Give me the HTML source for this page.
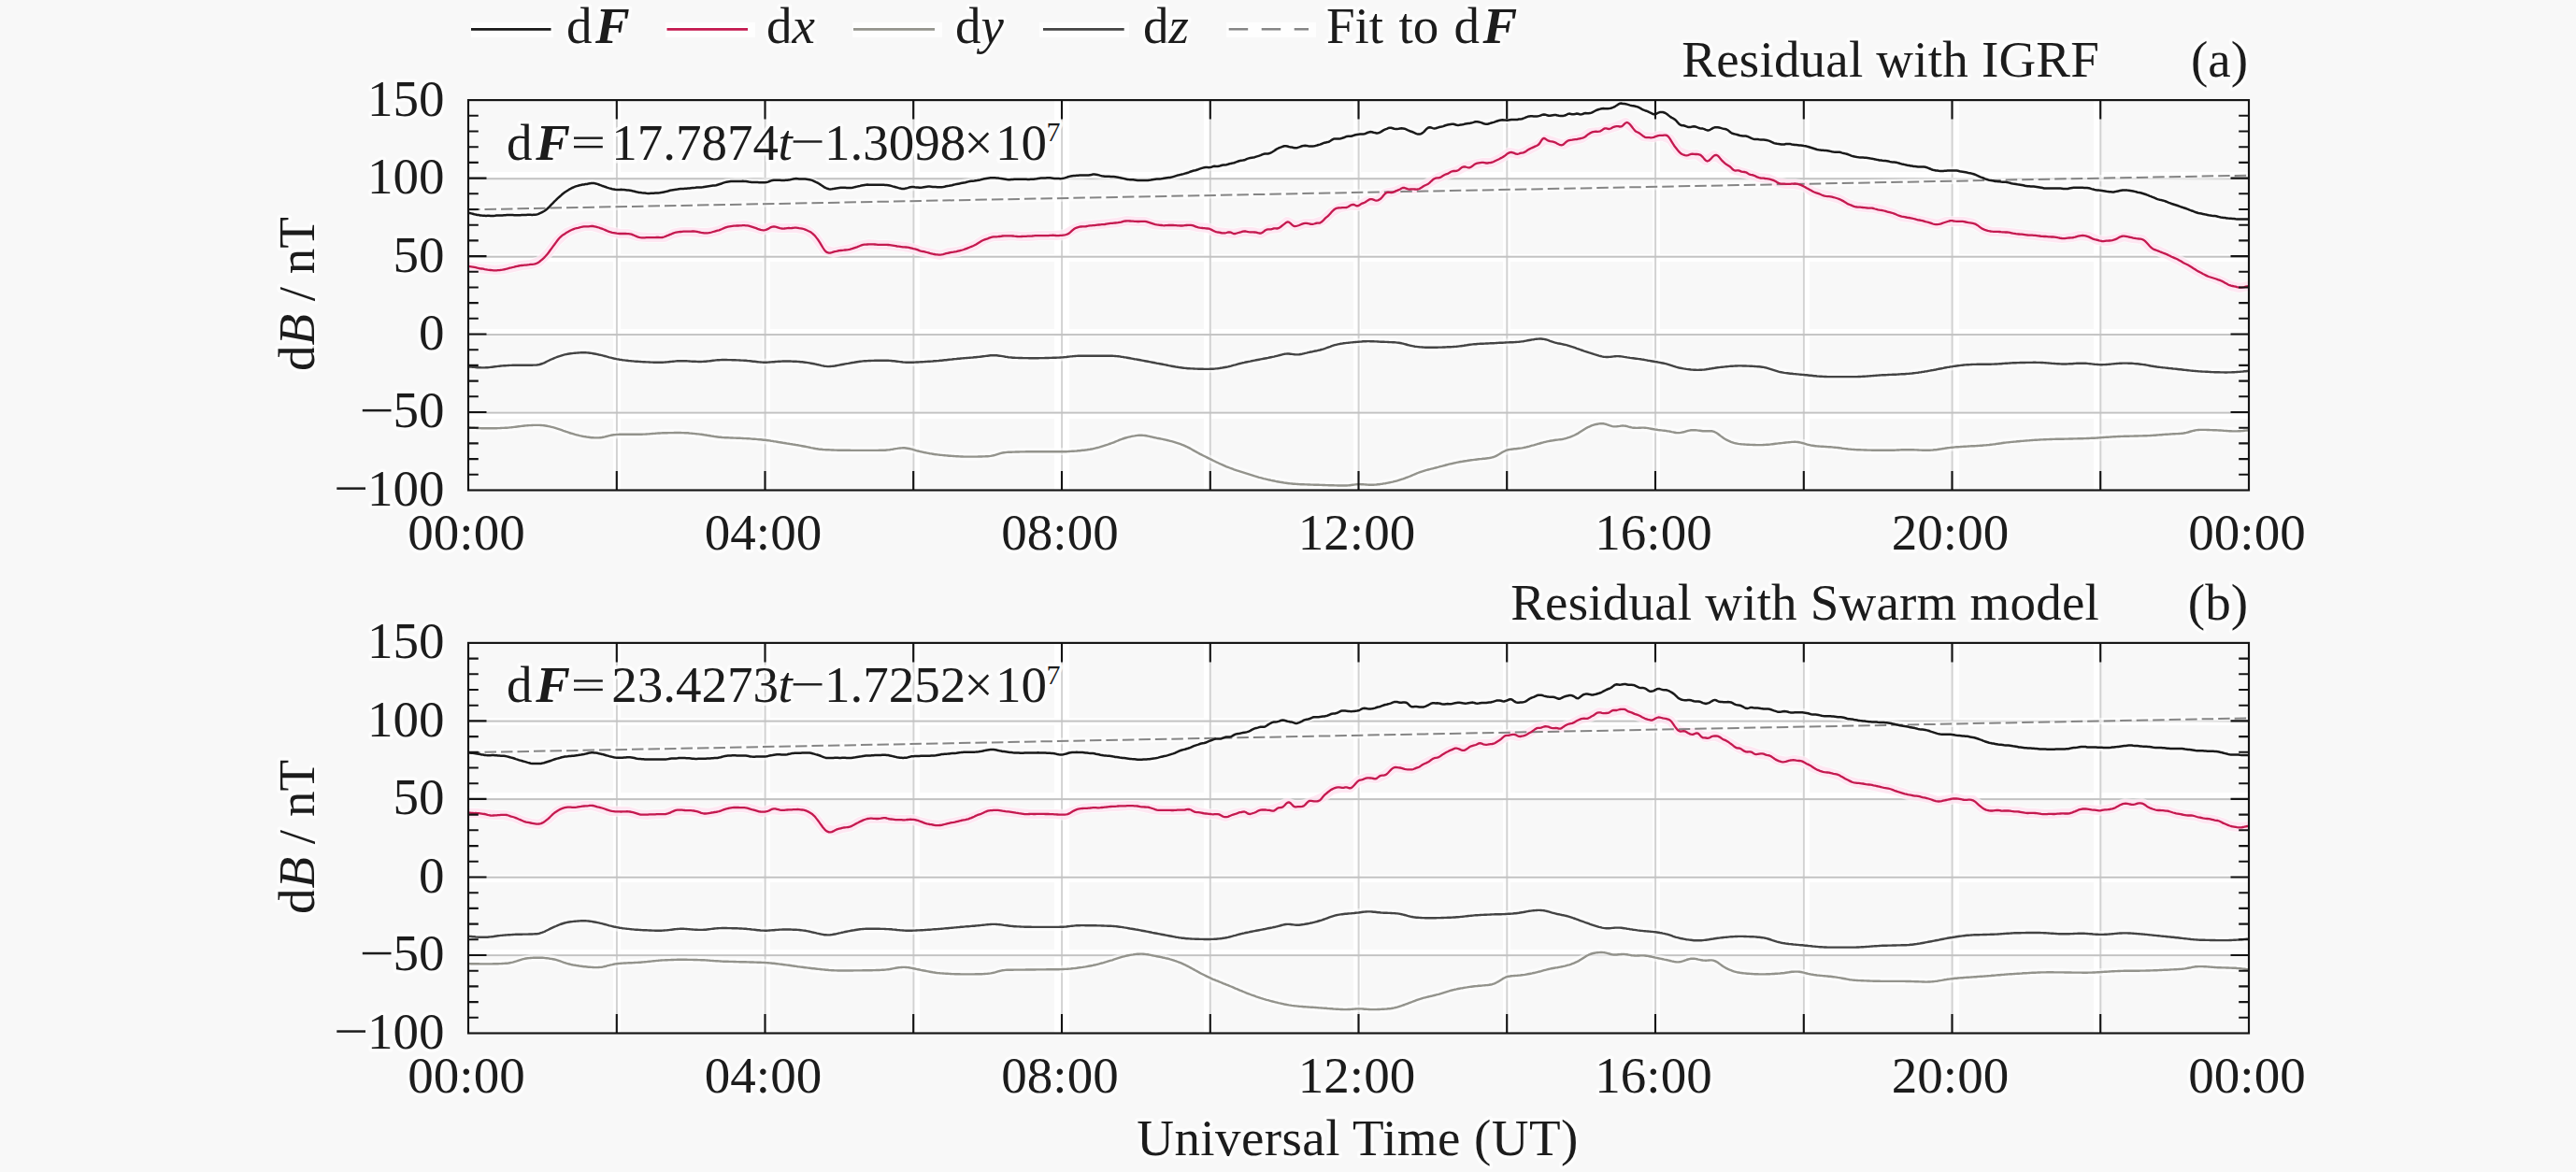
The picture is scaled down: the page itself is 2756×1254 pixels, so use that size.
<!DOCTYPE html>
<html><head><meta charset="utf-8"><title>chart</title>
<style>
html,body{margin:0;padding:0;background:#f8f8f8;}
body{width:2756px;height:1254px;overflow:hidden;}
svg{display:block;}
text{font-family:"Liberation Serif",serif;font-size:55px;fill:#1c1c1c;stroke:#ffffff;stroke-opacity:0.75;stroke-width:7px;stroke-linejoin:round;paint-order:stroke;}
.i{font-style:italic;}
.bi{font-style:italic;font-weight:bold;}
</style></head><body>
<svg width="2756" height="1254" viewBox="0 0 2756 1254">
<rect x="0" y="0" width="2756" height="1254" fill="#f8f8f8"/>
<defs><clipPath id="clipa"><rect x="501.0" y="107.1" width="1905.0" height="417.4"/></clipPath></defs>
<g><g fill="#ffffff"><rect x="656.0" y="107.1" width="8.0" height="417.4"/><rect x="816.0" y="107.1" width="8.0" height="417.4"/><rect x="976.0" y="107.1" width="8.0" height="417.4"/><rect x="1128.0" y="107.1" width="16.0" height="417.4"/><rect x="1288.0" y="107.1" width="8.0" height="417.4"/><rect x="1448.0" y="107.1" width="8.0" height="417.4"/><rect x="1608.0" y="107.1" width="8.0" height="417.4"/><rect x="1768.0" y="107.1" width="8.0" height="417.4"/><rect x="1928.0" y="107.1" width="8.0" height="417.4"/><rect x="2088.0" y="107.1" width="8.0" height="417.4"/><rect x="2240.0" y="107.1" width="8.0" height="417.4"/><rect x="501.0" y="184.0" width="1905.0" height="8.0"/><rect x="501.0" y="272.0" width="1905.0" height="8.0"/><rect x="501.0" y="352.0" width="1905.0" height="8.0"/><rect x="501.0" y="440.0" width="1905.0" height="8.0"/></g><g fill="#d2d2d2"><rect x="658.9" y="107.1" width="2" height="417.4"/><rect x="817.6" y="107.1" width="2" height="417.4"/><rect x="976.4" y="107.1" width="2" height="417.4"/><rect x="1135.1" y="107.1" width="2" height="417.4"/><rect x="1293.8" y="107.1" width="2" height="417.4"/><rect x="1452.6" y="107.1" width="2" height="417.4"/><rect x="1611.3" y="107.1" width="2" height="417.4"/><rect x="1770.1" y="107.1" width="2" height="417.4"/><rect x="1928.8" y="107.1" width="2" height="417.4"/><rect x="2087.6" y="107.1" width="2" height="417.4"/><rect x="2246.3" y="107.1" width="2" height="417.4"/></g><g fill="#c2c2c2"><rect x="501.0" y="190.2" width="1905.0" height="2"/><rect x="501.0" y="273.7" width="1905.0" height="2"/><rect x="501.0" y="357.1" width="1905.0" height="2"/><rect x="501.0" y="440.6" width="1905.0" height="2"/></g></g>
<g clip-path="url(#clipa)"><line x1="501.0" y1="224.3" x2="2406.0" y2="187.6" stroke="#ffffff" stroke-opacity="0.55" stroke-width="7"/>
<polyline points="501,457 511,458 520,458 530,458 539,458 549,457 558,456 568,455 577,455 587,456 596,459 606,462 615,465 625,467 634,468 644,468 653,466 663,465 672,465 682,465 692,464 701,464 711,463 720,463 730,463 739,464 749,465 758,466 768,468 777,468 787,469 796,469 806,470 815,471 825,472 834,473 844,475 853,476 863,478 872,480 882,481 892,482 901,482 911,482 920,482 930,482 939,482 949,482 958,480 968,479 977,481 987,484 996,485 1006,487 1015,488 1025,488 1034,489 1044,489 1053,488 1063,487 1072,485 1082,484 1092,483 1101,483 1111,483 1120,483 1130,483 1139,483 1149,483 1158,482 1168,481 1177,478 1187,475 1196,471 1206,468 1215,466 1225,466 1234,468 1244,470 1253,472 1263,475 1273,479 1282,485 1292,490 1301,494 1311,499 1320,502 1330,505 1339,508 1349,511 1358,514 1368,515 1377,517 1387,518 1396,518 1406,519 1415,519 1425,519 1434,520 1444,519 1454,518 1463,519 1473,519 1482,517 1492,515 1501,512 1511,509 1520,505 1530,502 1539,500 1549,497 1558,495 1568,493 1577,492 1587,491 1596,489 1606,485 1615,481 1625,480 1634,478 1644,475 1654,473 1663,471 1673,470 1682,467 1692,462 1701,456 1711,453 1720,455 1730,456 1739,456 1749,458 1758,458 1768,459 1777,460 1787,462 1796,463 1806,461 1815,460 1825,461 1834,462 1844,469 1854,473 1863,475 1873,476 1882,476 1892,476 1901,475 1911,474 1920,473 1930,474 1939,477 1949,478 1958,478 1968,479 1977,480 1987,481 1996,482 2006,482 2015,482 2025,482 2035,481 2044,481 2054,482 2063,482 2073,481 2082,480 2092,478 2101,478 2111,477 2120,477 2130,476 2139,474 2149,473 2158,472 2168,472 2177,471 2187,470 2196,470 2206,470 2216,469 2225,469 2235,469 2244,468 2254,468 2263,467 2273,467 2282,467 2292,466 2301,466 2311,465 2320,465 2330,464 2339,463 2349,460 2358,460 2368,460 2377,461 2387,461 2396,461 2406,460" fill="none" stroke="#ffffff" stroke-opacity="0.55" stroke-width="8" stroke-linejoin="round"/>
<polyline points="501,392 511,393 520,393 530,392 539,391 549,391 558,391 568,391 577,390 587,386 596,382 606,379 615,378 625,377 634,378 644,380 653,383 663,385 672,386 682,387 692,387 701,388 711,388 720,387 730,386 739,387 749,387 758,386 768,385 777,385 787,385 796,386 806,387 815,388 825,387 834,387 844,387 853,387 863,388 872,390 882,392 892,392 901,390 911,388 920,387 930,386 939,386 949,386 958,387 968,388 977,388 987,387 996,387 1006,386 1015,385 1025,384 1034,383 1044,382 1053,381 1063,380 1072,381 1082,383 1092,383 1101,383 1111,383 1120,383 1130,383 1139,382 1149,381 1158,381 1168,381 1177,381 1187,381 1196,381 1206,383 1215,384 1225,386 1234,388 1244,390 1253,392 1263,393 1273,394 1282,395 1292,395 1301,394 1311,393 1320,391 1330,388 1339,386 1349,384 1358,383 1368,380 1377,378 1387,379 1396,378 1406,376 1415,374 1425,370 1434,368 1444,367 1454,366 1463,365 1473,365 1482,366 1492,366 1501,368 1511,370 1520,371 1530,372 1539,372 1549,371 1558,371 1568,370 1577,368 1587,368 1596,367 1606,367 1615,366 1625,366 1634,364 1644,363 1654,363 1663,366 1673,368 1682,371 1692,374 1701,378 1711,381 1720,382 1730,381 1739,382 1749,383 1758,385 1768,387 1777,388 1787,391 1796,393 1806,395 1815,396 1825,395 1834,394 1844,393 1854,392 1863,391 1873,392 1882,392 1892,394 1901,397 1911,399 1920,400 1930,401 1939,402 1949,403 1958,403 1968,403 1977,403 1987,403 1996,403 2006,402 2015,401 2025,401 2035,400 2044,400 2054,398 2063,397 2073,395 2082,393 2092,392 2101,391 2111,390 2120,390 2130,390 2139,389 2149,389 2158,388 2168,388 2177,388 2187,388 2196,389 2206,389 2216,389 2225,389 2235,389 2244,390 2254,390 2263,389 2273,389 2282,389 2292,390 2301,391 2311,393 2320,394 2330,395 2339,396 2349,397 2358,398 2368,398 2377,398 2387,398 2396,398 2406,397" fill="none" stroke="#ffffff" stroke-opacity="0.55" stroke-width="8" stroke-linejoin="round"/>
<polyline points="501,285 511,287 520,288 530,289 539,288 549,286 558,284 568,283 577,280 587,270 596,258 606,249 615,245 625,242 634,242 644,245 653,248 663,250 672,250 682,253 692,254 701,254 711,254 720,250 730,248 739,248 749,249 758,249 768,247 777,243 787,242 796,241 806,243 815,246 825,243 834,244 844,244 853,244 863,246 872,253 882,267 892,270 901,268 911,266 920,263 930,261 939,262 949,262 958,263 968,264 977,266 987,269 996,271 1006,273 1015,270 1025,269 1034,266 1044,262 1053,256 1063,253 1072,253 1082,252 1092,253 1101,253 1111,252 1120,252 1130,252 1139,251 1149,245 1158,242 1168,241 1177,240 1187,239 1196,238 1206,236 1215,237 1225,237 1234,240 1244,241 1253,241 1263,241 1273,241 1282,243 1292,244 1301,248 1311,249 1320,250 1330,248 1339,248 1349,250 1358,245 1368,244 1377,237 1387,242 1396,239 1406,239 1415,236 1425,227 1434,222 1444,220 1454,220 1463,215 1473,215 1482,207 1492,205 1501,201 1511,202 1520,201 1530,195 1539,190 1549,186 1558,183 1568,178 1577,176 1587,174 1596,174 1606,169 1615,163 1625,165 1634,161 1644,156 1654,149 1663,152 1673,155 1682,150 1692,148 1701,142 1711,141 1720,138 1730,135 1739,131 1749,139 1758,146 1768,147 1777,145 1787,149 1796,162 1806,166 1815,165 1825,172 1834,166 1844,173 1854,181 1863,184 1873,187 1882,190 1892,191 1901,195 1911,197 1920,197 1930,199 1939,205 1949,208 1958,210 1968,213 1977,218 1987,221 1996,222 2006,223 2015,225 2025,228 2035,232 2044,233 2054,236 2063,238 2073,240 2082,237 2092,237 2101,237 2111,239 2120,244 2130,248 2139,248 2149,249 2158,250 2168,251 2177,252 2187,253 2196,254 2206,255 2216,254 2225,252 2235,253 2244,257 2254,258 2263,256 2273,253 2282,255 2292,256 2301,265 2311,269 2320,273 2330,278 2339,283 2349,289 2358,294 2368,297 2377,301 2387,306 2396,308 2406,306" fill="none" stroke="#ffffff" stroke-opacity="0.55" stroke-width="12" stroke-linejoin="round"/>
<polyline points="501,228 511,230 520,231 530,231 539,230 549,230 558,230 568,230 577,228 587,222 596,213 606,205 615,200 625,197 634,196 644,199 653,202 663,203 672,204 682,206 692,207 701,207 711,205 720,203 730,202 739,201 749,201 758,199 768,198 777,195 787,194 796,194 806,195 815,195 825,193 834,193 844,193 853,191 863,192 872,195 882,200 892,202 901,201 911,201 920,199 930,198 939,198 949,198 958,200 968,202 977,200 987,201 996,200 1006,200 1015,199 1025,197 1034,195 1044,193 1053,191 1063,190 1072,191 1082,192 1092,192 1101,192 1111,191 1120,190 1130,191 1139,190 1149,188 1158,188 1168,187 1177,188 1187,189 1196,190 1206,192 1215,193 1225,193 1234,192 1244,191 1253,190 1263,187 1273,184 1282,181 1292,179 1301,178 1311,176 1320,174 1330,172 1339,169 1349,166 1358,164 1368,158 1377,157 1387,158 1396,156 1406,156 1415,153 1425,150 1434,148 1444,146 1454,144 1463,142 1473,142 1482,138 1492,138 1501,137 1511,141 1520,143 1530,136 1539,136 1549,134 1558,134 1568,133 1577,131 1587,132 1596,131 1606,128 1615,128 1625,128 1634,125 1644,124 1654,123 1663,123 1673,124 1682,122 1692,122 1701,121 1711,117 1720,116 1730,113 1739,111 1749,114 1758,118 1768,122 1777,120 1787,125 1796,133 1806,136 1815,136 1825,139 1834,136 1844,138 1854,143 1863,145 1873,147 1882,149 1892,150 1901,154 1911,154 1920,155 1930,156 1939,159 1949,161 1958,162 1968,163 1977,165 1987,168 1996,169 2006,170 2015,172 2025,173 2035,175 2044,177 2054,178 2063,180 2073,183 2082,183 2092,182 2101,184 2111,186 2120,190 2130,193 2139,194 2149,195 2158,197 2168,199 2177,200 2187,201 2196,201 2206,202 2216,201 2225,201 2235,201 2244,203 2254,205 2263,205 2273,203 2282,205 2292,207 2301,210 2311,214 2320,217 2330,220 2339,223 2349,227 2358,229 2368,231 2377,233 2387,234 2396,235 2406,234" fill="none" stroke="#ffffff" stroke-opacity="0.55" stroke-width="8" stroke-linejoin="round"/>
<polyline points="501,285 511,287 520,288 530,289 539,288 549,286 558,284 568,283 577,280 587,270 596,258 606,249 615,245 625,242 634,242 644,245 653,248 663,250 672,250 682,253 692,254 701,254 711,254 720,250 730,248 739,248 749,249 758,249 768,247 777,243 787,242 796,241 806,243 815,246 825,243 834,244 844,244 853,244 863,246 872,253 882,267 892,270 901,268 911,266 920,263 930,261 939,262 949,262 958,263 968,264 977,266 987,269 996,271 1006,273 1015,270 1025,269 1034,266 1044,262 1053,256 1063,253 1072,253 1082,252 1092,253 1101,253 1111,252 1120,252 1130,252 1139,251 1149,245 1158,242 1168,241 1177,240 1187,239 1196,238 1206,236 1215,237 1225,237 1234,240 1244,241 1253,241 1263,241 1273,241 1282,243 1292,244 1301,248 1311,249 1320,250 1330,248 1339,248 1349,250 1358,245 1368,244 1377,237 1387,242 1396,239 1406,239 1415,236 1425,227 1434,222 1444,220 1454,220 1463,215 1473,215 1482,207 1492,205 1501,201 1511,202 1520,201 1530,195 1539,190 1549,186 1558,183 1568,178 1577,176 1587,174 1596,174 1606,169 1615,163 1625,165 1634,161 1644,156 1654,149 1663,152 1673,155 1682,150 1692,148 1701,142 1711,141 1720,138 1730,135 1739,131 1749,139 1758,146 1768,147 1777,145 1787,149 1796,162 1806,166 1815,165 1825,172 1834,166 1844,173 1854,181 1863,184 1873,187 1882,190 1892,191 1901,195 1911,197 1920,197 1930,199 1939,205 1949,208 1958,210 1968,213 1977,218 1987,221 1996,222 2006,223 2015,225 2025,228 2035,232 2044,233 2054,236 2063,238 2073,240 2082,237 2092,237 2101,237 2111,239 2120,244 2130,248 2139,248 2149,249 2158,250 2168,251 2177,252 2187,253 2196,254 2206,255 2216,254 2225,252 2235,253 2244,257 2254,258 2263,256 2273,253 2282,255 2292,256 2301,265 2311,269 2320,273 2330,278 2339,283 2349,289 2358,294 2368,297 2377,301 2387,306 2396,308 2406,306" fill="none" stroke="#ffdcec" stroke-opacity="0.65" stroke-width="10" stroke-linejoin="round"/>
<line x1="501.0" y1="224.3" x2="2406.0" y2="187.6" stroke="#858585" stroke-width="2.0" stroke-dasharray="12.5 5"/>
<polyline points="501.0,457.4 502.6,457.5 504.2,457.6 505.8,457.7 507.4,457.8 508.9,457.9 510.5,458.0 512.1,458.0 513.7,458.1 515.3,458.2 516.9,458.2 518.5,458.3 520.0,458.3 521.6,458.3 523.2,458.3 524.8,458.3 526.4,458.3 528.0,458.3 529.6,458.2 531.2,458.2 532.8,458.1 534.3,458.1 535.9,458.0 537.5,457.9 539.1,457.9 540.7,457.8 542.3,457.7 543.9,457.6 545.5,457.4 547.0,457.3 548.6,457.1 550.2,456.9 551.8,456.7 553.4,456.5 555.0,456.3 556.6,456.1 558.1,455.9 559.7,455.7 561.3,455.5 562.9,455.4 564.5,455.2 566.1,455.1 567.7,455.1 569.3,455.0 570.9,454.9 572.4,454.9 574.0,454.9 575.6,454.9 577.2,454.9 578.8,455.0 580.4,455.1 582.0,455.3 583.5,455.5 585.1,455.8 586.7,456.1 588.3,456.4 589.9,456.8 591.5,457.2 593.1,457.6 594.7,458.1 596.2,458.6 597.8,459.1 599.4,459.6 601.0,460.2 602.6,460.8 604.2,461.3 605.8,461.9 607.4,462.4 609.0,463.0 610.5,463.5 612.1,463.9 613.7,464.4 615.3,464.9 616.9,465.3 618.5,465.7 620.1,466.1 621.6,466.4 623.2,466.8 624.8,467.1 626.4,467.3 628.0,467.6 629.6,467.8 631.2,468.0 632.8,468.2 634.4,468.3 635.9,468.4 637.5,468.4 639.1,468.4 640.7,468.4 642.3,468.2 643.9,468.0 645.5,467.7 647.0,467.4 648.6,467.0 650.2,466.6 651.8,466.2 653.4,465.8 655.0,465.5 656.6,465.3 658.2,465.1 659.8,464.9 661.3,464.9 662.9,464.8 664.5,464.8 666.1,464.8 667.7,464.8 669.3,464.8 670.9,464.8 672.5,464.8 674.0,464.8 675.6,464.8 677.2,464.8 678.8,464.8 680.4,464.8 682.0,464.8 683.6,464.7 685.1,464.7 686.7,464.7 688.3,464.6 689.9,464.6 691.5,464.5 693.1,464.4 694.7,464.3 696.3,464.1 697.9,464.0 699.4,463.9 701.0,463.8 702.6,463.6 704.2,463.5 705.8,463.5 707.4,463.4 709.0,463.3 710.5,463.3 712.1,463.2 713.7,463.2 715.3,463.1 716.9,463.1 718.5,463.1 720.1,463.1 721.7,463.0 723.2,463.0 724.8,463.0 726.4,463.0 728.0,463.0 729.6,463.1 731.2,463.1 732.8,463.2 734.4,463.2 736.0,463.3 737.5,463.5 739.1,463.6 740.7,463.8 742.3,463.9 743.9,464.1 745.5,464.3 747.1,464.4 748.6,464.6 750.2,464.8 751.8,465.0 753.4,465.3 755.0,465.5 756.6,465.8 758.2,466.0 759.8,466.3 761.4,466.6 762.9,466.8 764.5,467.1 766.1,467.3 767.7,467.5 769.3,467.7 770.9,467.8 772.5,468.0 774.0,468.1 775.6,468.2 777.2,468.3 778.8,468.3 780.4,468.4 782.0,468.5 783.6,468.5 785.2,468.6 786.8,468.6 788.3,468.7 789.9,468.8 791.5,468.8 793.1,468.9 794.7,469.0 796.3,469.1 797.9,469.1 799.5,469.2 801.0,469.3 802.6,469.4 804.2,469.6 805.8,469.7 807.4,469.8 809.0,469.9 810.6,470.1 812.1,470.2 813.7,470.3 815.3,470.5 816.9,470.7 818.5,470.8 820.1,471.0 821.7,471.2 823.3,471.4 824.9,471.7 826.4,471.9 828.0,472.2 829.6,472.4 831.2,472.7 832.8,473.0 834.4,473.2 836.0,473.5 837.5,473.8 839.1,474.0 840.7,474.3 842.3,474.6 843.9,474.8 845.5,475.1 847.1,475.3 848.7,475.6 850.2,475.8 851.8,476.1 853.4,476.3 855.0,476.6 856.6,476.9 858.2,477.2 859.8,477.5 861.4,477.8 863.0,478.1 864.5,478.4 866.1,478.7 867.7,479.1 869.3,479.4 870.9,479.7 872.5,480.0 874.1,480.2 875.7,480.5 877.2,480.7 878.8,480.8 880.4,481.0 882.0,481.1 883.6,481.2 885.2,481.3 886.8,481.3 888.3,481.4 889.9,481.5 891.5,481.5 893.1,481.6 894.7,481.6 896.3,481.7 897.9,481.7 899.5,481.7 901.0,481.8 902.6,481.8 904.2,481.8 905.8,481.8 907.4,481.8 909.0,481.8 910.6,481.9 912.2,481.9 913.8,481.9 915.3,481.9 916.9,481.9 918.5,481.9 920.1,481.9 921.7,481.9 923.3,481.9 924.9,481.9 926.5,481.9 928.0,481.9 929.6,481.9 931.2,481.9 932.8,481.9 934.4,481.9 936.0,481.9 937.6,481.9 939.2,481.9 940.7,481.8 942.3,481.8 943.9,481.8 945.5,481.7 947.1,481.7 948.7,481.5 950.3,481.4 951.8,481.2 953.4,480.9 955.0,480.7 956.6,480.4 958.2,480.1 959.8,479.9 961.4,479.6 963.0,479.5 964.5,479.4 966.1,479.3 967.7,479.3 969.3,479.5 970.9,479.7 972.5,480.0 974.1,480.3 975.7,480.7 977.2,481.2 978.8,481.6 980.4,482.1 982.0,482.5 983.6,482.9 985.2,483.3 986.8,483.6 988.4,484.0 990.0,484.3 991.5,484.6 993.1,484.9 994.7,485.2 996.3,485.4 997.9,485.7 999.5,486.0 1001.1,486.2 1002.7,486.4 1004.2,486.6 1005.8,486.8 1007.4,486.9 1009.0,487.1 1010.6,487.2 1012.2,487.4 1013.8,487.5 1015.4,487.7 1016.9,487.8 1018.5,487.9 1020.1,488.0 1021.7,488.1 1023.3,488.2 1024.9,488.3 1026.5,488.4 1028.1,488.5 1029.6,488.5 1031.2,488.6 1032.8,488.6 1034.4,488.6 1036.0,488.6 1037.6,488.6 1039.2,488.6 1040.8,488.6 1042.3,488.6 1043.9,488.6 1045.5,488.6 1047.1,488.5 1048.7,488.5 1050.3,488.5 1051.9,488.4 1053.4,488.4 1055.0,488.3 1056.6,488.3 1058.2,488.1 1059.8,487.9 1061.4,487.6 1063.0,487.3 1064.6,486.8 1066.2,486.3 1067.7,485.8 1069.3,485.3 1070.9,484.9 1072.5,484.5 1074.1,484.3 1075.7,484.1 1077.3,483.9 1078.8,483.8 1080.4,483.7 1082.0,483.7 1083.6,483.6 1085.2,483.6 1086.8,483.5 1088.4,483.5 1090.0,483.5 1091.6,483.4 1093.1,483.4 1094.7,483.4 1096.3,483.4 1097.9,483.3 1099.5,483.3 1101.1,483.3 1102.7,483.3 1104.2,483.3 1105.8,483.3 1107.4,483.3 1109.0,483.3 1110.6,483.3 1112.2,483.3 1113.8,483.3 1115.4,483.3 1116.9,483.3 1118.5,483.3 1120.1,483.3 1121.7,483.3 1123.3,483.3 1124.9,483.3 1126.5,483.3 1128.1,483.3 1129.7,483.3 1131.2,483.3 1132.8,483.3 1134.4,483.3 1136.0,483.3 1137.6,483.2 1139.2,483.2 1140.8,483.2 1142.3,483.1 1143.9,483.0 1145.5,482.9 1147.1,482.8 1148.7,482.7 1150.3,482.6 1151.9,482.5 1153.5,482.3 1155.1,482.2 1156.6,482.0 1158.2,481.8 1159.8,481.7 1161.4,481.5 1163.0,481.3 1164.6,481.0 1166.2,480.8 1167.8,480.5 1169.3,480.2 1170.9,479.8 1172.5,479.4 1174.1,479.0 1175.7,478.6 1177.3,478.1 1178.9,477.6 1180.5,477.1 1182.0,476.6 1183.6,476.1 1185.2,475.6 1186.8,475.0 1188.4,474.5 1190.0,473.9 1191.6,473.3 1193.2,472.6 1194.7,472.0 1196.3,471.4 1197.9,470.7 1199.5,470.1 1201.1,469.5 1202.7,469.0 1204.3,468.5 1205.8,468.1 1207.4,467.7 1209.0,467.3 1210.6,466.9 1212.2,466.6 1213.8,466.4 1215.4,466.1 1217.0,465.9 1218.6,465.8 1220.1,465.8 1221.7,465.8 1223.3,465.9 1224.9,466.0 1226.5,466.3 1228.1,466.6 1229.7,466.9 1231.2,467.3 1232.8,467.6 1234.4,468.0 1236.0,468.3 1237.6,468.7 1239.2,469.0 1240.8,469.3 1242.4,469.6 1243.9,469.9 1245.5,470.3 1247.1,470.6 1248.7,471.0 1250.3,471.4 1251.9,471.8 1253.5,472.2 1255.1,472.6 1256.7,473.1 1258.2,473.6 1259.8,474.1 1261.4,474.6 1263.0,475.2 1264.6,475.8 1266.2,476.4 1267.8,477.1 1269.3,477.8 1270.9,478.6 1272.5,479.4 1274.1,480.3 1275.7,481.2 1277.3,482.1 1278.9,483.0 1280.5,483.9 1282.1,484.7 1283.6,485.6 1285.2,486.4 1286.8,487.2 1288.4,488.0 1290.0,488.8 1291.6,489.6 1293.2,490.4 1294.8,491.2 1296.3,491.9 1297.9,492.7 1299.5,493.5 1301.1,494.3 1302.7,495.0 1304.3,495.8 1305.9,496.5 1307.4,497.2 1309.0,497.9 1310.6,498.6 1312.2,499.3 1313.8,499.9 1315.4,500.5 1317.0,501.1 1318.6,501.7 1320.2,502.3 1321.7,502.8 1323.3,503.4 1324.9,503.9 1326.5,504.4 1328.1,504.9 1329.7,505.4 1331.3,505.9 1332.8,506.4 1334.4,506.9 1336.0,507.4 1337.6,507.9 1339.2,508.4 1340.8,508.9 1342.4,509.4 1344.0,509.8 1345.6,510.3 1347.1,510.8 1348.7,511.2 1350.3,511.6 1351.9,512.1 1353.5,512.4 1355.1,512.8 1356.7,513.2 1358.2,513.5 1359.8,513.9 1361.4,514.2 1363.0,514.5 1364.6,514.9 1366.2,515.2 1367.8,515.5 1369.4,515.8 1371.0,516.0 1372.5,516.3 1374.1,516.6 1375.7,516.8 1377.3,517.0 1378.9,517.2 1380.5,517.4 1382.1,517.5 1383.7,517.7 1385.2,517.8 1386.8,517.9 1388.4,518.0 1390.0,518.1 1391.6,518.2 1393.2,518.2 1394.8,518.3 1396.3,518.4 1397.9,518.4 1399.5,518.5 1401.1,518.5 1402.7,518.6 1404.3,518.6 1405.9,518.7 1407.5,518.7 1409.1,518.8 1410.6,518.8 1412.2,518.9 1413.8,518.9 1415.4,519.0 1417.0,519.0 1418.6,519.1 1420.2,519.1 1421.8,519.2 1423.3,519.2 1424.9,519.3 1426.5,519.3 1428.1,519.4 1429.7,519.4 1431.3,519.5 1432.9,519.5 1434.4,519.5 1436.0,519.5 1437.6,519.5 1439.2,519.5 1440.8,519.5 1442.4,519.4 1444.0,519.2 1445.6,519.0 1447.2,518.8 1448.7,518.6 1450.3,518.4 1451.9,518.2 1453.5,518.1 1455.1,518.1 1456.7,518.2 1458.3,518.2 1459.8,518.4 1461.4,518.5 1463.0,518.6 1464.6,518.7 1466.2,518.7 1467.8,518.7 1469.4,518.7 1471.0,518.6 1472.6,518.5 1474.1,518.3 1475.7,518.2 1477.3,517.9 1478.9,517.7 1480.5,517.4 1482.1,517.2 1483.7,516.9 1485.2,516.6 1486.8,516.3 1488.4,515.9 1490.0,515.6 1491.6,515.2 1493.2,514.8 1494.8,514.4 1496.4,513.9 1497.9,513.4 1499.5,512.9 1501.1,512.4 1502.7,511.8 1504.3,511.2 1505.9,510.6 1507.5,510.0 1509.1,509.4 1510.7,508.7 1512.2,508.0 1513.8,507.3 1515.4,506.7 1517.0,506.0 1518.6,505.4 1520.2,504.8 1521.8,504.3 1523.3,503.8 1524.9,503.3 1526.5,502.9 1528.1,502.5 1529.7,502.1 1531.3,501.7 1532.9,501.3 1534.5,500.9 1536.0,500.5 1537.6,500.1 1539.2,499.7 1540.8,499.2 1542.4,498.8 1544.0,498.4 1545.6,498.0 1547.2,497.5 1548.8,497.1 1550.3,496.7 1551.9,496.3 1553.5,496.0 1555.1,495.6 1556.7,495.3 1558.3,494.9 1559.9,494.6 1561.5,494.3 1563.0,494.0 1564.6,493.8 1566.2,493.5 1567.8,493.2 1569.4,493.0 1571.0,492.7 1572.6,492.5 1574.1,492.3 1575.7,492.1 1577.3,491.9 1578.9,491.7 1580.5,491.5 1582.1,491.3 1583.7,491.1 1585.3,491.0 1586.8,490.8 1588.4,490.7 1590.0,490.5 1591.6,490.3 1593.2,490.1 1594.8,489.8 1596.4,489.4 1598.0,489.0 1599.5,488.4 1601.1,487.6 1602.7,486.7 1604.3,485.8 1605.9,484.8 1607.5,483.8 1609.1,483.0 1610.7,482.2 1612.2,481.7 1613.8,481.2 1615.4,480.9 1617.0,480.7 1618.6,480.5 1620.2,480.3 1621.8,480.2 1623.4,480.0 1625.0,479.8 1626.5,479.6 1628.1,479.4 1629.7,479.1 1631.3,478.7 1632.9,478.4 1634.5,478.0 1636.1,477.6 1637.7,477.1 1639.2,476.7 1640.8,476.3 1642.4,475.8 1644.0,475.4 1645.6,474.9 1647.2,474.5 1648.8,474.0 1650.4,473.6 1651.9,473.2 1653.5,472.8 1655.1,472.4 1656.7,472.1 1658.3,471.8 1659.9,471.5 1661.5,471.3 1663.0,471.0 1664.6,470.8 1666.2,470.6 1667.8,470.4 1669.4,470.2 1671.0,470.0 1672.6,469.7 1674.2,469.3 1675.8,468.9 1677.3,468.4 1678.9,467.9 1680.5,467.3 1682.1,466.7 1683.7,466.0 1685.3,465.2 1686.9,464.4 1688.5,463.6 1690.0,462.6 1691.6,461.6 1693.2,460.6 1694.8,459.6 1696.4,458.6 1698.0,457.6 1699.6,456.8 1701.2,456.1 1702.7,455.4 1704.3,454.9 1705.9,454.4 1707.5,454.0 1709.1,453.7 1710.7,453.4 1712.3,453.2 1713.9,453.2 1715.4,453.3 1717.0,453.6 1718.6,454.0 1720.2,454.6 1721.8,455.2 1723.4,455.7 1725.0,456.1 1726.5,456.4 1728.1,456.4 1729.7,456.3 1731.3,456.1 1732.9,455.9 1734.5,455.6 1736.1,455.5 1737.7,455.6 1739.2,455.8 1740.8,456.1 1742.4,456.6 1744.0,457.0 1745.6,457.4 1747.2,457.7 1748.8,457.8 1750.4,457.9 1752.0,457.9 1753.5,457.8 1755.1,457.7 1756.7,457.6 1758.3,457.6 1759.9,457.7 1761.5,457.9 1763.1,458.1 1764.6,458.4 1766.2,458.7 1767.8,459.0 1769.4,459.3 1771.0,459.6 1772.6,459.8 1774.2,460.1 1775.8,460.2 1777.4,460.4 1778.9,460.6 1780.5,460.7 1782.1,460.9 1783.7,461.2 1785.3,461.4 1786.9,461.7 1788.5,462.1 1790.1,462.4 1791.6,462.7 1793.2,463.0 1794.8,463.1 1796.4,463.1 1798.0,462.9 1799.6,462.6 1801.2,462.3 1802.7,461.8 1804.3,461.3 1805.9,460.9 1807.5,460.6 1809.1,460.3 1810.7,460.2 1812.3,460.2 1813.9,460.3 1815.5,460.4 1817.0,460.6 1818.6,460.8 1820.2,461.0 1821.8,461.2 1823.4,461.2 1825.0,461.2 1826.6,461.2 1828.1,461.2 1829.7,461.2 1831.3,461.3 1832.9,461.6 1834.5,462.2 1836.1,463.0 1837.7,464.0 1839.3,465.2 1840.8,466.4 1842.4,467.6 1844.0,468.7 1845.6,469.7 1847.2,470.6 1848.8,471.4 1850.4,472.1 1852.0,472.8 1853.5,473.3 1855.1,473.9 1856.7,474.3 1858.3,474.6 1859.9,474.9 1861.5,475.1 1863.1,475.3 1864.7,475.4 1866.2,475.5 1867.8,475.6 1869.4,475.7 1871.0,475.8 1872.6,475.9 1874.2,475.9 1875.8,476.0 1877.4,476.0 1878.9,476.1 1880.5,476.1 1882.1,476.1 1883.7,476.1 1885.3,476.1 1886.9,476.0 1888.5,475.9 1890.1,475.8 1891.6,475.7 1893.2,475.6 1894.8,475.4 1896.4,475.2 1898.0,475.0 1899.6,474.8 1901.2,474.6 1902.8,474.4 1904.4,474.2 1905.9,474.1 1907.5,473.9 1909.1,473.7 1910.7,473.5 1912.3,473.4 1913.9,473.2 1915.5,473.1 1917.0,472.9 1918.6,472.9 1920.2,472.8 1921.8,472.9 1923.4,473.0 1925.0,473.3 1926.6,473.6 1928.2,474.0 1929.8,474.4 1931.3,474.9 1932.9,475.4 1934.5,475.8 1936.1,476.2 1937.7,476.6 1939.3,476.8 1940.9,477.0 1942.5,477.2 1944.0,477.4 1945.6,477.5 1947.2,477.6 1948.8,477.7 1950.4,477.8 1952.0,477.9 1953.6,478.0 1955.1,478.1 1956.7,478.2 1958.3,478.3 1959.9,478.4 1961.5,478.6 1963.1,478.7 1964.7,478.9 1966.3,479.0 1967.9,479.2 1969.4,479.4 1971.0,479.7 1972.6,479.9 1974.2,480.1 1975.8,480.3 1977.4,480.5 1979.0,480.6 1980.6,480.8 1982.1,480.9 1983.7,481.0 1985.3,481.1 1986.9,481.2 1988.5,481.3 1990.1,481.3 1991.7,481.4 1993.2,481.4 1994.8,481.5 1996.4,481.5 1998.0,481.6 1999.6,481.6 2001.2,481.6 2002.8,481.7 2004.4,481.7 2006.0,481.7 2007.5,481.8 2009.1,481.8 2010.7,481.8 2012.3,481.8 2013.9,481.8 2015.5,481.8 2017.1,481.8 2018.6,481.8 2020.2,481.8 2021.8,481.8 2023.4,481.8 2025.0,481.7 2026.6,481.7 2028.2,481.6 2029.8,481.5 2031.4,481.5 2032.9,481.4 2034.5,481.3 2036.1,481.3 2037.7,481.3 2039.3,481.2 2040.9,481.2 2042.5,481.2 2044.1,481.2 2045.6,481.3 2047.2,481.3 2048.8,481.4 2050.4,481.4 2052.0,481.5 2053.6,481.6 2055.2,481.6 2056.8,481.7 2058.3,481.7 2059.9,481.8 2061.5,481.8 2063.1,481.7 2064.7,481.7 2066.3,481.6 2067.9,481.5 2069.4,481.3 2071.0,481.2 2072.6,481.0 2074.2,480.7 2075.8,480.5 2077.4,480.3 2079.0,480.0 2080.6,479.8 2082.2,479.5 2083.7,479.3 2085.3,479.1 2086.9,478.9 2088.5,478.7 2090.1,478.6 2091.7,478.4 2093.3,478.3 2094.9,478.2 2096.4,478.1 2098.0,478.0 2099.6,477.9 2101.2,477.8 2102.8,477.7 2104.4,477.6 2106.0,477.5 2107.6,477.4 2109.1,477.3 2110.7,477.3 2112.3,477.2 2113.9,477.1 2115.5,477.0 2117.1,476.9 2118.7,476.8 2120.2,476.7 2121.8,476.5 2123.4,476.4 2125.0,476.3 2126.6,476.1 2128.2,476.0 2129.8,475.8 2131.4,475.6 2132.9,475.4 2134.5,475.2 2136.1,474.9 2137.7,474.7 2139.3,474.5 2140.9,474.3 2142.5,474.0 2144.1,473.8 2145.6,473.6 2147.2,473.4 2148.8,473.3 2150.4,473.1 2152.0,472.9 2153.6,472.8 2155.2,472.6 2156.8,472.5 2158.4,472.3 2159.9,472.2 2161.5,472.0 2163.1,471.9 2164.7,471.8 2166.3,471.6 2167.9,471.5 2169.5,471.4 2171.1,471.3 2172.6,471.1 2174.2,471.0 2175.8,470.9 2177.4,470.8 2179.0,470.7 2180.6,470.6 2182.2,470.5 2183.8,470.4 2185.3,470.4 2186.9,470.3 2188.5,470.2 2190.1,470.1 2191.7,470.1 2193.3,470.0 2194.9,470.0 2196.4,469.9 2198.0,469.9 2199.6,469.8 2201.2,469.8 2202.8,469.8 2204.4,469.7 2206.0,469.7 2207.6,469.7 2209.1,469.6 2210.7,469.6 2212.3,469.6 2213.9,469.5 2215.5,469.5 2217.1,469.5 2218.7,469.4 2220.3,469.4 2221.9,469.4 2223.4,469.3 2225.0,469.3 2226.6,469.2 2228.2,469.2 2229.8,469.1 2231.4,469.1 2233.0,469.0 2234.6,469.0 2236.1,468.9 2237.7,468.8 2239.3,468.7 2240.9,468.7 2242.5,468.6 2244.1,468.5 2245.7,468.4 2247.2,468.2 2248.8,468.1 2250.4,468.0 2252.0,467.9 2253.6,467.8 2255.2,467.7 2256.8,467.6 2258.4,467.5 2259.9,467.4 2261.5,467.3 2263.1,467.2 2264.7,467.1 2266.3,467.0 2267.9,467.0 2269.5,466.9 2271.1,466.9 2272.6,466.8 2274.2,466.8 2275.8,466.7 2277.4,466.7 2279.0,466.6 2280.6,466.6 2282.2,466.6 2283.8,466.5 2285.4,466.5 2286.9,466.5 2288.5,466.4 2290.1,466.4 2291.7,466.4 2293.3,466.3 2294.9,466.3 2296.5,466.2 2298.1,466.1 2299.6,466.1 2301.2,466.0 2302.8,465.9 2304.4,465.8 2306.0,465.7 2307.6,465.5 2309.2,465.4 2310.8,465.3 2312.3,465.2 2313.9,465.0 2315.5,464.9 2317.1,464.8 2318.7,464.7 2320.3,464.6 2321.9,464.5 2323.4,464.4 2325.0,464.3 2326.6,464.2 2328.2,464.1 2329.8,464.1 2331.4,464.0 2333.0,463.9 2334.6,463.7 2336.1,463.5 2337.7,463.2 2339.3,462.9 2340.9,462.5 2342.5,462.0 2344.1,461.5 2345.7,461.1 2347.3,460.7 2348.9,460.4 2350.4,460.1 2352.0,460.0 2353.6,459.9 2355.2,459.9 2356.8,459.9 2358.4,459.9 2360.0,459.9 2361.6,460.0 2363.1,460.0 2364.7,460.1 2366.3,460.1 2367.9,460.2 2369.5,460.2 2371.1,460.3 2372.7,460.4 2374.2,460.5 2375.8,460.5 2377.4,460.6 2379.0,460.8 2380.6,460.9 2382.2,461.0 2383.8,461.1 2385.4,461.3 2386.9,461.3 2388.5,461.4 2390.1,461.4 2391.7,461.4 2393.3,461.4 2394.9,461.3 2396.5,461.2 2398.1,461.1 2399.7,461.0 2401.2,460.8 2402.8,460.6 2404.4,460.5 2406.0,460.4" fill="none" stroke="#93938c" stroke-width="2.4" stroke-linejoin="round" stroke-linecap="butt"/>
<polyline points="501.0,392.3 502.6,392.5 504.2,392.6 505.8,392.8 507.4,392.9 508.9,393.1 510.5,393.2 512.1,393.3 513.7,393.3 515.3,393.4 516.9,393.4 518.5,393.4 520.0,393.3 521.6,393.2 523.2,393.1 524.8,392.9 526.4,392.7 528.0,392.5 529.6,392.3 531.2,392.1 532.8,391.9 534.3,391.7 535.9,391.5 537.5,391.4 539.1,391.3 540.7,391.2 542.3,391.1 543.9,391.0 545.5,390.9 547.0,390.9 548.6,390.8 550.2,390.8 551.8,390.7 553.4,390.7 555.0,390.7 556.6,390.7 558.1,390.7 559.7,390.7 561.3,390.7 562.9,390.7 564.5,390.7 566.1,390.7 567.7,390.7 569.3,390.7 570.9,390.6 572.4,390.6 574.0,390.5 575.6,390.3 577.2,390.0 578.8,389.5 580.4,389.0 582.0,388.3 583.5,387.6 585.1,386.8 586.7,386.0 588.3,385.2 589.9,384.5 591.5,383.8 593.1,383.1 594.7,382.5 596.2,381.9 597.8,381.3 599.4,380.8 601.0,380.3 602.6,379.8 604.2,379.4 605.8,379.1 607.4,378.8 609.0,378.5 610.5,378.3 612.1,378.1 613.7,377.9 615.3,377.7 616.9,377.6 618.5,377.5 620.1,377.4 621.6,377.3 623.2,377.3 624.8,377.3 626.4,377.3 628.0,377.4 629.6,377.5 631.2,377.7 632.8,377.9 634.4,378.2 635.9,378.5 637.5,378.8 639.1,379.1 640.7,379.5 642.3,379.8 643.9,380.2 645.5,380.6 647.0,381.0 648.6,381.4 650.2,381.8 651.8,382.3 653.4,382.7 655.0,383.1 656.6,383.5 658.2,383.8 659.8,384.2 661.3,384.4 662.9,384.7 664.5,384.9 666.1,385.2 667.7,385.4 669.3,385.6 670.9,385.8 672.5,386.0 674.0,386.1 675.6,386.3 677.2,386.4 678.8,386.6 680.4,386.7 682.0,386.8 683.6,386.9 685.1,387.0 686.7,387.1 688.3,387.2 689.9,387.3 691.5,387.4 693.1,387.4 694.7,387.5 696.3,387.6 697.9,387.6 699.4,387.7 701.0,387.7 702.6,387.7 704.2,387.8 705.8,387.8 707.4,387.7 709.0,387.7 710.5,387.6 712.1,387.5 713.7,387.4 715.3,387.2 716.9,387.0 718.5,386.9 720.1,386.7 721.7,386.6 723.2,386.4 724.8,386.3 726.4,386.2 728.0,386.2 729.6,386.2 731.2,386.2 732.8,386.2 734.4,386.3 736.0,386.4 737.5,386.5 739.1,386.6 740.7,386.7 742.3,386.8 743.9,386.8 745.5,386.9 747.1,387.0 748.6,387.0 750.2,387.0 751.8,386.9 753.4,386.8 755.0,386.7 756.6,386.5 758.2,386.4 759.8,386.2 761.4,386.0 762.9,385.8 764.5,385.6 766.1,385.4 767.7,385.3 769.3,385.2 770.9,385.1 772.5,385.0 774.0,385.0 775.6,385.0 777.2,385.0 778.8,385.1 780.4,385.1 782.0,385.1 783.6,385.2 785.2,385.2 786.8,385.3 788.3,385.4 789.9,385.4 791.5,385.5 793.1,385.6 794.7,385.6 796.3,385.7 797.9,385.8 799.5,386.0 801.0,386.1 802.6,386.3 804.2,386.5 805.8,386.7 807.4,386.8 809.0,387.0 810.6,387.2 812.1,387.4 813.7,387.5 815.3,387.6 816.9,387.7 818.5,387.7 820.1,387.7 821.7,387.6 823.3,387.5 824.9,387.4 826.4,387.3 828.0,387.2 829.6,387.0 831.2,386.9 832.8,386.8 834.4,386.7 836.0,386.6 837.5,386.5 839.1,386.5 840.7,386.5 842.3,386.5 843.9,386.5 845.5,386.5 847.1,386.6 848.7,386.7 850.2,386.7 851.8,386.8 853.4,386.9 855.0,387.0 856.6,387.2 858.2,387.3 859.8,387.5 861.4,387.7 863.0,387.9 864.5,388.1 866.1,388.4 867.7,388.7 869.3,389.0 870.9,389.3 872.5,389.6 874.1,390.0 875.7,390.3 877.2,390.7 878.8,391.1 880.4,391.4 882.0,391.7 883.6,391.9 885.2,392.1 886.8,392.1 888.3,392.0 889.9,391.9 891.5,391.7 893.1,391.5 894.7,391.2 896.3,390.9 897.9,390.6 899.5,390.3 901.0,390.0 902.6,389.7 904.2,389.4 905.8,389.1 907.4,388.9 909.0,388.6 910.6,388.3 912.2,388.0 913.8,387.8 915.3,387.5 916.9,387.2 918.5,387.0 920.1,386.8 921.7,386.6 923.3,386.4 924.9,386.3 926.5,386.2 928.0,386.1 929.6,386.0 931.2,386.0 932.8,385.9 934.4,385.9 936.0,385.8 937.6,385.8 939.2,385.8 940.7,385.8 942.3,385.7 943.9,385.7 945.5,385.7 947.1,385.7 948.7,385.8 950.3,385.8 951.8,385.9 953.4,386.0 955.0,386.2 956.6,386.3 958.2,386.5 959.8,386.7 961.4,386.9 963.0,387.1 964.5,387.3 966.1,387.5 967.7,387.6 969.3,387.7 970.9,387.7 972.5,387.7 974.1,387.7 975.7,387.7 977.2,387.7 978.8,387.6 980.4,387.5 982.0,387.5 983.6,387.4 985.2,387.3 986.8,387.2 988.4,387.1 990.0,387.0 991.5,386.9 993.1,386.8 994.7,386.7 996.3,386.6 997.9,386.5 999.5,386.3 1001.1,386.2 1002.7,386.1 1004.2,386.0 1005.8,385.8 1007.4,385.7 1009.0,385.5 1010.6,385.3 1012.2,385.2 1013.8,385.0 1015.4,384.8 1016.9,384.6 1018.5,384.5 1020.1,384.3 1021.7,384.1 1023.3,384.0 1024.9,383.8 1026.5,383.7 1028.1,383.5 1029.6,383.4 1031.2,383.2 1032.8,383.1 1034.4,383.0 1036.0,382.9 1037.6,382.7 1039.2,382.6 1040.8,382.5 1042.3,382.3 1043.9,382.2 1045.5,382.0 1047.1,381.9 1048.7,381.7 1050.3,381.5 1051.9,381.3 1053.4,381.1 1055.0,380.9 1056.6,380.7 1058.2,380.5 1059.8,380.3 1061.4,380.2 1063.0,380.2 1064.6,380.2 1066.2,380.3 1067.7,380.5 1069.3,380.7 1070.9,380.9 1072.5,381.1 1074.1,381.4 1075.7,381.7 1077.3,381.9 1078.8,382.2 1080.4,382.4 1082.0,382.5 1083.6,382.7 1085.2,382.8 1086.8,382.9 1088.4,382.9 1090.0,383.0 1091.6,383.0 1093.1,383.0 1094.7,383.1 1096.3,383.1 1097.9,383.1 1099.5,383.1 1101.1,383.2 1102.7,383.2 1104.2,383.2 1105.8,383.2 1107.4,383.2 1109.0,383.2 1110.6,383.2 1112.2,383.1 1113.8,383.1 1115.4,383.1 1116.9,383.1 1118.5,383.0 1120.1,383.0 1121.7,383.0 1123.3,382.9 1124.9,382.9 1126.5,382.8 1128.1,382.8 1129.7,382.7 1131.2,382.6 1132.8,382.6 1134.4,382.5 1136.0,382.4 1137.6,382.3 1139.2,382.1 1140.8,382.0 1142.3,381.8 1143.9,381.6 1145.5,381.4 1147.1,381.3 1148.7,381.1 1150.3,381.0 1151.9,380.9 1153.5,380.8 1155.1,380.7 1156.6,380.7 1158.2,380.7 1159.8,380.7 1161.4,380.7 1163.0,380.7 1164.6,380.7 1166.2,380.7 1167.8,380.7 1169.3,380.7 1170.9,380.7 1172.5,380.7 1174.1,380.7 1175.7,380.7 1177.3,380.7 1178.9,380.7 1180.5,380.7 1182.0,380.7 1183.6,380.7 1185.2,380.7 1186.8,380.7 1188.4,380.7 1190.0,380.8 1191.6,380.9 1193.2,381.0 1194.7,381.1 1196.3,381.2 1197.9,381.4 1199.5,381.7 1201.1,381.9 1202.7,382.2 1204.3,382.4 1205.8,382.7 1207.4,383.0 1209.0,383.3 1210.6,383.6 1212.2,383.9 1213.8,384.2 1215.4,384.4 1217.0,384.7 1218.6,385.0 1220.1,385.3 1221.7,385.6 1223.3,385.9 1224.9,386.2 1226.5,386.5 1228.1,386.8 1229.7,387.1 1231.2,387.4 1232.8,387.7 1234.4,388.0 1236.0,388.3 1237.6,388.7 1239.2,388.9 1240.8,389.2 1242.4,389.5 1243.9,389.8 1245.5,390.1 1247.1,390.4 1248.7,390.7 1250.3,391.1 1251.9,391.4 1253.5,391.7 1255.1,392.0 1256.7,392.3 1258.2,392.6 1259.8,392.8 1261.4,393.1 1263.0,393.3 1264.6,393.5 1266.2,393.7 1267.8,393.9 1269.3,394.0 1270.9,394.2 1272.5,394.3 1274.1,394.4 1275.7,394.4 1277.3,394.5 1278.9,394.6 1280.5,394.6 1282.1,394.7 1283.6,394.7 1285.2,394.8 1286.8,394.8 1288.4,394.9 1290.0,394.9 1291.6,394.9 1293.2,394.9 1294.8,394.8 1296.3,394.8 1297.9,394.7 1299.5,394.6 1301.1,394.4 1302.7,394.3 1304.3,394.1 1305.9,393.8 1307.4,393.6 1309.0,393.3 1310.6,393.0 1312.2,392.7 1313.8,392.4 1315.4,392.0 1317.0,391.6 1318.6,391.1 1320.2,390.7 1321.7,390.3 1323.3,389.8 1324.9,389.4 1326.5,389.0 1328.1,388.6 1329.7,388.2 1331.3,387.9 1332.8,387.5 1334.4,387.2 1336.0,386.9 1337.6,386.6 1339.2,386.2 1340.8,385.9 1342.4,385.6 1344.0,385.3 1345.6,385.0 1347.1,384.7 1348.7,384.4 1350.3,384.1 1351.9,383.8 1353.5,383.5 1355.1,383.2 1356.7,382.9 1358.2,382.5 1359.8,382.2 1361.4,381.9 1363.0,381.6 1364.6,381.2 1366.2,380.8 1367.8,380.4 1369.4,380.0 1371.0,379.6 1372.5,379.2 1374.1,378.8 1375.7,378.6 1377.3,378.5 1378.9,378.5 1380.5,378.7 1382.1,378.9 1383.7,379.1 1385.2,379.3 1386.8,379.4 1388.4,379.4 1390.0,379.3 1391.6,379.0 1393.2,378.7 1394.8,378.3 1396.3,377.9 1397.9,377.6 1399.5,377.2 1401.1,376.8 1402.7,376.5 1404.3,376.2 1405.9,375.8 1407.5,375.5 1409.1,375.2 1410.6,374.8 1412.2,374.5 1413.8,374.0 1415.4,373.6 1417.0,373.1 1418.6,372.5 1420.2,371.9 1421.8,371.3 1423.3,370.8 1424.9,370.2 1426.5,369.7 1428.1,369.2 1429.7,368.8 1431.3,368.4 1432.9,368.1 1434.4,367.8 1436.0,367.6 1437.6,367.3 1439.2,367.1 1440.8,366.9 1442.4,366.8 1444.0,366.6 1445.6,366.4 1447.2,366.3 1448.7,366.1 1450.3,366.0 1451.9,365.9 1453.5,365.7 1455.1,365.6 1456.7,365.5 1458.3,365.3 1459.8,365.2 1461.4,365.2 1463.0,365.1 1464.6,365.1 1466.2,365.2 1467.8,365.2 1469.4,365.3 1471.0,365.4 1472.6,365.4 1474.1,365.5 1475.7,365.6 1477.3,365.7 1478.9,365.8 1480.5,365.8 1482.1,365.9 1483.7,365.9 1485.2,366.0 1486.8,366.1 1488.4,366.1 1490.0,366.2 1491.6,366.3 1493.2,366.4 1494.8,366.6 1496.4,366.8 1497.9,367.0 1499.5,367.3 1501.1,367.7 1502.7,368.1 1504.3,368.5 1505.9,369.0 1507.5,369.4 1509.1,369.8 1510.7,370.1 1512.2,370.4 1513.8,370.7 1515.4,370.9 1517.0,371.1 1518.6,371.3 1520.2,371.4 1521.8,371.5 1523.3,371.6 1524.9,371.7 1526.5,371.7 1528.1,371.7 1529.7,371.8 1531.3,371.7 1532.9,371.7 1534.5,371.7 1536.0,371.7 1537.6,371.7 1539.2,371.6 1540.8,371.6 1542.4,371.6 1544.0,371.5 1545.6,371.5 1547.2,371.4 1548.8,371.3 1550.3,371.3 1551.9,371.2 1553.5,371.1 1555.1,371.0 1556.7,370.9 1558.3,370.8 1559.9,370.6 1561.5,370.4 1563.0,370.2 1564.6,370.0 1566.2,369.8 1567.8,369.5 1569.4,369.3 1571.0,369.0 1572.6,368.8 1574.1,368.6 1575.7,368.4 1577.3,368.3 1578.9,368.2 1580.5,368.0 1582.1,367.9 1583.7,367.8 1585.3,367.8 1586.8,367.7 1588.4,367.6 1590.0,367.5 1591.6,367.5 1593.2,367.4 1594.8,367.3 1596.4,367.3 1598.0,367.2 1599.5,367.1 1601.1,367.0 1602.7,366.9 1604.3,366.8 1605.9,366.8 1607.5,366.7 1609.1,366.6 1610.7,366.5 1612.2,366.4 1613.8,366.4 1615.4,366.3 1617.0,366.2 1618.6,366.2 1620.2,366.1 1621.8,366.0 1623.4,365.9 1625.0,365.8 1626.5,365.6 1628.1,365.4 1629.7,365.2 1631.3,364.9 1632.9,364.6 1634.5,364.3 1636.1,364.0 1637.7,363.7 1639.2,363.4 1640.8,363.2 1642.4,362.9 1644.0,362.7 1645.6,362.6 1647.2,362.5 1648.8,362.5 1650.4,362.7 1651.9,362.9 1653.5,363.2 1655.1,363.7 1656.7,364.2 1658.3,364.8 1659.9,365.3 1661.5,365.9 1663.0,366.4 1664.6,366.8 1666.2,367.2 1667.8,367.5 1669.4,367.8 1671.0,368.1 1672.6,368.5 1674.2,368.8 1675.8,369.2 1677.3,369.6 1678.9,370.1 1680.5,370.6 1682.1,371.1 1683.7,371.6 1685.3,372.2 1686.9,372.8 1688.5,373.3 1690.0,373.9 1691.6,374.5 1693.2,375.0 1694.8,375.6 1696.4,376.1 1698.0,376.6 1699.6,377.2 1701.2,377.7 1702.7,378.2 1704.3,378.7 1705.9,379.2 1707.5,379.6 1709.1,380.1 1710.7,380.6 1712.3,381.0 1713.9,381.4 1715.4,381.7 1717.0,381.9 1718.6,382.0 1720.2,382.0 1721.8,381.9 1723.4,381.8 1725.0,381.6 1726.5,381.4 1728.1,381.2 1729.7,381.1 1731.3,381.1 1732.9,381.2 1734.5,381.4 1736.1,381.6 1737.7,381.9 1739.2,382.1 1740.8,382.4 1742.4,382.6 1744.0,382.9 1745.6,383.1 1747.2,383.3 1748.8,383.5 1750.4,383.7 1752.0,383.9 1753.5,384.1 1755.1,384.3 1756.7,384.6 1758.3,384.8 1759.9,385.1 1761.5,385.4 1763.1,385.7 1764.6,385.9 1766.2,386.2 1767.8,386.5 1769.4,386.8 1771.0,387.1 1772.6,387.3 1774.2,387.6 1775.8,387.9 1777.4,388.2 1778.9,388.5 1780.5,388.8 1782.1,389.2 1783.7,389.6 1785.3,390.1 1786.9,390.6 1788.5,391.1 1790.1,391.7 1791.6,392.2 1793.2,392.7 1794.8,393.1 1796.4,393.5 1798.0,393.8 1799.6,394.1 1801.2,394.4 1802.7,394.6 1804.3,394.9 1805.9,395.1 1807.5,395.3 1809.1,395.5 1810.7,395.6 1812.3,395.7 1813.9,395.8 1815.5,395.9 1817.0,395.9 1818.6,395.8 1820.2,395.7 1821.8,395.6 1823.4,395.5 1825.0,395.3 1826.6,395.0 1828.1,394.8 1829.7,394.5 1831.3,394.3 1832.9,394.0 1834.5,393.8 1836.1,393.5 1837.7,393.3 1839.3,393.1 1840.8,392.9 1842.4,392.7 1844.0,392.6 1845.6,392.4 1847.2,392.2 1848.8,392.1 1850.4,391.9 1852.0,391.8 1853.5,391.7 1855.1,391.6 1856.7,391.5 1858.3,391.5 1859.9,391.4 1861.5,391.4 1863.1,391.4 1864.7,391.5 1866.2,391.5 1867.8,391.5 1869.4,391.6 1871.0,391.6 1872.6,391.7 1874.2,391.8 1875.8,391.9 1877.4,392.0 1878.9,392.1 1880.5,392.2 1882.1,392.3 1883.7,392.5 1885.3,392.7 1886.9,392.9 1888.5,393.3 1890.1,393.6 1891.6,394.1 1893.2,394.6 1894.8,395.1 1896.4,395.6 1898.0,396.1 1899.6,396.6 1901.2,397.1 1902.8,397.6 1904.4,398.0 1905.9,398.3 1907.5,398.6 1909.1,398.9 1910.7,399.1 1912.3,399.3 1913.9,399.5 1915.5,399.7 1917.0,399.8 1918.6,400.0 1920.2,400.1 1921.8,400.3 1923.4,400.4 1925.0,400.6 1926.6,400.7 1928.2,400.9 1929.8,401.0 1931.3,401.2 1932.9,401.3 1934.5,401.5 1936.1,401.7 1937.7,401.8 1939.3,402.0 1940.9,402.2 1942.5,402.3 1944.0,402.5 1945.6,402.6 1947.2,402.7 1948.8,402.8 1950.4,402.9 1952.0,403.0 1953.6,403.0 1955.1,403.1 1956.7,403.1 1958.3,403.1 1959.9,403.1 1961.5,403.1 1963.1,403.1 1964.7,403.1 1966.3,403.1 1967.9,403.1 1969.4,403.1 1971.0,403.1 1972.6,403.1 1974.2,403.1 1975.8,403.1 1977.4,403.1 1979.0,403.1 1980.6,403.1 1982.1,403.1 1983.7,403.1 1985.3,403.1 1986.9,403.1 1988.5,403.0 1990.1,403.0 1991.7,402.9 1993.2,402.8 1994.8,402.7 1996.4,402.6 1998.0,402.5 1999.6,402.4 2001.2,402.2 2002.8,402.1 2004.4,402.0 2006.0,401.9 2007.5,401.7 2009.1,401.6 2010.7,401.5 2012.3,401.4 2013.9,401.3 2015.5,401.2 2017.1,401.2 2018.6,401.1 2020.2,401.0 2021.8,400.9 2023.4,400.9 2025.0,400.8 2026.6,400.7 2028.2,400.7 2029.8,400.6 2031.4,400.5 2032.9,400.4 2034.5,400.3 2036.1,400.3 2037.7,400.2 2039.3,400.0 2040.9,399.9 2042.5,399.8 2044.1,399.6 2045.6,399.5 2047.2,399.3 2048.8,399.1 2050.4,398.9 2052.0,398.7 2053.6,398.4 2055.2,398.2 2056.8,397.9 2058.3,397.7 2059.9,397.4 2061.5,397.2 2063.1,396.9 2064.7,396.6 2066.3,396.3 2067.9,396.1 2069.4,395.8 2071.0,395.5 2072.6,395.1 2074.2,394.8 2075.8,394.5 2077.4,394.2 2079.0,393.9 2080.6,393.5 2082.2,393.2 2083.7,392.9 2085.3,392.7 2086.9,392.4 2088.5,392.2 2090.1,391.9 2091.7,391.7 2093.3,391.5 2094.9,391.3 2096.4,391.1 2098.0,390.9 2099.6,390.7 2101.2,390.5 2102.8,390.4 2104.4,390.3 2106.0,390.2 2107.6,390.1 2109.1,390.0 2110.7,389.9 2112.3,389.9 2113.9,389.9 2115.5,389.8 2117.1,389.8 2118.7,389.8 2120.2,389.8 2121.8,389.8 2123.4,389.8 2125.0,389.7 2126.6,389.7 2128.2,389.7 2129.8,389.7 2131.4,389.6 2132.9,389.6 2134.5,389.5 2136.1,389.5 2137.7,389.4 2139.3,389.3 2140.9,389.2 2142.5,389.0 2144.1,388.9 2145.6,388.8 2147.2,388.7 2148.8,388.6 2150.4,388.5 2152.0,388.4 2153.6,388.3 2155.2,388.2 2156.8,388.2 2158.4,388.1 2159.9,388.1 2161.5,388.0 2163.1,388.0 2164.7,388.0 2166.3,388.0 2167.9,387.9 2169.5,387.9 2171.1,387.9 2172.6,387.9 2174.2,387.9 2175.8,387.8 2177.4,387.8 2179.0,387.9 2180.6,387.9 2182.2,387.9 2183.8,388.0 2185.3,388.0 2186.9,388.1 2188.5,388.2 2190.1,388.4 2191.7,388.5 2193.3,388.6 2194.9,388.8 2196.4,388.9 2198.0,389.0 2199.6,389.1 2201.2,389.3 2202.8,389.3 2204.4,389.4 2206.0,389.5 2207.6,389.5 2209.1,389.5 2210.7,389.5 2212.3,389.4 2213.9,389.3 2215.5,389.3 2217.1,389.2 2218.7,389.0 2220.3,388.9 2221.9,388.8 2223.4,388.8 2225.0,388.7 2226.6,388.7 2228.2,388.7 2229.8,388.7 2231.4,388.8 2233.0,388.9 2234.6,389.1 2236.1,389.2 2237.7,389.4 2239.3,389.6 2240.9,389.8 2242.5,389.9 2244.1,390.0 2245.7,390.1 2247.2,390.2 2248.8,390.2 2250.4,390.1 2252.0,390.1 2253.6,390.0 2255.2,389.9 2256.8,389.7 2258.4,389.6 2259.9,389.4 2261.5,389.3 2263.1,389.1 2264.7,389.0 2266.3,388.9 2267.9,388.8 2269.5,388.7 2271.1,388.6 2272.6,388.6 2274.2,388.6 2275.8,388.6 2277.4,388.7 2279.0,388.8 2280.6,388.8 2282.2,388.9 2283.8,389.1 2285.4,389.2 2286.9,389.3 2288.5,389.5 2290.1,389.7 2291.7,389.9 2293.3,390.1 2294.9,390.3 2296.5,390.6 2298.1,390.9 2299.6,391.2 2301.2,391.5 2302.8,391.7 2304.4,392.0 2306.0,392.2 2307.6,392.5 2309.2,392.7 2310.8,392.9 2312.3,393.1 2313.9,393.3 2315.5,393.4 2317.1,393.6 2318.7,393.8 2320.3,394.0 2321.9,394.1 2323.4,394.3 2325.0,394.5 2326.6,394.6 2328.2,394.8 2329.8,395.0 2331.4,395.2 2333.0,395.3 2334.6,395.5 2336.1,395.7 2337.7,395.9 2339.3,396.0 2340.9,396.2 2342.5,396.4 2344.1,396.6 2345.7,396.7 2347.3,396.9 2348.9,397.0 2350.4,397.1 2352.0,397.3 2353.6,397.4 2355.2,397.5 2356.8,397.6 2358.4,397.6 2360.0,397.7 2361.6,397.8 2363.1,397.9 2364.7,398.0 2366.3,398.1 2367.9,398.1 2369.5,398.2 2371.1,398.2 2372.7,398.3 2374.2,398.3 2375.8,398.4 2377.4,398.4 2379.0,398.4 2380.6,398.5 2382.2,398.5 2383.8,398.4 2385.4,398.4 2386.9,398.4 2388.5,398.3 2390.1,398.2 2391.7,398.1 2393.3,398.0 2394.9,397.9 2396.5,397.8 2398.1,397.6 2399.7,397.5 2401.2,397.3 2402.8,397.2 2404.4,397.0 2406.0,396.9" fill="none" stroke="#444444" stroke-width="2.4" stroke-linejoin="round" stroke-linecap="butt"/>
<polyline points="501.0,285.0 502.6,285.2 504.2,285.4 505.8,285.6 507.4,285.9 508.9,286.2 510.5,286.6 512.1,287.0 513.7,287.3 515.3,287.5 516.9,287.7 518.5,288.1 520.0,288.4 521.6,288.7 523.2,288.9 524.8,289.0 526.4,289.1 528.0,289.3 529.6,289.3 531.2,289.4 532.8,289.2 534.3,289.1 535.9,288.8 537.5,288.6 539.1,288.3 540.7,288.0 542.3,287.6 543.9,287.2 545.5,286.7 547.0,286.4 548.6,286.0 550.2,285.6 551.8,285.1 553.4,284.8 555.0,284.5 556.6,284.2 558.1,284.0 559.7,283.8 561.3,283.7 562.9,283.6 564.5,283.4 566.1,283.2 567.7,282.9 569.3,282.8 570.9,282.6 572.4,282.3 574.0,281.8 575.6,281.1 577.2,280.0 578.8,278.7 580.4,277.3 582.0,275.9 583.5,274.3 585.1,272.5 586.7,270.5 588.3,268.3 589.9,266.1 591.5,263.9 593.1,261.8 594.7,259.6 596.2,257.5 597.8,255.5 599.4,253.8 601.0,252.4 602.6,251.2 604.2,250.2 605.8,249.1 607.4,248.2 609.0,247.3 610.5,246.5 612.1,245.8 613.7,245.1 615.3,244.5 616.9,244.1 618.5,243.8 620.1,243.4 621.6,243.0 623.2,242.6 624.8,242.4 626.4,242.4 628.0,242.4 629.6,242.3 631.2,242.1 632.8,242.0 634.4,242.0 635.9,242.3 637.5,242.7 639.1,243.1 640.7,243.5 642.3,244.1 643.9,244.6 645.5,245.3 647.0,245.9 648.6,246.6 650.2,247.3 651.8,247.9 653.4,248.4 655.0,248.8 656.6,249.1 658.2,249.4 659.8,249.7 661.3,249.9 662.9,250.0 664.5,250.0 666.1,250.0 667.7,250.0 669.3,250.0 670.9,250.1 672.5,250.2 674.0,250.4 675.6,250.7 677.2,251.3 678.8,252.0 680.4,252.7 682.0,253.3 683.6,253.8 685.1,254.1 686.7,254.3 688.3,254.4 689.9,254.3 691.5,254.2 693.1,254.2 694.7,254.2 696.3,254.2 697.9,254.2 699.4,254.1 701.0,254.1 702.6,254.0 704.2,254.0 705.8,254.1 707.4,254.1 709.0,254.0 710.5,253.5 712.1,252.9 713.7,252.2 715.3,251.6 716.9,250.9 718.5,250.3 720.1,249.6 721.7,249.0 723.2,248.6 724.8,248.4 726.4,248.2 728.0,248.0 729.6,247.8 731.2,247.7 732.8,247.6 734.4,247.6 736.0,247.7 737.5,247.7 739.1,247.6 740.7,247.5 742.3,247.5 743.9,247.6 745.5,247.8 747.1,248.2 748.6,248.5 750.2,248.9 751.8,249.1 753.4,249.3 755.0,249.4 756.6,249.4 758.2,249.2 759.8,248.9 761.4,248.5 762.9,248.0 764.5,247.6 766.1,247.1 767.7,246.7 769.3,246.3 770.9,245.7 772.5,245.0 774.0,244.3 775.6,243.7 777.2,243.1 778.8,242.7 780.4,242.4 782.0,242.1 783.6,241.9 785.2,241.7 786.8,241.6 788.3,241.5 789.9,241.5 791.5,241.4 793.1,241.3 794.7,241.2 796.3,241.2 797.9,241.3 799.5,241.4 801.0,241.7 802.6,242.1 804.2,242.6 805.8,243.1 807.4,243.7 809.0,244.2 810.6,244.8 812.1,245.3 813.7,245.8 815.3,246.2 816.9,246.3 818.5,246.1 820.1,245.6 821.7,244.9 823.3,244.0 824.9,243.1 826.4,242.6 828.0,242.5 829.6,242.7 831.2,243.1 832.8,243.6 834.4,244.1 836.0,244.5 837.5,244.6 839.1,244.5 840.7,244.3 842.3,244.1 843.9,244.0 845.5,244.1 847.1,244.0 848.7,243.8 850.2,243.7 851.8,243.7 853.4,243.8 855.0,244.1 856.6,244.3 858.2,244.6 859.8,245.0 861.4,245.6 863.0,246.3 864.5,247.0 866.1,247.7 867.7,248.6 869.3,249.8 870.9,251.3 872.5,253.1 874.1,255.1 875.7,257.3 877.2,259.6 878.8,262.3 880.4,265.0 882.0,267.5 883.6,269.2 885.2,270.2 886.8,270.6 888.3,270.6 889.9,270.2 891.5,269.7 893.1,269.2 894.7,268.9 896.3,268.5 897.9,268.2 899.5,268.0 901.0,267.8 902.6,267.7 904.2,267.5 905.8,267.3 907.4,267.1 909.0,266.8 910.6,266.4 912.2,265.9 913.8,265.3 915.3,264.8 916.9,264.3 918.5,263.7 920.1,263.0 921.7,262.4 923.3,261.9 924.9,261.7 926.5,261.6 928.0,261.5 929.6,261.4 931.2,261.4 932.8,261.4 934.4,261.4 936.0,261.5 937.6,261.6 939.2,261.8 940.7,261.9 942.3,261.9 943.9,261.9 945.5,261.9 947.1,261.9 948.7,261.9 950.3,262.0 951.8,262.2 953.4,262.4 955.0,262.6 956.6,262.9 958.2,263.2 959.8,263.5 961.4,263.7 963.0,263.9 964.5,264.1 966.1,264.3 967.7,264.4 969.3,264.5 970.9,264.6 972.5,264.9 974.1,265.3 975.7,265.7 977.2,266.1 978.8,266.4 980.4,266.8 982.0,267.4 983.6,268.1 985.2,268.6 986.8,269.0 988.4,269.2 990.0,269.6 991.5,270.0 993.1,270.4 994.7,270.9 996.3,271.3 997.9,271.7 999.5,272.0 1001.1,272.3 1002.7,272.4 1004.2,272.6 1005.8,272.6 1007.4,272.4 1009.0,272.1 1010.6,271.7 1012.2,271.2 1013.8,270.8 1015.4,270.5 1016.9,270.2 1018.5,269.9 1020.1,269.7 1021.7,269.4 1023.3,269.1 1024.9,268.7 1026.5,268.3 1028.1,267.9 1029.6,267.5 1031.2,267.0 1032.8,266.4 1034.4,265.8 1036.0,265.2 1037.6,264.5 1039.2,263.9 1040.8,263.2 1042.3,262.5 1043.9,261.7 1045.5,260.7 1047.1,259.7 1048.7,258.7 1050.3,257.8 1051.9,257.0 1053.4,256.4 1055.0,255.8 1056.6,255.3 1058.2,254.7 1059.8,254.1 1061.4,253.7 1063.0,253.4 1064.6,253.3 1066.2,253.3 1067.7,253.2 1069.3,253.0 1070.9,252.8 1072.5,252.5 1074.1,252.3 1075.7,252.3 1077.3,252.3 1078.8,252.3 1080.4,252.3 1082.0,252.4 1083.6,252.5 1085.2,252.7 1086.8,252.8 1088.4,253.0 1090.0,253.1 1091.6,253.1 1093.1,253.0 1094.7,252.9 1096.3,252.8 1097.9,252.8 1099.5,252.7 1101.1,252.7 1102.7,252.6 1104.2,252.5 1105.8,252.3 1107.4,252.2 1109.0,252.1 1110.6,252.1 1112.2,252.1 1113.8,252.1 1115.4,252.1 1116.9,252.2 1118.5,252.2 1120.1,252.2 1121.7,252.1 1123.3,251.9 1124.9,251.8 1126.5,251.7 1128.1,251.8 1129.7,252.0 1131.2,252.1 1132.8,252.1 1134.4,251.9 1136.0,251.8 1137.6,251.6 1139.2,251.4 1140.8,251.0 1142.3,250.4 1143.9,249.5 1145.5,248.2 1147.1,246.7 1148.7,245.3 1150.3,244.3 1151.9,243.6 1153.5,243.1 1155.1,242.7 1156.6,242.5 1158.2,242.4 1159.8,242.4 1161.4,242.3 1163.0,242.0 1164.6,241.6 1166.2,241.4 1167.8,241.3 1169.3,241.2 1170.9,241.1 1172.5,240.9 1174.1,240.7 1175.7,240.5 1177.3,240.3 1178.9,240.2 1180.5,240.1 1182.0,240.0 1183.6,239.7 1185.2,239.4 1186.8,239.1 1188.4,238.9 1190.0,238.8 1191.6,238.6 1193.2,238.5 1194.7,238.4 1196.3,238.2 1197.9,237.9 1199.5,237.6 1201.1,237.1 1202.7,236.7 1204.3,236.5 1205.8,236.4 1207.4,236.4 1209.0,236.5 1210.6,236.6 1212.2,236.7 1213.8,236.8 1215.4,236.9 1217.0,237.0 1218.6,237.0 1220.1,236.9 1221.7,236.8 1223.3,236.8 1224.9,236.9 1226.5,237.2 1228.1,237.7 1229.7,238.2 1231.2,238.7 1232.8,239.2 1234.4,239.7 1236.0,240.1 1237.6,240.4 1239.2,240.6 1240.8,240.8 1242.4,241.0 1243.9,241.2 1245.5,241.3 1247.1,241.2 1248.7,241.1 1250.3,241.0 1251.9,241.0 1253.5,241.0 1255.1,241.0 1256.7,241.1 1258.2,241.2 1259.8,241.3 1261.4,241.4 1263.0,241.5 1264.6,241.5 1266.2,241.3 1267.8,241.1 1269.3,241.0 1270.9,240.9 1272.5,240.8 1274.1,240.8 1275.7,241.1 1277.3,241.7 1278.9,242.3 1280.5,242.9 1282.1,243.3 1283.6,243.6 1285.2,243.8 1286.8,244.0 1288.4,244.1 1290.0,244.3 1291.6,244.5 1293.2,244.7 1294.8,245.2 1296.3,245.9 1297.9,246.7 1299.5,247.5 1301.1,248.1 1302.7,248.5 1304.3,248.7 1305.9,249.0 1307.4,249.3 1309.0,249.4 1310.6,249.4 1312.2,249.0 1313.8,248.5 1315.4,248.3 1317.0,248.7 1318.6,249.5 1320.2,250.1 1321.7,250.0 1323.3,249.5 1324.9,249.0 1326.5,248.6 1328.1,248.2 1329.7,247.7 1331.3,247.4 1332.8,247.5 1334.4,247.9 1336.0,248.2 1337.6,248.4 1339.2,248.4 1340.8,248.4 1342.4,248.5 1344.0,248.7 1345.6,249.1 1347.1,249.5 1348.7,249.6 1350.3,249.0 1351.9,247.8 1353.5,246.5 1355.1,245.7 1356.7,245.4 1358.2,245.4 1359.8,245.3 1361.4,244.9 1363.0,244.4 1364.6,244.4 1366.2,244.5 1367.8,244.2 1369.4,243.3 1371.0,242.0 1372.5,240.8 1374.1,239.6 1375.7,238.3 1377.3,237.4 1378.9,237.6 1380.5,238.8 1382.1,240.4 1383.7,241.6 1385.2,242.1 1386.8,241.9 1388.4,241.5 1390.0,241.0 1391.6,240.3 1393.2,239.6 1394.8,239.1 1396.3,238.8 1397.9,238.9 1399.5,239.1 1401.1,239.5 1402.7,239.8 1404.3,239.9 1405.9,239.5 1407.5,239.0 1409.1,238.7 1410.6,238.6 1412.2,238.5 1413.8,237.6 1415.4,236.2 1417.0,234.4 1418.6,232.9 1420.2,231.6 1421.8,230.1 1423.3,228.4 1424.9,226.6 1426.5,225.0 1428.1,223.7 1429.7,222.9 1431.3,222.5 1432.9,222.4 1434.4,222.3 1436.0,222.1 1437.6,222.1 1439.2,222.1 1440.8,222.0 1442.4,221.3 1444.0,220.3 1445.6,219.3 1447.2,218.8 1448.7,219.0 1450.3,219.8 1451.9,220.3 1453.5,220.0 1455.1,219.0 1456.7,217.9 1458.3,217.3 1459.8,216.7 1461.4,215.9 1463.0,214.7 1464.6,213.7 1466.2,213.1 1467.8,213.2 1469.4,213.6 1471.0,214.3 1472.6,214.6 1474.1,214.3 1475.7,213.7 1477.3,212.5 1478.9,210.7 1480.5,208.7 1482.1,207.0 1483.7,206.0 1485.2,205.7 1486.8,205.8 1488.4,206.0 1490.0,205.8 1491.6,205.2 1493.2,204.4 1494.8,203.8 1496.4,203.2 1497.9,202.4 1499.5,201.5 1501.1,200.9 1502.7,201.0 1504.3,201.6 1505.9,202.2 1507.5,202.6 1509.1,202.5 1510.7,202.4 1512.2,202.4 1513.8,202.5 1515.4,202.6 1517.0,202.5 1518.6,202.0 1520.2,201.1 1521.8,200.0 1523.3,199.0 1524.9,198.2 1526.5,197.5 1528.1,196.7 1529.7,195.4 1531.3,193.8 1532.9,192.3 1534.5,191.2 1536.0,190.6 1537.6,190.3 1539.2,190.3 1540.8,189.9 1542.4,189.0 1544.0,187.9 1545.6,187.0 1547.2,186.4 1548.8,185.9 1550.3,185.1 1551.9,184.0 1553.5,183.3 1555.1,183.0 1556.7,183.0 1558.3,182.9 1559.9,182.2 1561.5,181.2 1563.0,179.9 1564.6,178.8 1566.2,178.3 1567.8,178.5 1569.4,179.0 1571.0,179.4 1572.6,179.3 1574.1,178.5 1575.7,177.3 1577.3,176.1 1578.9,175.2 1580.5,174.7 1582.1,174.4 1583.7,174.1 1585.3,173.8 1586.8,173.9 1588.4,174.2 1590.0,174.5 1591.6,174.5 1593.2,174.2 1594.8,174.0 1596.4,173.7 1598.0,173.0 1599.5,172.2 1601.1,171.5 1602.7,170.8 1604.3,170.0 1605.9,169.1 1607.5,168.3 1609.1,167.2 1610.7,166.1 1612.2,164.8 1613.8,163.8 1615.4,163.2 1617.0,163.0 1618.6,163.3 1620.2,163.9 1621.8,164.7 1623.4,164.9 1625.0,164.5 1626.5,163.9 1628.1,163.6 1629.7,163.3 1631.3,162.7 1632.9,161.7 1634.5,160.5 1636.1,159.6 1637.7,158.8 1639.2,158.1 1640.8,157.4 1642.4,156.6 1644.0,156.0 1645.6,155.1 1647.2,153.4 1648.8,150.8 1650.4,148.6 1651.9,147.9 1653.5,148.6 1655.1,149.8 1656.7,150.7 1658.3,151.2 1659.9,151.4 1661.5,151.7 1663.0,152.1 1664.6,152.8 1666.2,153.7 1667.8,154.5 1669.4,155.2 1671.0,155.3 1672.6,154.6 1674.2,153.2 1675.8,151.7 1677.3,150.6 1678.9,150.2 1680.5,149.9 1682.1,149.7 1683.7,149.4 1685.3,149.2 1686.9,149.1 1688.5,148.7 1690.0,148.3 1691.6,148.0 1693.2,147.6 1694.8,147.0 1696.4,146.0 1698.0,144.7 1699.6,143.4 1701.2,142.4 1702.7,141.7 1704.3,141.1 1705.9,140.8 1707.5,140.7 1709.1,140.8 1710.7,140.7 1712.3,140.3 1713.9,139.3 1715.4,138.1 1717.0,137.4 1718.6,137.4 1720.2,137.9 1721.8,138.0 1723.4,137.5 1725.0,136.6 1726.5,135.8 1728.1,135.3 1729.7,135.1 1731.3,135.2 1732.9,135.5 1734.5,135.4 1736.1,134.5 1737.7,132.9 1739.2,131.5 1740.8,131.0 1742.4,131.7 1744.0,133.3 1745.6,135.2 1747.2,137.4 1748.8,139.4 1750.4,140.8 1752.0,141.5 1753.5,142.3 1755.1,143.4 1756.7,144.6 1758.3,145.8 1759.9,146.8 1761.5,147.2 1763.1,147.2 1764.6,147.2 1766.2,147.3 1767.8,147.2 1769.4,146.8 1771.0,146.2 1772.6,145.6 1774.2,145.1 1775.8,144.9 1777.4,144.9 1778.9,144.9 1780.5,144.6 1782.1,144.6 1783.7,145.2 1785.3,146.6 1786.9,148.9 1788.5,151.6 1790.1,154.2 1791.6,156.5 1793.2,158.5 1794.8,160.5 1796.4,162.4 1798.0,164.0 1799.6,165.0 1801.2,165.6 1802.7,166.1 1804.3,166.3 1805.9,166.1 1807.5,165.5 1809.1,164.9 1810.7,164.7 1812.3,164.9 1813.9,165.0 1815.5,165.0 1817.0,165.1 1818.6,165.6 1820.2,166.6 1821.8,168.1 1823.4,170.1 1825.0,171.8 1826.6,172.5 1828.1,172.0 1829.7,170.7 1831.3,169.0 1832.9,167.3 1834.5,166.1 1836.1,165.8 1837.7,166.5 1839.3,168.1 1840.8,170.1 1842.4,171.9 1844.0,173.4 1845.6,174.8 1847.2,176.0 1848.8,176.9 1850.4,177.9 1852.0,179.3 1853.5,181.0 1855.1,182.2 1856.7,182.6 1858.3,182.4 1859.9,182.4 1861.5,182.9 1863.1,183.6 1864.7,183.9 1866.2,184.0 1867.8,184.3 1869.4,185.1 1871.0,186.2 1872.6,186.9 1874.2,187.2 1875.8,187.5 1877.4,188.1 1878.9,188.9 1880.5,189.7 1882.1,190.2 1883.7,190.5 1885.3,190.6 1886.9,190.7 1888.5,191.0 1890.1,191.2 1891.6,191.4 1893.2,191.7 1894.8,192.1 1896.4,192.6 1898.0,193.2 1899.6,194.1 1901.2,195.1 1902.8,195.9 1904.4,196.4 1905.9,196.6 1907.5,196.6 1909.1,196.7 1910.7,196.8 1912.3,196.9 1913.9,196.9 1915.5,196.9 1917.0,196.7 1918.6,196.6 1920.2,196.5 1921.8,196.6 1923.4,196.9 1925.0,197.3 1926.6,197.9 1928.2,198.6 1929.8,199.4 1931.3,200.2 1932.9,201.2 1934.5,202.0 1936.1,202.9 1937.7,203.8 1939.3,204.7 1940.9,205.5 1942.5,206.1 1944.0,206.6 1945.6,207.1 1947.2,207.8 1948.8,208.5 1950.4,209.1 1952.0,209.6 1953.6,209.9 1955.1,210.1 1956.7,210.2 1958.3,210.4 1959.9,210.7 1961.5,211.1 1963.1,211.5 1964.7,212.0 1966.3,212.5 1967.9,213.1 1969.4,213.8 1971.0,214.6 1972.6,215.4 1974.2,216.4 1975.8,217.5 1977.4,218.4 1979.0,219.0 1980.6,219.6 1982.1,220.3 1983.7,220.9 1985.3,221.3 1986.9,221.5 1988.5,221.6 1990.1,221.7 1991.7,221.8 1993.2,222.0 1994.8,222.1 1996.4,222.3 1998.0,222.5 1999.6,222.6 2001.2,222.7 2002.8,222.7 2004.4,223.0 2006.0,223.5 2007.5,223.9 2009.1,224.3 2010.7,224.6 2012.3,224.8 2013.9,225.1 2015.5,225.5 2017.1,225.9 2018.6,226.4 2020.2,226.8 2021.8,227.2 2023.4,227.6 2025.0,228.0 2026.6,228.6 2028.2,229.3 2029.8,230.0 2031.4,230.6 2032.9,231.1 2034.5,231.6 2036.1,231.9 2037.7,232.2 2039.3,232.5 2040.9,232.8 2042.5,233.0 2044.1,233.3 2045.6,233.6 2047.2,234.0 2048.8,234.4 2050.4,234.9 2052.0,235.3 2053.6,235.5 2055.2,235.8 2056.8,236.1 2058.3,236.6 2059.9,237.1 2061.5,237.5 2063.1,237.9 2064.7,238.3 2066.3,238.9 2067.9,239.5 2069.4,239.9 2071.0,240.1 2072.6,240.1 2074.2,239.9 2075.8,239.6 2077.4,239.1 2079.0,238.5 2080.6,238.0 2082.2,237.5 2083.7,237.0 2085.3,236.5 2086.9,236.2 2088.5,236.2 2090.1,236.5 2091.7,236.7 2093.3,236.8 2094.9,236.8 2096.4,236.8 2098.0,236.8 2099.6,236.9 2101.2,237.2 2102.8,237.5 2104.4,237.8 2106.0,238.1 2107.6,238.3 2109.1,238.6 2110.7,238.9 2112.3,239.3 2113.9,239.9 2115.5,240.9 2117.1,242.1 2118.7,243.3 2120.2,244.4 2121.8,245.2 2123.4,245.8 2125.0,246.3 2126.6,246.8 2128.2,247.2 2129.8,247.5 2131.4,247.7 2132.9,247.8 2134.5,247.8 2136.1,247.8 2137.7,247.9 2139.3,248.0 2140.9,248.2 2142.5,248.3 2144.1,248.4 2145.6,248.5 2147.2,248.5 2148.8,248.7 2150.4,248.9 2152.0,249.3 2153.6,249.7 2155.2,249.9 2156.8,250.2 2158.4,250.4 2159.9,250.5 2161.5,250.6 2163.1,250.7 2164.7,250.9 2166.3,251.1 2167.9,251.3 2169.5,251.5 2171.1,251.6 2172.6,251.7 2174.2,251.7 2175.8,251.8 2177.4,251.9 2179.0,252.1 2180.6,252.3 2182.2,252.5 2183.8,252.8 2185.3,252.9 2186.9,253.0 2188.5,253.0 2190.1,253.1 2191.7,253.3 2193.3,253.4 2194.9,253.5 2196.4,253.5 2198.0,253.7 2199.6,253.9 2201.2,254.1 2202.8,254.5 2204.4,254.8 2206.0,255.0 2207.6,255.1 2209.1,255.1 2210.7,254.9 2212.3,254.7 2213.9,254.5 2215.5,254.4 2217.1,254.3 2218.7,254.0 2220.3,253.6 2221.9,253.1 2223.4,252.7 2225.0,252.3 2226.6,252.1 2228.2,252.0 2229.8,252.1 2231.4,252.3 2233.0,252.8 2234.6,253.4 2236.1,254.1 2237.7,254.9 2239.3,255.6 2240.9,256.1 2242.5,256.5 2244.1,256.8 2245.7,257.3 2247.2,257.7 2248.8,258.0 2250.4,258.1 2252.0,257.9 2253.6,257.7 2255.2,257.6 2256.8,257.5 2258.4,257.4 2259.9,257.1 2261.5,256.7 2263.1,256.2 2264.7,255.4 2266.3,254.5 2267.9,253.6 2269.5,253.0 2271.1,252.7 2272.6,252.6 2274.2,252.8 2275.8,253.1 2277.4,253.5 2279.0,253.8 2280.6,254.2 2282.2,254.6 2283.8,254.9 2285.4,255.2 2286.9,255.3 2288.5,255.5 2290.1,255.6 2291.7,256.0 2293.3,256.8 2294.9,257.9 2296.5,259.5 2298.1,261.3 2299.6,263.0 2301.2,264.6 2302.8,265.9 2304.4,266.8 2306.0,267.4 2307.6,268.0 2309.2,268.6 2310.8,269.3 2312.3,269.9 2313.9,270.5 2315.5,271.1 2317.1,271.7 2318.7,272.4 2320.3,273.2 2321.9,273.9 2323.4,274.7 2325.0,275.4 2326.6,276.1 2328.2,276.8 2329.8,277.5 2331.4,278.4 2333.0,279.3 2334.6,280.3 2336.1,281.2 2337.7,282.0 2339.3,282.7 2340.9,283.5 2342.5,284.4 2344.1,285.4 2345.7,286.5 2347.3,287.6 2348.9,288.6 2350.4,289.5 2352.0,290.4 2353.6,291.2 2355.2,292.1 2356.8,293.0 2358.4,293.8 2360.0,294.6 2361.6,295.4 2363.1,296.0 2364.7,296.5 2366.3,297.0 2367.9,297.5 2369.5,298.0 2371.1,298.5 2372.7,299.1 2374.2,299.6 2375.8,300.2 2377.4,300.9 2379.0,301.7 2380.6,302.7 2382.2,303.6 2383.8,304.5 2385.4,305.2 2386.9,305.7 2388.5,306.0 2390.1,306.3 2391.7,306.6 2393.3,307.1 2394.9,307.5 2396.5,307.6 2398.1,307.6 2399.7,307.4 2401.2,307.1 2402.8,306.7 2404.4,306.3 2406.0,306.0" fill="none" stroke="#c4194f" stroke-width="2.3" stroke-linejoin="round" stroke-linecap="butt"/>
<polyline points="501.0,227.7 502.6,228.0 504.2,228.4 505.8,228.8 507.4,229.3 508.9,229.6 510.5,229.9 512.1,230.1 513.7,230.4 515.3,230.6 516.9,230.7 518.5,230.8 520.0,230.9 521.6,230.8 523.2,230.8 524.8,230.9 526.4,231.0 528.0,230.9 529.6,230.8 531.2,230.6 532.8,230.4 534.3,230.4 535.9,230.4 537.5,230.4 539.1,230.3 540.7,230.2 542.3,230.1 543.9,230.1 545.5,230.1 547.0,230.1 548.6,230.1 550.2,230.2 551.8,230.3 553.4,230.3 555.0,230.3 556.6,230.2 558.1,230.1 559.7,230.0 561.3,229.9 562.9,229.9 564.5,229.8 566.1,229.8 567.7,229.8 569.3,229.9 570.9,229.8 572.4,229.7 574.0,229.5 575.6,229.1 577.2,228.4 578.8,227.7 580.4,226.8 582.0,226.0 583.5,225.0 585.1,223.7 586.7,222.3 588.3,220.6 589.9,218.9 591.5,217.3 593.1,215.7 594.7,214.2 596.2,212.7 597.8,211.2 599.4,209.8 601.0,208.3 602.6,207.0 604.2,205.8 605.8,204.7 607.4,203.7 609.0,202.7 610.5,201.9 612.1,201.0 613.7,200.3 615.3,199.7 616.9,199.1 618.5,198.7 620.1,198.3 621.6,197.9 623.2,197.6 624.8,197.4 626.4,197.1 628.0,196.9 629.6,196.6 631.2,196.3 632.8,196.1 634.4,196.0 635.9,196.1 637.5,196.5 639.1,196.9 640.7,197.5 642.3,198.1 643.9,198.7 645.5,199.2 647.0,199.8 648.6,200.3 650.2,200.9 651.8,201.4 653.4,201.8 655.0,202.2 656.6,202.5 658.2,202.8 659.8,202.9 661.3,202.9 662.9,202.9 664.5,202.8 666.1,202.9 667.7,203.0 669.3,203.2 670.9,203.4 672.5,203.6 674.0,203.8 675.6,204.1 677.2,204.4 678.8,204.8 680.4,205.2 682.0,205.6 683.6,205.9 685.1,206.1 686.7,206.3 688.3,206.4 689.9,206.6 691.5,206.8 693.1,206.9 694.7,206.9 696.3,206.8 697.9,206.7 699.4,206.7 701.0,206.6 702.6,206.6 704.2,206.5 705.8,206.3 707.4,206.0 709.0,205.7 710.5,205.4 712.1,205.1 713.7,204.7 715.3,204.3 716.9,203.8 718.5,203.4 720.1,203.2 721.7,203.0 723.2,202.8 724.8,202.6 726.4,202.3 728.0,202.1 729.6,202.0 731.2,201.9 732.8,201.8 734.4,201.7 736.0,201.6 737.5,201.5 739.1,201.3 740.7,201.1 742.3,200.9 743.9,200.8 745.5,200.6 747.1,200.6 748.6,200.6 750.2,200.5 751.8,200.3 753.4,200.0 755.0,199.7 756.6,199.4 758.2,199.2 759.8,199.0 761.4,198.8 762.9,198.6 764.5,198.5 766.1,198.2 767.7,197.7 769.3,197.2 770.9,196.7 772.5,196.2 774.0,195.6 775.6,195.1 777.2,194.7 778.8,194.4 780.4,194.2 782.0,194.0 783.6,193.9 785.2,193.9 786.8,194.0 788.3,194.1 789.9,194.1 791.5,194.0 793.1,193.9 794.7,193.8 796.3,193.9 797.9,194.0 799.5,194.3 801.0,194.6 802.6,194.8 804.2,195.0 805.8,195.0 807.4,195.0 809.0,195.0 810.6,195.1 812.1,195.2 813.7,195.2 815.3,195.3 816.9,195.3 818.5,195.3 820.1,195.1 821.7,194.6 823.3,194.0 824.9,193.4 826.4,193.0 828.0,192.7 829.6,192.7 831.2,192.7 832.8,192.7 834.4,192.8 836.0,192.9 837.5,192.9 839.1,192.9 840.7,192.8 842.3,192.7 843.9,192.5 845.5,192.3 847.1,191.9 848.7,191.5 850.2,191.2 851.8,191.1 853.4,191.2 855.0,191.4 856.6,191.5 858.2,191.6 859.8,191.6 861.4,191.6 863.0,191.8 864.5,192.0 866.1,192.2 867.7,192.6 869.3,193.1 870.9,193.8 872.5,194.6 874.1,195.3 875.7,196.2 877.2,197.1 878.8,198.2 880.4,199.3 882.0,200.4 883.6,201.2 885.2,201.8 886.8,202.2 888.3,202.4 889.9,202.3 891.5,202.1 893.1,201.7 894.7,201.4 896.3,201.2 897.9,201.0 899.5,200.8 901.0,200.7 902.6,200.7 904.2,200.7 905.8,200.9 907.4,201.1 909.0,201.1 910.6,201.0 912.2,200.8 913.8,200.4 915.3,200.0 916.9,199.6 918.5,199.2 920.1,198.9 921.7,198.5 923.3,198.2 924.9,197.9 926.5,197.7 928.0,197.6 929.6,197.7 931.2,197.7 932.8,197.7 934.4,197.7 936.0,197.7 937.6,197.7 939.2,197.8 940.7,197.8 942.3,197.8 943.9,197.8 945.5,197.8 947.1,197.9 948.7,198.0 950.3,198.2 951.8,198.5 953.4,198.9 955.0,199.4 956.6,199.8 958.2,200.2 959.8,200.6 961.4,201.1 963.0,201.5 964.5,201.9 966.1,202.0 967.7,201.9 969.3,201.5 970.9,201.1 972.5,200.6 974.1,200.3 975.7,200.1 977.2,200.1 978.8,200.3 980.4,200.4 982.0,200.6 983.6,200.8 985.2,200.8 986.8,200.6 988.4,200.3 990.0,200.0 991.5,199.7 993.1,199.6 994.7,199.6 996.3,199.7 997.9,199.9 999.5,200.0 1001.1,200.1 1002.7,200.2 1004.2,200.2 1005.8,200.2 1007.4,200.2 1009.0,200.0 1010.6,199.7 1012.2,199.3 1013.8,199.0 1015.4,198.8 1016.9,198.5 1018.5,198.2 1020.1,197.8 1021.7,197.4 1023.3,197.0 1024.9,196.7 1026.5,196.4 1028.1,196.1 1029.6,195.8 1031.2,195.5 1032.8,195.2 1034.4,194.8 1036.0,194.4 1037.6,194.0 1039.2,193.8 1040.8,193.7 1042.3,193.5 1043.9,193.2 1045.5,193.0 1047.1,192.7 1048.7,192.4 1050.3,192.0 1051.9,191.6 1053.4,191.3 1055.0,191.0 1056.6,190.7 1058.2,190.5 1059.8,190.3 1061.4,190.2 1063.0,190.2 1064.6,190.3 1066.2,190.4 1067.7,190.6 1069.3,190.8 1070.9,190.9 1072.5,191.2 1074.1,191.5 1075.7,191.8 1077.3,192.1 1078.8,192.3 1080.4,192.3 1082.0,192.1 1083.6,192.0 1085.2,191.8 1086.8,191.8 1088.4,191.8 1090.0,191.8 1091.6,191.7 1093.1,191.7 1094.7,191.7 1096.3,191.8 1097.9,191.8 1099.5,191.9 1101.1,191.9 1102.7,191.8 1104.2,191.8 1105.8,191.7 1107.4,191.5 1109.0,191.3 1110.6,191.0 1112.2,190.8 1113.8,190.6 1115.4,190.5 1116.9,190.5 1118.5,190.4 1120.1,190.3 1121.7,190.2 1123.3,190.3 1124.9,190.5 1126.5,190.7 1128.1,190.9 1129.7,190.9 1131.2,191.0 1132.8,191.1 1134.4,191.2 1136.0,191.1 1137.6,190.8 1139.2,190.4 1140.8,189.9 1142.3,189.3 1143.9,188.9 1145.5,188.5 1147.1,188.2 1148.7,188.0 1150.3,187.9 1151.9,187.8 1153.5,187.7 1155.1,187.6 1156.6,187.6 1158.2,187.6 1159.8,187.6 1161.4,187.6 1163.0,187.6 1164.6,187.5 1166.2,187.2 1167.8,186.9 1169.3,186.6 1170.9,186.5 1172.5,186.7 1174.1,187.0 1175.7,187.4 1177.3,187.9 1178.9,188.3 1180.5,188.5 1182.0,188.7 1183.6,188.7 1185.2,188.7 1186.8,188.7 1188.4,188.9 1190.0,189.0 1191.6,189.1 1193.2,189.3 1194.7,189.5 1196.3,189.7 1197.9,190.1 1199.5,190.4 1201.1,190.8 1202.7,191.1 1204.3,191.5 1205.8,191.9 1207.4,192.1 1209.0,192.2 1210.6,192.3 1212.2,192.3 1213.8,192.5 1215.4,192.7 1217.0,192.9 1218.6,193.1 1220.1,193.1 1221.7,193.0 1223.3,193.0 1224.9,193.0 1226.5,193.0 1228.1,192.9 1229.7,192.7 1231.2,192.5 1232.8,192.2 1234.4,192.0 1236.0,191.8 1237.6,191.6 1239.2,191.5 1240.8,191.4 1242.4,191.3 1243.9,191.1 1245.5,190.8 1247.1,190.5 1248.7,190.3 1250.3,190.1 1251.9,189.9 1253.5,189.6 1255.1,189.1 1256.7,188.6 1258.2,188.1 1259.8,187.6 1261.4,187.3 1263.0,186.9 1264.6,186.5 1266.2,186.1 1267.8,185.6 1269.3,185.2 1270.9,184.8 1272.5,184.2 1274.1,183.5 1275.7,183.0 1277.3,182.5 1278.9,182.2 1280.5,181.7 1282.1,181.2 1283.6,180.6 1285.2,180.1 1286.8,179.6 1288.4,179.2 1290.0,179.0 1291.6,179.1 1293.2,179.2 1294.8,179.1 1296.3,178.7 1297.9,178.1 1299.5,177.8 1301.1,177.9 1302.7,178.1 1304.3,177.8 1305.9,177.2 1307.4,176.7 1309.0,176.4 1310.6,176.4 1312.2,176.2 1313.8,175.8 1315.4,175.3 1317.0,174.9 1318.6,174.6 1320.2,174.2 1321.7,173.7 1323.3,173.1 1324.9,172.5 1326.5,172.0 1328.1,171.7 1329.7,171.6 1331.3,171.3 1332.8,170.6 1334.4,169.9 1336.0,169.4 1337.6,169.0 1339.2,168.8 1340.8,168.6 1342.4,168.2 1344.0,167.6 1345.6,167.1 1347.1,166.7 1348.7,166.1 1350.3,165.4 1351.9,164.8 1353.5,164.5 1355.1,164.5 1356.7,164.4 1358.2,164.1 1359.8,163.4 1361.4,162.5 1363.0,161.5 1364.6,160.4 1366.2,159.3 1367.8,158.5 1369.4,157.9 1371.0,157.3 1372.5,156.7 1374.1,156.2 1375.7,156.2 1377.3,156.5 1378.9,157.0 1380.5,157.4 1382.1,157.6 1383.7,157.9 1385.2,158.2 1386.8,158.2 1388.4,157.9 1390.0,157.4 1391.6,156.8 1393.2,156.3 1394.8,155.9 1396.3,155.7 1397.9,155.9 1399.5,156.3 1401.1,156.5 1402.7,156.5 1404.3,156.4 1405.9,156.2 1407.5,155.9 1409.1,155.5 1410.6,155.0 1412.2,154.6 1413.8,154.0 1415.4,153.3 1417.0,152.7 1418.6,152.4 1420.2,152.1 1421.8,151.7 1423.3,150.8 1424.9,149.7 1426.5,148.8 1428.1,148.4 1429.7,148.4 1431.3,148.5 1432.9,148.5 1434.4,148.2 1436.0,147.8 1437.6,147.3 1439.2,146.6 1440.8,145.9 1442.4,145.7 1444.0,145.7 1445.6,145.7 1447.2,145.3 1448.7,144.7 1450.3,144.3 1451.9,144.0 1453.5,143.7 1455.1,143.5 1456.7,143.4 1458.3,143.4 1459.8,143.2 1461.4,142.7 1463.0,142.0 1464.6,141.4 1466.2,141.1 1467.8,141.2 1469.4,141.7 1471.0,142.1 1472.6,142.4 1474.1,142.4 1475.7,142.0 1477.3,141.1 1478.9,140.1 1480.5,139.1 1482.1,138.4 1483.7,137.8 1485.2,137.1 1486.8,136.8 1488.4,136.8 1490.0,137.2 1491.6,137.7 1493.2,137.9 1494.8,137.9 1496.4,137.7 1497.9,137.4 1499.5,137.3 1501.1,137.4 1502.7,137.7 1504.3,138.3 1505.9,139.1 1507.5,139.8 1509.1,140.5 1510.7,141.0 1512.2,141.6 1513.8,142.4 1515.4,143.1 1517.0,143.5 1518.6,143.5 1520.2,143.2 1521.8,142.4 1523.3,141.1 1524.9,139.3 1526.5,137.7 1528.1,136.6 1529.7,136.3 1531.3,136.6 1532.9,137.1 1534.5,137.5 1536.0,137.3 1537.6,136.8 1539.2,136.2 1540.8,135.8 1542.4,135.5 1544.0,135.1 1545.6,134.5 1547.2,133.9 1548.8,133.6 1550.3,133.3 1551.9,133.0 1553.5,132.8 1555.1,132.8 1556.7,133.3 1558.3,133.8 1559.9,134.0 1561.5,133.8 1563.0,133.4 1564.6,133.2 1566.2,132.9 1567.8,132.5 1569.4,132.3 1571.0,132.1 1572.6,131.9 1574.1,131.5 1575.7,131.1 1577.3,130.6 1578.9,130.3 1580.5,130.3 1582.1,130.5 1583.7,130.9 1585.3,131.4 1586.8,132.0 1588.4,132.5 1590.0,132.8 1591.6,132.7 1593.2,132.3 1594.8,131.7 1596.4,131.3 1598.0,130.9 1599.5,130.3 1601.1,129.7 1602.7,129.2 1604.3,128.8 1605.9,128.5 1607.5,128.3 1609.1,128.4 1610.7,128.6 1612.2,128.7 1613.8,128.6 1615.4,128.3 1617.0,128.0 1618.6,127.9 1620.2,128.0 1621.8,128.0 1623.4,127.9 1625.0,127.6 1626.5,127.4 1628.1,127.2 1629.7,126.7 1631.3,126.1 1632.9,125.4 1634.5,124.8 1636.1,124.4 1637.7,124.2 1639.2,124.3 1640.8,124.4 1642.4,124.5 1644.0,124.4 1645.6,124.3 1647.2,123.9 1648.8,123.3 1650.4,122.7 1651.9,122.4 1653.5,122.7 1655.1,123.3 1656.7,123.8 1658.3,123.8 1659.9,123.5 1661.5,123.2 1663.0,123.0 1664.6,123.1 1666.2,123.4 1667.8,123.8 1669.4,124.0 1671.0,124.0 1672.6,123.9 1674.2,123.5 1675.8,122.8 1677.3,122.0 1678.9,121.6 1680.5,121.9 1682.1,122.2 1683.7,122.2 1685.3,121.9 1686.9,121.6 1688.5,121.8 1690.0,122.3 1691.6,122.4 1693.2,122.0 1694.8,121.3 1696.4,121.1 1698.0,121.2 1699.6,121.3 1701.2,121.1 1702.7,120.6 1704.3,119.8 1705.9,119.0 1707.5,118.2 1709.1,117.5 1710.7,117.0 1712.3,116.6 1713.9,116.3 1715.4,116.1 1717.0,116.2 1718.6,116.3 1720.2,116.2 1721.8,116.0 1723.4,115.7 1725.0,115.2 1726.5,114.6 1728.1,113.8 1729.7,112.8 1731.3,111.7 1732.9,110.8 1734.5,110.6 1736.1,110.9 1737.7,111.0 1739.2,111.2 1740.8,111.6 1742.4,112.1 1744.0,112.6 1745.6,113.0 1747.2,113.3 1748.8,113.6 1750.4,113.9 1752.0,114.4 1753.5,115.0 1755.1,115.9 1756.7,116.8 1758.3,117.6 1759.9,118.2 1761.5,118.7 1763.1,119.4 1764.6,120.2 1766.2,120.9 1767.8,121.7 1769.4,122.2 1771.0,122.1 1772.6,121.5 1774.2,120.7 1775.8,120.1 1777.4,119.9 1778.9,120.0 1780.5,120.5 1782.1,121.2 1783.7,122.3 1785.3,123.6 1786.9,124.9 1788.5,125.9 1790.1,126.7 1791.6,127.6 1793.2,129.0 1794.8,130.9 1796.4,132.7 1798.0,133.8 1799.6,134.2 1801.2,134.3 1802.7,134.7 1804.3,135.3 1805.9,135.9 1807.5,136.1 1809.1,135.9 1810.7,135.5 1812.3,135.3 1813.9,135.5 1815.5,136.1 1817.0,136.7 1818.6,137.2 1820.2,137.4 1821.8,137.6 1823.4,138.1 1825.0,138.8 1826.6,139.4 1828.1,139.4 1829.7,138.8 1831.3,137.8 1832.9,136.9 1834.5,136.3 1836.1,136.2 1837.7,136.2 1839.3,136.5 1840.8,136.9 1842.4,137.4 1844.0,137.8 1845.6,138.0 1847.2,138.5 1848.8,139.4 1850.4,140.7 1852.0,142.0 1853.5,142.8 1855.1,143.2 1856.7,143.6 1858.3,144.0 1859.9,144.5 1861.5,145.0 1863.1,145.2 1864.7,145.4 1866.2,145.5 1867.8,145.6 1869.4,145.9 1871.0,146.6 1872.6,147.3 1874.2,148.1 1875.8,148.7 1877.4,149.0 1878.9,149.1 1880.5,149.1 1882.1,149.3 1883.7,149.4 1885.3,149.4 1886.9,149.5 1888.5,149.7 1890.1,150.0 1891.6,150.4 1893.2,150.9 1894.8,151.6 1896.4,152.3 1898.0,153.1 1899.6,153.6 1901.2,153.8 1902.8,153.9 1904.4,154.2 1905.9,154.5 1907.5,154.6 1909.1,154.4 1910.7,154.1 1912.3,153.9 1913.9,153.9 1915.5,154.1 1917.0,154.5 1918.6,154.7 1920.2,155.0 1921.8,155.1 1923.4,155.2 1925.0,155.4 1926.6,155.6 1928.2,155.8 1929.8,156.1 1931.3,156.3 1932.9,156.6 1934.5,157.0 1936.1,157.5 1937.7,158.0 1939.3,158.5 1940.9,159.0 1942.5,159.5 1944.0,160.0 1945.6,160.3 1947.2,160.5 1948.8,160.7 1950.4,160.8 1952.0,160.9 1953.6,161.0 1955.1,161.2 1956.7,161.5 1958.3,161.9 1959.9,162.3 1961.5,162.6 1963.1,162.7 1964.7,162.7 1966.3,162.7 1967.9,162.8 1969.4,163.1 1971.0,163.6 1972.6,164.0 1974.2,164.4 1975.8,164.8 1977.4,165.3 1979.0,165.9 1980.6,166.6 1982.1,167.1 1983.7,167.4 1985.3,167.8 1986.9,168.1 1988.5,168.3 1990.1,168.4 1991.7,168.5 1993.2,168.6 1994.8,168.7 1996.4,168.8 1998.0,169.0 1999.6,169.2 2001.2,169.5 2002.8,169.7 2004.4,170.1 2006.0,170.4 2007.5,170.8 2009.1,171.1 2010.7,171.4 2012.3,171.6 2013.9,171.8 2015.5,171.9 2017.1,172.0 2018.6,172.2 2020.2,172.5 2021.8,172.9 2023.4,173.2 2025.0,173.4 2026.6,173.6 2028.2,173.8 2029.8,174.1 2031.4,174.5 2032.9,175.0 2034.5,175.4 2036.1,175.7 2037.7,176.1 2039.3,176.5 2040.9,176.9 2042.5,177.1 2044.1,177.4 2045.6,177.6 2047.2,177.9 2048.8,178.1 2050.4,178.3 2052.0,178.5 2053.6,178.5 2055.2,178.5 2056.8,178.5 2058.3,178.6 2059.9,178.8 2061.5,179.2 2063.1,179.8 2064.7,180.5 2066.3,181.2 2067.9,181.7 2069.4,182.1 2071.0,182.4 2072.6,182.6 2074.2,182.8 2075.8,182.9 2077.4,182.9 2079.0,182.9 2080.6,182.8 2082.2,182.7 2083.7,182.6 2085.3,182.5 2086.9,182.4 2088.5,182.4 2090.1,182.4 2091.7,182.4 2093.3,182.5 2094.9,182.8 2096.4,183.2 2098.0,183.6 2099.6,183.8 2101.2,184.0 2102.8,184.3 2104.4,184.6 2106.0,185.0 2107.6,185.3 2109.1,185.6 2110.7,186.0 2112.3,186.5 2113.9,187.2 2115.5,187.9 2117.1,188.6 2118.7,189.3 2120.2,189.9 2121.8,190.5 2123.4,191.2 2125.0,191.8 2126.6,192.3 2128.2,192.7 2129.8,193.0 2131.4,193.3 2132.9,193.6 2134.5,193.9 2136.1,194.1 2137.7,194.2 2139.3,194.3 2140.9,194.6 2142.5,194.7 2144.1,194.8 2145.6,194.8 2147.2,195.0 2148.8,195.4 2150.4,195.8 2152.0,196.2 2153.6,196.5 2155.2,196.7 2156.8,197.0 2158.4,197.3 2159.9,197.5 2161.5,197.7 2163.1,198.0 2164.7,198.3 2166.3,198.7 2167.9,199.1 2169.5,199.3 2171.1,199.3 2172.6,199.4 2174.2,199.4 2175.8,199.5 2177.4,199.7 2179.0,199.9 2180.6,200.2 2182.2,200.5 2183.8,200.8 2185.3,201.1 2186.9,201.4 2188.5,201.5 2190.1,201.5 2191.7,201.5 2193.3,201.5 2194.9,201.5 2196.4,201.5 2198.0,201.4 2199.6,201.4 2201.2,201.5 2202.8,201.6 2204.4,201.6 2206.0,201.7 2207.6,201.9 2209.1,202.1 2210.7,202.1 2212.3,201.9 2213.9,201.6 2215.5,201.3 2217.1,201.0 2218.7,200.8 2220.3,200.8 2221.9,200.8 2223.4,200.7 2225.0,200.7 2226.6,200.8 2228.2,200.8 2229.8,200.9 2231.4,200.9 2233.0,201.1 2234.6,201.3 2236.1,201.6 2237.7,202.1 2239.3,202.5 2240.9,202.9 2242.5,203.2 2244.1,203.4 2245.7,203.6 2247.2,203.7 2248.8,203.9 2250.4,204.2 2252.0,204.5 2253.6,204.8 2255.2,205.0 2256.8,205.2 2258.4,205.3 2259.9,205.4 2261.5,205.4 2263.1,205.1 2264.7,204.7 2266.3,204.4 2267.9,204.1 2269.5,203.8 2271.1,203.5 2272.6,203.4 2274.2,203.4 2275.8,203.6 2277.4,203.7 2279.0,203.9 2280.6,204.2 2282.2,204.5 2283.8,204.9 2285.4,205.3 2286.9,205.7 2288.5,206.0 2290.1,206.3 2291.7,206.8 2293.3,207.3 2294.9,207.8 2296.5,208.3 2298.1,208.9 2299.6,209.6 2301.2,210.2 2302.8,210.8 2304.4,211.4 2306.0,212.1 2307.6,212.8 2309.2,213.4 2310.8,213.8 2312.3,214.1 2313.9,214.5 2315.5,214.9 2317.1,215.5 2318.7,216.1 2320.3,216.8 2321.9,217.4 2323.4,218.0 2325.0,218.5 2326.6,219.0 2328.2,219.5 2329.8,220.0 2331.4,220.6 2333.0,221.2 2334.6,221.7 2336.1,222.3 2337.7,222.8 2339.3,223.3 2340.9,223.9 2342.5,224.6 2344.1,225.2 2345.7,225.7 2347.3,226.4 2348.9,227.0 2350.4,227.5 2352.0,228.0 2353.6,228.3 2355.2,228.6 2356.8,228.9 2358.4,229.2 2360.0,229.6 2361.6,229.9 2363.1,230.2 2364.7,230.4 2366.3,230.7 2367.9,230.9 2369.5,231.1 2371.1,231.3 2372.7,231.7 2374.2,232.1 2375.8,232.5 2377.4,232.7 2379.0,232.9 2380.6,233.1 2382.2,233.4 2383.8,233.6 2385.4,233.7 2386.9,233.8 2388.5,233.9 2390.1,234.0 2391.7,234.3 2393.3,234.5 2394.9,234.6 2396.5,234.6 2398.1,234.6 2399.7,234.5 2401.2,234.5 2402.8,234.5 2404.4,234.4 2406.0,234.4" fill="none" stroke="#1a1a1a" stroke-width="2.5" stroke-linejoin="round" stroke-linecap="butt"/>
</g>
<path d="M659.8 107.1v20.5M659.8 524.5v-20.5M818.5 107.1v20.5M818.5 524.5v-20.5M977.2 107.1v20.5M977.2 524.5v-20.5M1136.0 107.1v20.5M1136.0 524.5v-20.5M1294.8 107.1v20.5M1294.8 524.5v-20.5M1453.5 107.1v20.5M1453.5 524.5v-20.5M1612.2 107.1v20.5M1612.2 524.5v-20.5M1771.0 107.1v20.5M1771.0 524.5v-20.5M1929.8 107.1v20.5M1929.8 524.5v-20.5M2088.5 107.1v20.5M2088.5 524.5v-20.5M2247.2 107.1v20.5M2247.2 524.5v-20.5M501.0 507.8h10.8M2406.0 507.8h-10.8M501.0 491.1h10.8M2406.0 491.1h-10.8M501.0 474.4h10.8M2406.0 474.4h-10.8M501.0 457.7h10.8M2406.0 457.7h-10.8M501.0 441.0h19.5M2406.0 441.0h-19.5M501.0 424.3h10.8M2406.0 424.3h-10.8M501.0 407.6h10.8M2406.0 407.6h-10.8M501.0 390.9h10.8M2406.0 390.9h-10.8M501.0 374.2h10.8M2406.0 374.2h-10.8M501.0 357.5h19.5M2406.0 357.5h-19.5M501.0 340.8h10.8M2406.0 340.8h-10.8M501.0 324.1h10.8M2406.0 324.1h-10.8M501.0 307.5h10.8M2406.0 307.5h-10.8M501.0 290.8h10.8M2406.0 290.8h-10.8M501.0 274.1h19.5M2406.0 274.1h-19.5M501.0 257.4h10.8M2406.0 257.4h-10.8M501.0 240.7h10.8M2406.0 240.7h-10.8M501.0 224.0h10.8M2406.0 224.0h-10.8M501.0 207.3h10.8M2406.0 207.3h-10.8M501.0 190.6h19.5M2406.0 190.6h-19.5M501.0 173.9h10.8M2406.0 173.9h-10.8M501.0 157.2h10.8M2406.0 157.2h-10.8M501.0 140.5h10.8M2406.0 140.5h-10.8M501.0 123.8h10.8M2406.0 123.8h-10.8" stroke="#141414" stroke-width="2.1" fill="none"/>
<rect x="501.0" y="107.1" width="1905.0" height="417.4" fill="none" stroke="#141414" stroke-width="2.15"/>
<text x="475.5" y="123.5" text-anchor="end">150</text>
<text x="475.5" y="207.0" text-anchor="end">100</text>
<text x="475.5" y="290.5" text-anchor="end">50</text>
<text x="475.5" y="373.9" text-anchor="end">0</text>
<text x="475.5" y="457.4" text-anchor="end">50</text>
<rect x="387.8" y="437.9" width="30.7" height="2.5" fill="#1c1c1c"/>
<text x="475.5" y="540.9" text-anchor="end">100</text>
<rect x="360.3" y="521.4" width="30.7" height="2.5" fill="#1c1c1c"/>
<text x="499.0" y="587.5" text-anchor="middle">00:00</text>
<text x="816.5" y="587.5" text-anchor="middle">04:00</text>
<text x="1134.0" y="587.5" text-anchor="middle">08:00</text>
<text x="1451.5" y="587.5" text-anchor="middle">12:00</text>
<text x="1769.0" y="587.5" text-anchor="middle">16:00</text>
<text x="2086.5" y="587.5" text-anchor="middle">20:00</text>
<text x="2404.0" y="587.5" text-anchor="middle">00:00</text>
<text transform="translate(335.8 314.6) rotate(-90)" text-anchor="middle">d<tspan class="i">B</tspan> / nT</text>
<text x="2246" y="82.4" text-anchor="end" letter-spacing="0.2">Residual with IGRF</text>
<text x="2405" y="82.4" text-anchor="end">(a)</text>
<text y="170.5" id="anna"><tspan x="542">d</tspan><tspan class="bi" x="573.2">F</tspan><tspan x="654.2">17.7874</tspan><tspan class="i" x="832.5">t</tspan><tspan x="882">1.3098</tspan><tspan x="1031.5">×</tspan><tspan x="1064.9">10</tspan><tspan x="1119.5" dy="-19.5" font-size="30">7</tspan></text>
<rect x="614" y="146.5" width="30.8" height="2.4" fill="#1c1c1c"/><rect x="614" y="155.9" width="30.8" height="2.4" fill="#1c1c1c"/><rect x="848.6" y="150.3" width="30.9" height="2.4" fill="#1c1c1c"/>
<defs><clipPath id="clipb"><rect x="501.0" y="687.9" width="1905.0" height="417.6"/></clipPath></defs>
<g><g fill="#ffffff"><rect x="656.0" y="687.9" width="8.0" height="417.6"/><rect x="816.0" y="687.9" width="8.0" height="417.6"/><rect x="976.0" y="687.9" width="8.0" height="417.6"/><rect x="1128.0" y="687.9" width="16.0" height="417.6"/><rect x="1288.0" y="687.9" width="8.0" height="417.6"/><rect x="1448.0" y="687.9" width="8.0" height="417.6"/><rect x="1608.0" y="687.9" width="8.0" height="417.6"/><rect x="1768.0" y="687.9" width="8.0" height="417.6"/><rect x="1928.0" y="687.9" width="8.0" height="417.6"/><rect x="2088.0" y="687.9" width="8.0" height="417.6"/><rect x="2240.0" y="687.9" width="8.0" height="417.6"/><rect x="501.0" y="768.0" width="1905.0" height="8.0"/><rect x="501.0" y="848.0" width="1905.0" height="8.0"/><rect x="501.0" y="936.0" width="1905.0" height="8.0"/><rect x="501.0" y="1016.0" width="1905.0" height="8.0"/></g><g fill="#d2d2d2"><rect x="658.9" y="687.9" width="2" height="417.6"/><rect x="817.6" y="687.9" width="2" height="417.6"/><rect x="976.4" y="687.9" width="2" height="417.6"/><rect x="1135.1" y="687.9" width="2" height="417.6"/><rect x="1293.8" y="687.9" width="2" height="417.6"/><rect x="1452.6" y="687.9" width="2" height="417.6"/><rect x="1611.3" y="687.9" width="2" height="417.6"/><rect x="1770.1" y="687.9" width="2" height="417.6"/><rect x="1928.8" y="687.9" width="2" height="417.6"/><rect x="2087.6" y="687.9" width="2" height="417.6"/><rect x="2246.3" y="687.9" width="2" height="417.6"/></g><g fill="#c2c2c2"><rect x="501.0" y="770.6" width="1905.0" height="2"/><rect x="501.0" y="854.1" width="1905.0" height="2"/><rect x="501.0" y="937.7" width="1905.0" height="2"/><rect x="501.0" y="1021.2" width="1905.0" height="2"/></g></g>
<g clip-path="url(#clipb)"><line x1="501.0" y1="805.2" x2="2406.0" y2="768.4" stroke="#ffffff" stroke-opacity="0.55" stroke-width="7"/>
<polyline points="501,1031 511,1031 520,1031 530,1031 539,1031 549,1030 558,1027 568,1025 577,1025 587,1025 596,1027 606,1031 615,1033 625,1034 634,1035 644,1035 653,1032 663,1031 672,1030 682,1030 692,1029 701,1028 711,1027 720,1027 730,1027 739,1027 749,1027 758,1028 768,1028 777,1029 787,1029 796,1029 806,1030 815,1030 825,1031 834,1032 844,1033 853,1034 863,1035 872,1037 882,1038 892,1038 901,1039 911,1038 920,1038 930,1038 939,1038 949,1037 958,1036 968,1035 977,1036 987,1038 996,1040 1006,1041 1015,1042 1025,1042 1034,1042 1044,1042 1053,1042 1063,1041 1072,1038 1082,1038 1092,1038 1101,1038 1111,1037 1120,1037 1130,1037 1139,1037 1149,1036 1158,1035 1168,1033 1177,1031 1187,1028 1196,1025 1206,1023 1215,1021 1225,1021 1234,1023 1244,1024 1253,1027 1263,1030 1273,1035 1282,1040 1292,1045 1301,1049 1311,1053 1320,1057 1330,1061 1339,1065 1349,1068 1358,1071 1368,1073 1377,1075 1387,1076 1396,1077 1406,1078 1415,1079 1425,1079 1434,1080 1444,1080 1454,1079 1463,1080 1473,1080 1482,1080 1492,1078 1501,1076 1511,1072 1520,1069 1530,1066 1539,1064 1549,1061 1558,1058 1568,1057 1577,1055 1587,1054 1596,1053 1606,1048 1615,1044 1625,1044 1634,1042 1644,1040 1654,1038 1663,1036 1673,1034 1682,1031 1692,1026 1701,1021 1711,1019 1720,1020 1730,1021 1739,1021 1749,1023 1758,1022 1768,1024 1777,1026 1787,1028 1796,1029 1806,1026 1815,1026 1825,1028 1834,1028 1844,1034 1854,1039 1863,1041 1873,1042 1882,1042 1892,1042 1901,1042 1911,1041 1920,1040 1930,1041 1939,1043 1949,1044 1958,1045 1968,1046 1977,1048 1987,1049 1996,1049 2006,1050 2015,1050 2025,1050 2035,1050 2044,1050 2054,1050 2063,1051 2073,1050 2082,1048 2092,1047 2101,1046 2111,1045 2120,1045 2130,1044 2139,1043 2149,1042 2158,1042 2168,1041 2177,1041 2187,1040 2196,1040 2206,1040 2216,1041 2225,1041 2235,1041 2244,1040 2254,1040 2263,1039 2273,1039 2282,1039 2292,1039 2301,1038 2311,1038 2320,1038 2330,1037 2339,1036 2349,1034 2358,1034 2368,1035 2377,1035 2387,1036 2396,1036 2406,1037" fill="none" stroke="#ffffff" stroke-opacity="0.55" stroke-width="8" stroke-linejoin="round"/>
<polyline points="501,1002 511,1003 520,1003 530,1002 539,1001 549,1000 558,1000 568,1000 577,999 587,995 596,990 606,987 615,986 625,985 634,986 644,988 653,991 663,993 672,994 682,995 692,995 701,996 711,996 720,994 730,994 739,994 749,995 758,994 768,993 777,993 787,993 796,994 806,995 815,996 825,995 834,995 844,994 853,995 863,996 872,998 882,1000 892,1000 901,998 911,996 920,994 930,994 939,994 949,994 958,995 968,996 977,996 987,995 996,995 1006,994 1015,993 1025,992 1034,991 1044,991 1053,990 1063,989 1072,990 1082,991 1092,992 1101,992 1111,992 1120,992 1130,992 1139,992 1149,991 1158,990 1168,990 1177,990 1187,991 1196,991 1206,993 1215,995 1225,996 1234,998 1244,1000 1253,1002 1263,1003 1273,1004 1282,1005 1292,1005 1301,1005 1311,1003 1320,1001 1330,999 1339,997 1349,995 1358,993 1368,991 1377,989 1387,990 1396,989 1406,987 1415,984 1425,981 1434,978 1444,977 1454,976 1463,975 1473,976 1482,977 1492,977 1501,979 1511,981 1520,982 1530,982 1539,982 1549,982 1558,981 1568,980 1577,979 1587,979 1596,978 1606,978 1615,978 1625,977 1634,975 1644,974 1654,975 1663,977 1673,979 1682,982 1692,985 1701,989 1711,992 1720,993 1730,993 1739,993 1749,995 1758,996 1768,997 1777,998 1787,1001 1796,1004 1806,1005 1815,1006 1825,1006 1834,1004 1844,1003 1854,1002 1863,1002 1873,1002 1882,1003 1892,1005 1901,1008 1911,1010 1920,1011 1930,1011 1939,1012 1949,1013 1958,1014 1968,1014 1977,1014 1987,1014 1996,1013 2006,1012 2015,1012 2025,1012 2035,1011 2044,1011 2054,1010 2063,1008 2073,1006 2082,1004 2092,1002 2101,1001 2111,1000 2120,1000 2130,1000 2139,999 2149,999 2158,998 2168,998 2177,998 2187,998 2196,999 2206,999 2216,999 2225,999 2235,999 2244,1000 2254,1000 2263,999 2273,998 2282,999 2292,999 2301,1000 2311,1001 2320,1002 2330,1003 2339,1004 2349,1005 2358,1006 2368,1006 2377,1006 2387,1006 2396,1005 2406,1005" fill="none" stroke="#ffffff" stroke-opacity="0.55" stroke-width="8" stroke-linejoin="round"/>
<polyline points="501,870 511,870 520,871 530,872 539,872 549,874 558,878 568,881 577,882 587,876 596,868 606,864 615,864 625,862 634,862 644,865 653,868 663,868 672,868 682,871 692,872 701,871 711,871 720,868 730,867 739,867 749,869 758,870 768,868 777,865 787,864 796,864 806,866 815,869 825,866 834,867 844,866 853,866 863,868 872,875 882,887 892,889 901,886 911,884 920,879 930,876 939,876 949,876 958,877 968,877 977,877 987,880 996,882 1006,883 1015,881 1025,879 1034,877 1044,873 1053,869 1063,867 1072,868 1082,869 1092,870 1101,871 1111,871 1120,871 1130,871 1139,872 1149,868 1158,865 1168,864 1177,864 1187,863 1196,863 1206,862 1215,862 1225,864 1234,866 1244,867 1253,867 1263,867 1273,866 1282,869 1292,871 1301,871 1311,874 1320,871 1330,869 1339,871 1349,867 1358,867 1368,864 1377,859 1387,863 1396,861 1406,857 1415,853 1425,845 1434,843 1444,843 1454,835 1463,832 1473,833 1482,829 1492,821 1501,822 1511,823 1520,819 1530,814 1539,810 1549,804 1558,801 1568,802 1577,797 1587,796 1596,796 1606,791 1615,786 1625,788 1634,785 1644,779 1654,777 1663,779 1673,778 1682,774 1692,769 1701,767 1711,762 1720,763 1730,760 1739,759 1749,764 1758,768 1768,770 1777,768 1787,771 1796,782 1806,784 1815,784 1825,789 1834,787 1844,791 1854,797 1863,802 1873,804 1882,807 1892,808 1901,813 1911,815 1920,813 1930,815 1939,821 1949,825 1958,827 1968,830 1977,835 1987,838 1996,839 2006,841 2015,843 2025,845 2035,848 2044,851 2054,852 2063,854 2073,857 2082,856 2092,854 2101,856 2111,856 2120,864 2130,867 2139,867 2149,868 2158,868 2168,870 2177,870 2187,871 2196,871 2206,870 2216,870 2225,866 2235,866 2244,867 2254,866 2263,864 2273,860 2282,861 2292,860 2301,865 2311,867 2320,868 2330,871 2339,872 2349,873 2358,876 2368,877 2377,880 2387,884 2396,885 2406,884" fill="none" stroke="#ffffff" stroke-opacity="0.55" stroke-width="12" stroke-linejoin="round"/>
<polyline points="501,805 511,806 520,808 530,808 539,809 549,811 558,814 568,817 577,817 587,815 596,812 606,809 615,809 625,807 634,805 644,807 653,809 663,811 672,810 682,812 692,812 701,812 711,812 720,812 730,811 739,811 749,812 758,812 768,811 777,809 787,808 796,809 806,810 815,810 825,808 834,807 844,807 853,806 863,805 872,807 882,810 892,811 901,811 911,811 920,809 930,808 939,808 949,808 958,810 968,811 977,809 987,809 996,809 1006,807 1015,806 1025,805 1034,805 1044,805 1053,803 1063,802 1072,804 1082,805 1092,806 1101,805 1111,805 1120,806 1130,807 1139,807 1149,805 1158,805 1168,806 1177,808 1187,809 1196,810 1206,811 1215,812 1225,812 1234,812 1244,809 1253,807 1263,803 1273,800 1282,797 1292,794 1301,791 1311,789 1320,786 1330,784 1339,781 1349,778 1358,775 1368,772 1377,772 1387,774 1396,770 1406,767 1415,767 1425,764 1434,761 1444,761 1454,760 1463,758 1473,757 1482,754 1492,751 1501,752 1511,756 1520,757 1530,753 1539,752 1549,753 1558,752 1568,753 1577,752 1587,752 1596,751 1606,750 1615,748 1625,752 1634,749 1644,744 1654,745 1663,746 1673,746 1682,744 1692,745 1701,743 1711,742 1720,737 1730,732 1739,732 1749,733 1758,736 1768,740 1777,738 1787,740 1796,747 1806,749 1815,751 1825,753 1834,749 1844,751 1854,752 1863,755 1873,757 1882,758 1892,759 1901,761 1911,761 1920,762 1930,762 1939,764 1949,766 1958,766 1968,767 1977,769 1987,771 1996,772 2006,773 2015,773 2025,774 2035,776 2044,778 2054,780 2063,782 2073,785 2082,786 2092,787 2101,788 2111,789 2120,792 2130,795 2139,797 2149,798 2158,799 2168,800 2177,801 2187,802 2196,802 2206,802 2216,801 2225,799 2235,800 2244,800 2254,800 2263,799 2273,798 2282,798 2292,799 2301,799 2311,800 2320,801 2330,801 2339,802 2349,803 2358,803 2368,804 2377,805 2387,807 2396,808 2406,808" fill="none" stroke="#ffffff" stroke-opacity="0.55" stroke-width="8" stroke-linejoin="round"/>
<polyline points="501,870 511,870 520,871 530,872 539,872 549,874 558,878 568,881 577,882 587,876 596,868 606,864 615,864 625,862 634,862 644,865 653,868 663,868 672,868 682,871 692,872 701,871 711,871 720,868 730,867 739,867 749,869 758,870 768,868 777,865 787,864 796,864 806,866 815,869 825,866 834,867 844,866 853,866 863,868 872,875 882,887 892,889 901,886 911,884 920,879 930,876 939,876 949,876 958,877 968,877 977,877 987,880 996,882 1006,883 1015,881 1025,879 1034,877 1044,873 1053,869 1063,867 1072,868 1082,869 1092,870 1101,871 1111,871 1120,871 1130,871 1139,872 1149,868 1158,865 1168,864 1177,864 1187,863 1196,863 1206,862 1215,862 1225,864 1234,866 1244,867 1253,867 1263,867 1273,866 1282,869 1292,871 1301,871 1311,874 1320,871 1330,869 1339,871 1349,867 1358,867 1368,864 1377,859 1387,863 1396,861 1406,857 1415,853 1425,845 1434,843 1444,843 1454,835 1463,832 1473,833 1482,829 1492,821 1501,822 1511,823 1520,819 1530,814 1539,810 1549,804 1558,801 1568,802 1577,797 1587,796 1596,796 1606,791 1615,786 1625,788 1634,785 1644,779 1654,777 1663,779 1673,778 1682,774 1692,769 1701,767 1711,762 1720,763 1730,760 1739,759 1749,764 1758,768 1768,770 1777,768 1787,771 1796,782 1806,784 1815,784 1825,789 1834,787 1844,791 1854,797 1863,802 1873,804 1882,807 1892,808 1901,813 1911,815 1920,813 1930,815 1939,821 1949,825 1958,827 1968,830 1977,835 1987,838 1996,839 2006,841 2015,843 2025,845 2035,848 2044,851 2054,852 2063,854 2073,857 2082,856 2092,854 2101,856 2111,856 2120,864 2130,867 2139,867 2149,868 2158,868 2168,870 2177,870 2187,871 2196,871 2206,870 2216,870 2225,866 2235,866 2244,867 2254,866 2263,864 2273,860 2282,861 2292,860 2301,865 2311,867 2320,868 2330,871 2339,872 2349,873 2358,876 2368,877 2377,880 2387,884 2396,885 2406,884" fill="none" stroke="#ffdcec" stroke-opacity="0.65" stroke-width="10" stroke-linejoin="round"/>
<line x1="501.0" y1="805.2" x2="2406.0" y2="768.4" stroke="#858585" stroke-width="2.0" stroke-dasharray="12.5 5"/>
<polyline points="501.0,1031.1 502.6,1031.1 504.2,1031.2 505.8,1031.2 507.4,1031.3 508.9,1031.3 510.5,1031.3 512.1,1031.3 513.7,1031.4 515.3,1031.4 516.9,1031.4 518.5,1031.4 520.0,1031.4 521.6,1031.4 523.2,1031.4 524.8,1031.4 526.4,1031.4 528.0,1031.3 529.6,1031.3 531.2,1031.3 532.8,1031.2 534.3,1031.1 535.9,1031.1 537.5,1031.0 539.1,1030.9 540.7,1030.8 542.3,1030.7 543.9,1030.5 545.5,1030.2 547.0,1029.9 548.6,1029.6 550.2,1029.1 551.8,1028.7 553.4,1028.2 555.0,1027.6 556.6,1027.1 558.1,1026.6 559.7,1026.2 561.3,1025.8 562.9,1025.5 564.5,1025.3 566.1,1025.1 567.7,1025.0 569.3,1024.9 570.9,1024.8 572.4,1024.8 574.0,1024.7 575.6,1024.7 577.2,1024.7 578.8,1024.8 580.4,1024.8 582.0,1024.9 583.5,1025.1 585.1,1025.2 586.7,1025.4 588.3,1025.7 589.9,1025.9 591.5,1026.2 593.1,1026.5 594.7,1026.9 596.2,1027.4 597.8,1027.9 599.4,1028.4 601.0,1029.0 602.6,1029.6 604.2,1030.1 605.8,1030.7 607.4,1031.1 609.0,1031.5 610.5,1031.9 612.1,1032.3 613.7,1032.6 615.3,1032.8 616.9,1033.1 618.5,1033.3 620.1,1033.6 621.6,1033.8 623.2,1034.0 624.8,1034.2 626.4,1034.3 628.0,1034.5 629.6,1034.7 631.2,1034.8 632.8,1034.9 634.4,1035.0 635.9,1035.1 637.5,1035.1 639.1,1035.1 640.7,1035.0 642.3,1034.9 643.9,1034.7 645.5,1034.4 647.0,1034.0 648.6,1033.7 650.2,1033.2 651.8,1032.8 653.4,1032.4 655.0,1032.1 656.6,1031.7 658.2,1031.4 659.8,1031.2 661.3,1031.0 662.9,1030.9 664.5,1030.7 666.1,1030.6 667.7,1030.5 669.3,1030.5 670.9,1030.4 672.5,1030.3 674.0,1030.2 675.6,1030.2 677.2,1030.1 678.8,1030.0 680.4,1029.9 682.0,1029.9 683.6,1029.8 685.1,1029.7 686.7,1029.5 688.3,1029.4 689.9,1029.2 691.5,1029.1 693.1,1028.9 694.7,1028.7 696.3,1028.6 697.9,1028.4 699.4,1028.2 701.0,1028.1 702.6,1027.9 704.2,1027.8 705.8,1027.6 707.4,1027.5 709.0,1027.4 710.5,1027.4 712.1,1027.3 713.7,1027.2 715.3,1027.1 716.9,1027.1 718.5,1027.0 720.1,1027.0 721.7,1026.9 723.2,1026.9 724.8,1026.8 726.4,1026.8 728.0,1026.8 729.6,1026.8 731.2,1026.8 732.8,1026.8 734.4,1026.8 736.0,1026.9 737.5,1026.9 739.1,1026.9 740.7,1026.9 742.3,1027.0 743.9,1027.0 745.5,1027.0 747.1,1027.1 748.6,1027.1 750.2,1027.2 751.8,1027.3 753.4,1027.3 755.0,1027.4 756.6,1027.5 758.2,1027.6 759.8,1027.8 761.4,1027.9 762.9,1028.0 764.5,1028.1 766.1,1028.2 767.7,1028.3 769.3,1028.4 770.9,1028.5 772.5,1028.6 774.0,1028.7 775.6,1028.7 777.2,1028.8 778.8,1028.8 780.4,1028.9 782.0,1028.9 783.6,1028.9 785.2,1029.0 786.8,1029.0 788.3,1029.1 789.9,1029.1 791.5,1029.2 793.1,1029.2 794.7,1029.2 796.3,1029.3 797.9,1029.3 799.5,1029.4 801.0,1029.4 802.6,1029.5 804.2,1029.5 805.8,1029.5 807.4,1029.6 809.0,1029.6 810.6,1029.7 812.1,1029.7 813.7,1029.8 815.3,1029.9 816.9,1029.9 818.5,1030.0 820.1,1030.1 821.7,1030.2 823.3,1030.4 824.9,1030.5 826.4,1030.7 828.0,1030.8 829.6,1031.0 831.2,1031.2 832.8,1031.4 834.4,1031.6 836.0,1031.8 837.5,1032.0 839.1,1032.2 840.7,1032.4 842.3,1032.6 843.9,1032.8 845.5,1033.0 847.1,1033.3 848.7,1033.5 850.2,1033.7 851.8,1033.9 853.4,1034.2 855.0,1034.4 856.6,1034.6 858.2,1034.8 859.8,1035.0 861.4,1035.2 863.0,1035.4 864.5,1035.6 866.1,1035.8 867.7,1036.0 869.3,1036.2 870.9,1036.3 872.5,1036.5 874.1,1036.7 875.7,1036.9 877.2,1037.0 878.8,1037.2 880.4,1037.4 882.0,1037.5 883.6,1037.7 885.2,1037.8 886.8,1038.0 888.3,1038.1 889.9,1038.2 891.5,1038.3 893.1,1038.4 894.7,1038.4 896.3,1038.5 897.9,1038.5 899.5,1038.5 901.0,1038.5 902.6,1038.5 904.2,1038.5 905.8,1038.5 907.4,1038.5 909.0,1038.5 910.6,1038.5 912.2,1038.5 913.8,1038.4 915.3,1038.4 916.9,1038.4 918.5,1038.4 920.1,1038.4 921.7,1038.4 923.3,1038.3 924.9,1038.3 926.5,1038.3 928.0,1038.2 929.6,1038.2 931.2,1038.2 932.8,1038.2 934.4,1038.1 936.0,1038.1 937.6,1038.0 939.2,1038.0 940.7,1038.0 942.3,1037.9 943.9,1037.8 945.5,1037.7 947.1,1037.6 948.7,1037.4 950.3,1037.2 951.8,1037.0 953.4,1036.7 955.0,1036.4 956.6,1036.1 958.2,1035.8 959.8,1035.5 961.4,1035.3 963.0,1035.1 964.5,1035.0 966.1,1034.9 967.7,1034.9 969.3,1035.0 970.9,1035.1 972.5,1035.3 974.1,1035.6 975.7,1035.9 977.2,1036.2 978.8,1036.5 980.4,1036.9 982.0,1037.2 983.6,1037.5 985.2,1037.9 986.8,1038.2 988.4,1038.5 990.0,1038.8 991.5,1039.1 993.1,1039.4 994.7,1039.7 996.3,1040.0 997.9,1040.3 999.5,1040.5 1001.1,1040.8 1002.7,1041.0 1004.2,1041.1 1005.8,1041.3 1007.4,1041.4 1009.0,1041.5 1010.6,1041.6 1012.2,1041.7 1013.8,1041.8 1015.4,1041.9 1016.9,1042.0 1018.5,1042.1 1020.1,1042.1 1021.7,1042.2 1023.3,1042.2 1024.9,1042.3 1026.5,1042.3 1028.1,1042.4 1029.6,1042.4 1031.2,1042.4 1032.8,1042.4 1034.4,1042.4 1036.0,1042.4 1037.6,1042.4 1039.2,1042.4 1040.8,1042.4 1042.3,1042.4 1043.9,1042.3 1045.5,1042.3 1047.1,1042.3 1048.7,1042.2 1050.3,1042.2 1051.9,1042.1 1053.4,1042.0 1055.0,1041.9 1056.6,1041.8 1058.2,1041.6 1059.8,1041.4 1061.4,1041.1 1063.0,1040.8 1064.6,1040.4 1066.2,1039.9 1067.7,1039.4 1069.3,1039.0 1070.9,1038.6 1072.5,1038.3 1074.1,1038.1 1075.7,1037.9 1077.3,1037.8 1078.8,1037.8 1080.4,1037.7 1082.0,1037.7 1083.6,1037.7 1085.2,1037.6 1086.8,1037.6 1088.4,1037.6 1090.0,1037.6 1091.6,1037.6 1093.1,1037.6 1094.7,1037.6 1096.3,1037.6 1097.9,1037.5 1099.5,1037.5 1101.1,1037.5 1102.7,1037.5 1104.2,1037.5 1105.8,1037.5 1107.4,1037.5 1109.0,1037.4 1110.6,1037.4 1112.2,1037.4 1113.8,1037.4 1115.4,1037.4 1116.9,1037.4 1118.5,1037.4 1120.1,1037.3 1121.7,1037.3 1123.3,1037.3 1124.9,1037.3 1126.5,1037.3 1128.1,1037.2 1129.7,1037.2 1131.2,1037.2 1132.8,1037.2 1134.4,1037.1 1136.0,1037.1 1137.6,1037.0 1139.2,1036.9 1140.8,1036.9 1142.3,1036.7 1143.9,1036.6 1145.5,1036.5 1147.1,1036.3 1148.7,1036.1 1150.3,1036.0 1151.9,1035.8 1153.5,1035.5 1155.1,1035.3 1156.6,1035.1 1158.2,1034.9 1159.8,1034.6 1161.4,1034.4 1163.0,1034.1 1164.6,1033.8 1166.2,1033.5 1167.8,1033.2 1169.3,1032.9 1170.9,1032.5 1172.5,1032.2 1174.1,1031.8 1175.7,1031.4 1177.3,1030.9 1178.9,1030.5 1180.5,1030.1 1182.0,1029.6 1183.6,1029.2 1185.2,1028.7 1186.8,1028.2 1188.4,1027.7 1190.0,1027.3 1191.6,1026.7 1193.2,1026.2 1194.7,1025.7 1196.3,1025.2 1197.9,1024.7 1199.5,1024.2 1201.1,1023.7 1202.7,1023.3 1204.3,1022.9 1205.8,1022.5 1207.4,1022.2 1209.0,1021.9 1210.6,1021.6 1212.2,1021.4 1213.8,1021.1 1215.4,1020.9 1217.0,1020.8 1218.6,1020.7 1220.1,1020.6 1221.7,1020.6 1223.3,1020.7 1224.9,1020.9 1226.5,1021.1 1228.1,1021.3 1229.7,1021.6 1231.2,1021.9 1232.8,1022.3 1234.4,1022.6 1236.0,1022.9 1237.6,1023.2 1239.2,1023.5 1240.8,1023.8 1242.4,1024.1 1243.9,1024.5 1245.5,1024.8 1247.1,1025.2 1248.7,1025.5 1250.3,1025.9 1251.9,1026.4 1253.5,1026.8 1255.1,1027.3 1256.7,1027.9 1258.2,1028.4 1259.8,1029.0 1261.4,1029.6 1263.0,1030.2 1264.6,1030.9 1266.2,1031.6 1267.8,1032.3 1269.3,1033.1 1270.9,1033.9 1272.5,1034.7 1274.1,1035.6 1275.7,1036.5 1277.3,1037.4 1278.9,1038.3 1280.5,1039.1 1282.1,1040.0 1283.6,1040.9 1285.2,1041.7 1286.8,1042.5 1288.4,1043.3 1290.0,1044.1 1291.6,1044.9 1293.2,1045.6 1294.8,1046.3 1296.3,1047.1 1297.9,1047.8 1299.5,1048.4 1301.1,1049.1 1302.7,1049.7 1304.3,1050.4 1305.9,1051.0 1307.4,1051.6 1309.0,1052.3 1310.6,1052.9 1312.2,1053.6 1313.8,1054.2 1315.4,1054.9 1317.0,1055.5 1318.6,1056.2 1320.2,1056.9 1321.7,1057.6 1323.3,1058.2 1324.9,1058.9 1326.5,1059.6 1328.1,1060.2 1329.7,1060.9 1331.3,1061.5 1332.8,1062.2 1334.4,1062.8 1336.0,1063.4 1337.6,1064.0 1339.2,1064.6 1340.8,1065.1 1342.4,1065.7 1344.0,1066.3 1345.6,1066.8 1347.1,1067.3 1348.7,1067.9 1350.3,1068.4 1351.9,1068.9 1353.5,1069.3 1355.1,1069.8 1356.7,1070.2 1358.2,1070.7 1359.8,1071.1 1361.4,1071.5 1363.0,1071.9 1364.6,1072.3 1366.2,1072.7 1367.8,1073.1 1369.4,1073.4 1371.0,1073.8 1372.5,1074.1 1374.1,1074.5 1375.7,1074.8 1377.3,1075.1 1378.9,1075.4 1380.5,1075.6 1382.1,1075.9 1383.7,1076.1 1385.2,1076.3 1386.8,1076.4 1388.4,1076.6 1390.0,1076.8 1391.6,1076.9 1393.2,1077.0 1394.8,1077.2 1396.3,1077.3 1397.9,1077.4 1399.5,1077.5 1401.1,1077.6 1402.7,1077.7 1404.3,1077.8 1405.9,1077.9 1407.5,1078.0 1409.1,1078.1 1410.6,1078.3 1412.2,1078.4 1413.8,1078.5 1415.4,1078.6 1417.0,1078.7 1418.6,1078.8 1420.2,1079.0 1421.8,1079.1 1423.3,1079.2 1424.9,1079.3 1426.5,1079.5 1428.1,1079.6 1429.7,1079.7 1431.3,1079.8 1432.9,1079.9 1434.4,1080.0 1436.0,1080.0 1437.6,1080.1 1439.2,1080.1 1440.8,1080.1 1442.4,1080.0 1444.0,1080.0 1445.6,1079.9 1447.2,1079.7 1448.7,1079.6 1450.3,1079.5 1451.9,1079.4 1453.5,1079.4 1455.1,1079.4 1456.7,1079.4 1458.3,1079.5 1459.8,1079.7 1461.4,1079.8 1463.0,1079.9 1464.6,1080.0 1466.2,1080.1 1467.8,1080.1 1469.4,1080.1 1471.0,1080.1 1472.6,1080.1 1474.1,1080.0 1475.7,1080.0 1477.3,1079.9 1478.9,1079.8 1480.5,1079.7 1482.1,1079.6 1483.7,1079.5 1485.2,1079.3 1486.8,1079.2 1488.4,1079.0 1490.0,1078.7 1491.6,1078.4 1493.2,1078.0 1494.8,1077.6 1496.4,1077.1 1497.9,1076.6 1499.5,1076.1 1501.1,1075.5 1502.7,1075.0 1504.3,1074.4 1505.9,1073.8 1507.5,1073.2 1509.1,1072.6 1510.7,1072.0 1512.2,1071.4 1513.8,1070.8 1515.4,1070.2 1517.0,1069.6 1518.6,1069.1 1520.2,1068.6 1521.8,1068.1 1523.3,1067.7 1524.9,1067.3 1526.5,1066.9 1528.1,1066.5 1529.7,1066.1 1531.3,1065.8 1532.9,1065.4 1534.5,1065.0 1536.0,1064.6 1537.6,1064.2 1539.2,1063.8 1540.8,1063.3 1542.4,1062.8 1544.0,1062.3 1545.6,1061.8 1547.2,1061.3 1548.8,1060.8 1550.3,1060.4 1551.9,1059.9 1553.5,1059.5 1555.1,1059.1 1556.7,1058.7 1558.3,1058.4 1559.9,1058.0 1561.5,1057.7 1563.0,1057.4 1564.6,1057.2 1566.2,1056.9 1567.8,1056.6 1569.4,1056.4 1571.0,1056.1 1572.6,1055.9 1574.1,1055.7 1575.7,1055.5 1577.3,1055.3 1578.9,1055.1 1580.5,1055.0 1582.1,1054.8 1583.7,1054.7 1585.3,1054.6 1586.8,1054.4 1588.4,1054.3 1590.0,1054.1 1591.6,1054.0 1593.2,1053.8 1594.8,1053.5 1596.4,1053.2 1598.0,1052.7 1599.5,1052.1 1601.1,1051.3 1602.7,1050.4 1604.3,1049.4 1605.9,1048.4 1607.5,1047.4 1609.1,1046.5 1610.7,1045.7 1612.2,1045.2 1613.8,1044.7 1615.4,1044.5 1617.0,1044.2 1618.6,1044.1 1620.2,1044.0 1621.8,1043.9 1623.4,1043.8 1625.0,1043.6 1626.5,1043.5 1628.1,1043.3 1629.7,1043.1 1631.3,1042.9 1632.9,1042.6 1634.5,1042.3 1636.1,1042.0 1637.7,1041.7 1639.2,1041.4 1640.8,1041.0 1642.4,1040.7 1644.0,1040.3 1645.6,1039.9 1647.2,1039.5 1648.8,1039.1 1650.4,1038.6 1651.9,1038.2 1653.5,1037.8 1655.1,1037.4 1656.7,1037.0 1658.3,1036.6 1659.9,1036.3 1661.5,1036.0 1663.0,1035.7 1664.6,1035.4 1666.2,1035.2 1667.8,1034.9 1669.4,1034.6 1671.0,1034.3 1672.6,1033.9 1674.2,1033.6 1675.8,1033.2 1677.3,1032.7 1678.9,1032.3 1680.5,1031.8 1682.1,1031.2 1683.7,1030.6 1685.3,1029.9 1686.9,1029.2 1688.5,1028.4 1690.0,1027.4 1691.6,1026.5 1693.2,1025.4 1694.8,1024.4 1696.4,1023.4 1698.0,1022.5 1699.6,1021.7 1701.2,1021.0 1702.7,1020.5 1704.3,1020.0 1705.9,1019.7 1707.5,1019.4 1709.1,1019.2 1710.7,1019.1 1712.3,1019.0 1713.9,1019.0 1715.4,1019.1 1717.0,1019.3 1718.6,1019.7 1720.2,1020.1 1721.8,1020.5 1723.4,1021.0 1725.0,1021.3 1726.5,1021.5 1728.1,1021.5 1729.7,1021.5 1731.3,1021.3 1732.9,1021.1 1734.5,1021.0 1736.1,1020.9 1737.7,1020.9 1739.2,1021.1 1740.8,1021.3 1742.4,1021.6 1744.0,1021.9 1745.6,1022.2 1747.2,1022.4 1748.8,1022.5 1750.4,1022.6 1752.0,1022.5 1753.5,1022.5 1755.1,1022.4 1756.7,1022.4 1758.3,1022.4 1759.9,1022.5 1761.5,1022.7 1763.1,1022.9 1764.6,1023.2 1766.2,1023.5 1767.8,1023.9 1769.4,1024.2 1771.0,1024.6 1772.6,1024.9 1774.2,1025.3 1775.8,1025.6 1777.4,1025.9 1778.9,1026.2 1780.5,1026.6 1782.1,1026.9 1783.7,1027.2 1785.3,1027.6 1786.9,1028.0 1788.5,1028.4 1790.1,1028.7 1791.6,1029.1 1793.2,1029.3 1794.8,1029.4 1796.4,1029.3 1798.0,1029.1 1799.6,1028.7 1801.2,1028.2 1802.7,1027.6 1804.3,1027.0 1805.9,1026.5 1807.5,1026.1 1809.1,1025.8 1810.7,1025.7 1812.3,1025.7 1813.9,1025.9 1815.5,1026.2 1817.0,1026.6 1818.6,1026.9 1820.2,1027.3 1821.8,1027.5 1823.4,1027.6 1825.0,1027.7 1826.6,1027.6 1828.1,1027.5 1829.7,1027.4 1831.3,1027.4 1832.9,1027.6 1834.5,1028.1 1836.1,1028.9 1837.7,1029.8 1839.3,1030.9 1840.8,1032.1 1842.4,1033.2 1844.0,1034.3 1845.6,1035.2 1847.2,1036.1 1848.8,1036.9 1850.4,1037.6 1852.0,1038.2 1853.5,1038.8 1855.1,1039.4 1856.7,1039.8 1858.3,1040.2 1859.9,1040.5 1861.5,1040.8 1863.1,1041.0 1864.7,1041.2 1866.2,1041.4 1867.8,1041.5 1869.4,1041.7 1871.0,1041.8 1872.6,1041.9 1874.2,1042.0 1875.8,1042.1 1877.4,1042.2 1878.9,1042.3 1880.5,1042.3 1882.1,1042.4 1883.7,1042.4 1885.3,1042.4 1886.9,1042.4 1888.5,1042.4 1890.1,1042.3 1891.6,1042.3 1893.2,1042.2 1894.8,1042.1 1896.4,1042.0 1898.0,1042.0 1899.6,1041.8 1901.2,1041.7 1902.8,1041.6 1904.4,1041.5 1905.9,1041.3 1907.5,1041.2 1909.1,1041.0 1910.7,1040.7 1912.3,1040.5 1913.9,1040.3 1915.5,1040.0 1917.0,1039.8 1918.6,1039.7 1920.2,1039.6 1921.8,1039.6 1923.4,1039.6 1925.0,1039.8 1926.6,1040.0 1928.2,1040.3 1929.8,1040.7 1931.3,1041.1 1932.9,1041.5 1934.5,1041.9 1936.1,1042.2 1937.7,1042.6 1939.3,1042.8 1940.9,1043.1 1942.5,1043.3 1944.0,1043.5 1945.6,1043.6 1947.2,1043.8 1948.8,1043.9 1950.4,1044.1 1952.0,1044.2 1953.6,1044.4 1955.1,1044.5 1956.7,1044.7 1958.3,1044.8 1959.9,1045.0 1961.5,1045.2 1963.1,1045.4 1964.7,1045.6 1966.3,1045.9 1967.9,1046.1 1969.4,1046.4 1971.0,1046.7 1972.6,1047.0 1974.2,1047.3 1975.8,1047.6 1977.4,1047.9 1979.0,1048.2 1980.6,1048.4 1982.1,1048.6 1983.7,1048.7 1985.3,1048.9 1986.9,1049.0 1988.5,1049.1 1990.1,1049.1 1991.7,1049.2 1993.2,1049.3 1994.8,1049.4 1996.4,1049.4 1998.0,1049.5 1999.6,1049.5 2001.2,1049.6 2002.8,1049.6 2004.4,1049.7 2006.0,1049.7 2007.5,1049.8 2009.1,1049.8 2010.7,1049.8 2012.3,1049.9 2013.9,1049.9 2015.5,1049.9 2017.1,1049.9 2018.6,1049.9 2020.2,1049.9 2021.8,1049.9 2023.4,1049.9 2025.0,1049.9 2026.6,1049.9 2028.2,1049.9 2029.8,1049.9 2031.4,1049.9 2032.9,1049.9 2034.5,1049.9 2036.1,1049.9 2037.7,1049.9 2039.3,1050.0 2040.9,1050.0 2042.5,1050.0 2044.1,1050.0 2045.6,1050.1 2047.2,1050.1 2048.8,1050.2 2050.4,1050.2 2052.0,1050.3 2053.6,1050.4 2055.2,1050.4 2056.8,1050.5 2058.3,1050.5 2059.9,1050.6 2061.5,1050.6 2063.1,1050.5 2064.7,1050.5 2066.3,1050.4 2067.9,1050.2 2069.4,1050.1 2071.0,1049.9 2072.6,1049.7 2074.2,1049.4 2075.8,1049.1 2077.4,1048.9 2079.0,1048.6 2080.6,1048.3 2082.2,1048.1 2083.7,1047.8 2085.3,1047.6 2086.9,1047.4 2088.5,1047.2 2090.1,1047.0 2091.7,1046.8 2093.3,1046.7 2094.9,1046.5 2096.4,1046.4 2098.0,1046.3 2099.6,1046.2 2101.2,1046.0 2102.8,1045.9 2104.4,1045.8 2106.0,1045.7 2107.6,1045.6 2109.1,1045.5 2110.7,1045.4 2112.3,1045.3 2113.9,1045.2 2115.5,1045.0 2117.1,1044.9 2118.7,1044.8 2120.2,1044.7 2121.8,1044.6 2123.4,1044.5 2125.0,1044.4 2126.6,1044.2 2128.2,1044.1 2129.8,1044.0 2131.4,1043.8 2132.9,1043.7 2134.5,1043.6 2136.1,1043.4 2137.7,1043.3 2139.3,1043.2 2140.9,1043.0 2142.5,1042.9 2144.1,1042.8 2145.6,1042.6 2147.2,1042.5 2148.8,1042.4 2150.4,1042.3 2152.0,1042.2 2153.6,1042.1 2155.2,1042.0 2156.8,1041.9 2158.4,1041.8 2159.9,1041.7 2161.5,1041.6 2163.1,1041.5 2164.7,1041.3 2166.3,1041.2 2167.9,1041.2 2169.5,1041.1 2171.1,1041.0 2172.6,1040.9 2174.2,1040.8 2175.8,1040.7 2177.4,1040.7 2179.0,1040.6 2180.6,1040.5 2182.2,1040.5 2183.8,1040.4 2185.3,1040.4 2186.9,1040.4 2188.5,1040.4 2190.1,1040.3 2191.7,1040.3 2193.3,1040.3 2194.9,1040.3 2196.4,1040.3 2198.0,1040.4 2199.6,1040.4 2201.2,1040.4 2202.8,1040.4 2204.4,1040.4 2206.0,1040.4 2207.6,1040.4 2209.1,1040.5 2210.7,1040.5 2212.3,1040.5 2213.9,1040.5 2215.5,1040.5 2217.1,1040.6 2218.7,1040.6 2220.3,1040.6 2221.9,1040.6 2223.4,1040.6 2225.0,1040.6 2226.6,1040.6 2228.2,1040.7 2229.8,1040.7 2231.4,1040.7 2233.0,1040.7 2234.6,1040.6 2236.1,1040.6 2237.7,1040.6 2239.3,1040.5 2240.9,1040.5 2242.5,1040.4 2244.1,1040.3 2245.7,1040.2 2247.2,1040.1 2248.8,1040.0 2250.4,1039.9 2252.0,1039.8 2253.6,1039.7 2255.2,1039.6 2256.8,1039.5 2258.4,1039.4 2259.9,1039.3 2261.5,1039.2 2263.1,1039.1 2264.7,1039.1 2266.3,1039.0 2267.9,1039.0 2269.5,1038.9 2271.1,1038.9 2272.6,1038.8 2274.2,1038.8 2275.8,1038.8 2277.4,1038.8 2279.0,1038.8 2280.6,1038.7 2282.2,1038.7 2283.8,1038.7 2285.4,1038.7 2286.9,1038.7 2288.5,1038.7 2290.1,1038.6 2291.7,1038.6 2293.3,1038.6 2294.9,1038.6 2296.5,1038.5 2298.1,1038.5 2299.6,1038.5 2301.2,1038.4 2302.8,1038.4 2304.4,1038.3 2306.0,1038.3 2307.6,1038.2 2309.2,1038.1 2310.8,1038.0 2312.3,1038.0 2313.9,1037.9 2315.5,1037.8 2317.1,1037.7 2318.7,1037.7 2320.3,1037.6 2321.9,1037.5 2323.4,1037.4 2325.0,1037.4 2326.6,1037.3 2328.2,1037.2 2329.8,1037.1 2331.4,1037.0 2333.0,1036.9 2334.6,1036.8 2336.1,1036.6 2337.7,1036.4 2339.3,1036.1 2340.9,1035.8 2342.5,1035.5 2344.1,1035.2 2345.7,1034.8 2347.3,1034.6 2348.9,1034.3 2350.4,1034.2 2352.0,1034.1 2353.6,1034.1 2355.2,1034.1 2356.8,1034.1 2358.4,1034.2 2360.0,1034.3 2361.6,1034.4 2363.1,1034.5 2364.7,1034.6 2366.3,1034.7 2367.9,1034.9 2369.5,1035.0 2371.1,1035.1 2372.7,1035.2 2374.2,1035.2 2375.8,1035.3 2377.4,1035.4 2379.0,1035.4 2380.6,1035.4 2382.2,1035.5 2383.8,1035.5 2385.4,1035.6 2386.9,1035.6 2388.5,1035.7 2390.1,1035.8 2391.7,1035.8 2393.3,1036.0 2394.9,1036.1 2396.5,1036.2 2398.1,1036.4 2399.7,1036.6 2401.2,1036.8 2402.8,1037.0 2404.4,1037.1 2406.0,1037.2" fill="none" stroke="#93938c" stroke-width="2.4" stroke-linejoin="round" stroke-linecap="butt"/>
<polyline points="501.0,1001.7 502.6,1001.9 504.2,1002.0 505.8,1002.2 507.4,1002.3 508.9,1002.5 510.5,1002.6 512.1,1002.7 513.7,1002.8 515.3,1002.8 516.9,1002.8 518.5,1002.8 520.0,1002.8 521.6,1002.7 523.2,1002.5 524.8,1002.4 526.4,1002.2 528.0,1002.0 529.6,1001.7 531.2,1001.5 532.8,1001.3 534.3,1001.1 535.9,1000.9 537.5,1000.8 539.1,1000.6 540.7,1000.5 542.3,1000.4 543.9,1000.3 545.5,1000.2 547.0,1000.1 548.6,1000.0 550.2,999.9 551.8,999.8 553.4,999.8 555.0,999.7 556.6,999.7 558.1,999.7 559.7,999.6 561.3,999.6 562.9,999.6 564.5,999.6 566.1,999.5 567.7,999.5 569.3,999.5 570.9,999.4 572.4,999.3 574.0,999.2 575.6,999.0 577.2,998.7 578.8,998.2 580.4,997.7 582.0,997.0 583.5,996.3 585.1,995.5 586.7,994.7 588.3,993.9 589.9,993.1 591.5,992.4 593.1,991.7 594.7,991.0 596.2,990.3 597.8,989.7 599.4,989.0 601.0,988.5 602.6,988.0 604.2,987.5 605.8,987.1 607.4,986.8 609.0,986.5 610.5,986.3 612.1,986.1 613.7,985.9 615.3,985.7 616.9,985.6 618.5,985.5 620.1,985.4 621.6,985.3 623.2,985.3 624.8,985.3 626.4,985.3 628.0,985.4 629.6,985.5 631.2,985.7 632.8,985.9 634.4,986.2 635.9,986.5 637.5,986.8 639.1,987.1 640.7,987.4 642.3,987.8 643.9,988.2 645.5,988.6 647.0,989.0 648.6,989.4 650.2,989.8 651.8,990.3 653.4,990.7 655.0,991.1 656.6,991.5 658.2,991.8 659.8,992.1 661.3,992.4 662.9,992.7 664.5,992.9 666.1,993.2 667.7,993.4 669.3,993.6 670.9,993.8 672.5,993.9 674.0,994.1 675.6,994.3 677.2,994.4 678.8,994.6 680.4,994.7 682.0,994.8 683.6,994.9 685.1,995.0 686.7,995.1 688.3,995.2 689.9,995.3 691.5,995.3 693.1,995.4 694.7,995.5 696.3,995.5 697.9,995.6 699.4,995.6 701.0,995.7 702.6,995.7 704.2,995.7 705.8,995.7 707.4,995.7 709.0,995.6 710.5,995.5 712.1,995.4 713.7,995.3 715.3,995.1 716.9,994.9 718.5,994.7 720.1,994.5 721.7,994.3 723.2,994.1 724.8,994.0 726.4,993.9 728.0,993.8 729.6,993.8 731.2,993.8 732.8,993.9 734.4,994.0 736.0,994.1 737.5,994.2 739.1,994.4 740.7,994.5 742.3,994.6 743.9,994.7 745.5,994.8 747.1,994.9 748.6,994.9 750.2,994.9 751.8,994.9 753.4,994.8 755.0,994.7 756.6,994.5 758.2,994.3 759.8,994.1 761.4,993.9 762.9,993.7 764.5,993.5 766.1,993.4 767.7,993.2 769.3,993.1 770.9,993.1 772.5,993.0 774.0,993.0 775.6,993.0 777.2,993.0 778.8,993.1 780.4,993.1 782.0,993.1 783.6,993.2 785.2,993.2 786.8,993.3 788.3,993.3 789.9,993.4 791.5,993.5 793.1,993.5 794.7,993.6 796.3,993.7 797.9,993.8 799.5,994.0 801.0,994.1 802.6,994.3 804.2,994.5 805.8,994.6 807.4,994.8 809.0,995.0 810.6,995.2 812.1,995.3 813.7,995.5 815.3,995.6 816.9,995.6 818.5,995.7 820.1,995.7 821.7,995.6 823.3,995.5 824.9,995.4 826.4,995.3 828.0,995.2 829.6,995.0 831.2,994.9 832.8,994.8 834.4,994.6 836.0,994.6 837.5,994.5 839.1,994.5 840.7,994.4 842.3,994.5 843.9,994.5 845.5,994.5 847.1,994.6 848.7,994.7 850.2,994.7 851.8,994.8 853.4,994.9 855.0,995.0 856.6,995.2 858.2,995.4 859.8,995.6 861.4,995.8 863.0,996.1 864.5,996.4 866.1,996.7 867.7,997.1 869.3,997.5 870.9,997.8 872.5,998.2 874.1,998.6 875.7,998.9 877.2,999.3 878.8,999.6 880.4,999.9 882.0,1000.2 883.6,1000.3 885.2,1000.4 886.8,1000.4 888.3,1000.3 889.9,1000.1 891.5,999.8 893.1,999.5 894.7,999.2 896.3,998.8 897.9,998.4 899.5,998.1 901.0,997.7 902.6,997.4 904.2,997.0 905.8,996.7 907.4,996.4 909.0,996.1 910.6,995.8 912.2,995.5 913.8,995.3 915.3,995.0 916.9,994.7 918.5,994.5 920.1,994.3 921.7,994.1 923.3,994.0 924.9,993.9 926.5,993.8 928.0,993.7 929.6,993.7 931.2,993.7 932.8,993.7 934.4,993.7 936.0,993.7 937.6,993.8 939.2,993.8 940.7,993.8 942.3,993.9 943.9,993.9 945.5,993.9 947.1,994.0 948.7,994.1 950.3,994.1 951.8,994.2 953.4,994.3 955.0,994.5 956.6,994.6 958.2,994.8 959.8,995.0 961.4,995.1 963.0,995.3 964.5,995.4 966.1,995.5 967.7,995.6 969.3,995.7 970.9,995.7 972.5,995.7 974.1,995.7 975.7,995.7 977.2,995.6 978.8,995.6 980.4,995.5 982.0,995.4 983.6,995.4 985.2,995.3 986.8,995.2 988.4,995.1 990.0,995.0 991.5,994.9 993.1,994.8 994.7,994.7 996.3,994.6 997.9,994.4 999.5,994.3 1001.1,994.2 1002.7,994.1 1004.2,994.0 1005.8,993.9 1007.4,993.7 1009.0,993.6 1010.6,993.4 1012.2,993.3 1013.8,993.2 1015.4,993.0 1016.9,992.9 1018.5,992.7 1020.1,992.6 1021.7,992.4 1023.3,992.3 1024.9,992.1 1026.5,992.0 1028.1,991.8 1029.6,991.7 1031.2,991.6 1032.8,991.4 1034.4,991.3 1036.0,991.2 1037.6,991.1 1039.2,990.9 1040.8,990.8 1042.3,990.7 1043.9,990.5 1045.5,990.4 1047.1,990.2 1048.7,990.1 1050.3,989.9 1051.9,989.7 1053.4,989.6 1055.0,989.4 1056.6,989.2 1058.2,989.1 1059.8,989.0 1061.4,988.9 1063.0,988.9 1064.6,988.9 1066.2,989.0 1067.7,989.1 1069.3,989.2 1070.9,989.4 1072.5,989.6 1074.1,989.9 1075.7,990.1 1077.3,990.3 1078.8,990.5 1080.4,990.7 1082.0,990.9 1083.6,991.0 1085.2,991.2 1086.8,991.3 1088.4,991.4 1090.0,991.4 1091.6,991.5 1093.1,991.6 1094.7,991.6 1096.3,991.7 1097.9,991.7 1099.5,991.8 1101.1,991.8 1102.7,991.8 1104.2,991.9 1105.8,991.9 1107.4,991.9 1109.0,991.9 1110.6,991.9 1112.2,991.9 1113.8,991.9 1115.4,991.9 1116.9,991.9 1118.5,991.9 1120.1,991.9 1121.7,991.9 1123.3,991.9 1124.9,991.9 1126.5,991.9 1128.1,991.9 1129.7,991.9 1131.2,991.9 1132.8,991.9 1134.4,991.8 1136.0,991.8 1137.6,991.7 1139.2,991.6 1140.8,991.5 1142.3,991.3 1143.9,991.1 1145.5,990.9 1147.1,990.7 1148.7,990.6 1150.3,990.4 1151.9,990.3 1153.5,990.2 1155.1,990.2 1156.6,990.1 1158.2,990.1 1159.8,990.1 1161.4,990.2 1163.0,990.2 1164.6,990.2 1166.2,990.2 1167.8,990.2 1169.3,990.3 1170.9,990.3 1172.5,990.3 1174.1,990.4 1175.7,990.4 1177.3,990.4 1178.9,990.5 1180.5,990.5 1182.0,990.6 1183.6,990.6 1185.2,990.7 1186.8,990.7 1188.4,990.8 1190.0,990.9 1191.6,991.0 1193.2,991.1 1194.7,991.3 1196.3,991.5 1197.9,991.7 1199.5,991.9 1201.1,992.1 1202.7,992.4 1204.3,992.6 1205.8,992.9 1207.4,993.2 1209.0,993.5 1210.6,993.7 1212.2,994.0 1213.8,994.3 1215.4,994.6 1217.0,994.8 1218.6,995.1 1220.1,995.4 1221.7,995.7 1223.3,996.0 1224.9,996.3 1226.5,996.6 1228.1,996.9 1229.7,997.2 1231.2,997.5 1232.8,997.9 1234.4,998.2 1236.0,998.5 1237.6,998.8 1239.2,999.1 1240.8,999.4 1242.4,999.7 1243.9,1000.0 1245.5,1000.3 1247.1,1000.6 1248.7,1000.9 1250.3,1001.2 1251.9,1001.5 1253.5,1001.8 1255.1,1002.1 1256.7,1002.4 1258.2,1002.7 1259.8,1002.9 1261.4,1003.2 1263.0,1003.4 1264.6,1003.7 1266.2,1003.8 1267.8,1004.0 1269.3,1004.2 1270.9,1004.3 1272.5,1004.4 1274.1,1004.5 1275.7,1004.6 1277.3,1004.6 1278.9,1004.7 1280.5,1004.8 1282.1,1004.8 1283.6,1004.9 1285.2,1004.9 1286.8,1004.9 1288.4,1005.0 1290.0,1005.0 1291.6,1005.0 1293.2,1005.0 1294.8,1005.0 1296.3,1004.9 1297.9,1004.9 1299.5,1004.8 1301.1,1004.7 1302.7,1004.5 1304.3,1004.4 1305.9,1004.2 1307.4,1004.0 1309.0,1003.7 1310.6,1003.5 1312.2,1003.2 1313.8,1002.9 1315.4,1002.5 1317.0,1002.1 1318.6,1001.7 1320.2,1001.2 1321.7,1000.8 1323.3,1000.3 1324.9,999.9 1326.5,999.5 1328.1,999.1 1329.7,998.7 1331.3,998.4 1332.8,998.0 1334.4,997.7 1336.0,997.4 1337.6,997.0 1339.2,996.7 1340.8,996.4 1342.4,996.1 1344.0,995.8 1345.6,995.5 1347.1,995.2 1348.7,994.9 1350.3,994.6 1351.9,994.3 1353.5,994.0 1355.1,993.6 1356.7,993.3 1358.2,993.0 1359.8,992.7 1361.4,992.4 1363.0,992.0 1364.6,991.7 1366.2,991.3 1367.8,990.9 1369.4,990.5 1371.0,990.0 1372.5,989.6 1374.1,989.3 1375.7,989.0 1377.3,988.9 1378.9,988.9 1380.5,989.0 1382.1,989.2 1383.7,989.4 1385.2,989.6 1386.8,989.7 1388.4,989.7 1390.0,989.7 1391.6,989.5 1393.2,989.3 1394.8,989.1 1396.3,988.8 1397.9,988.5 1399.5,988.2 1401.1,987.9 1402.7,987.5 1404.3,987.2 1405.9,986.8 1407.5,986.4 1409.1,986.0 1410.6,985.5 1412.2,985.0 1413.8,984.6 1415.4,984.0 1417.0,983.5 1418.6,982.9 1420.2,982.3 1421.8,981.7 1423.3,981.1 1424.9,980.6 1426.5,980.1 1428.1,979.6 1429.7,979.2 1431.3,978.9 1432.9,978.6 1434.4,978.4 1436.0,978.2 1437.6,978.0 1439.2,977.8 1440.8,977.7 1442.4,977.5 1444.0,977.4 1445.6,977.3 1447.2,977.1 1448.7,977.0 1450.3,976.8 1451.9,976.6 1453.5,976.5 1455.1,976.2 1456.7,976.0 1458.3,975.8 1459.8,975.6 1461.4,975.5 1463.0,975.4 1464.6,975.4 1466.2,975.4 1467.8,975.5 1469.4,975.7 1471.0,975.8 1472.6,976.0 1474.1,976.2 1475.7,976.3 1477.3,976.5 1478.9,976.6 1480.5,976.7 1482.1,976.7 1483.7,976.8 1485.2,976.9 1486.8,976.9 1488.4,977.0 1490.0,977.1 1491.6,977.1 1493.2,977.3 1494.8,977.4 1496.4,977.6 1497.9,977.9 1499.5,978.2 1501.1,978.6 1502.7,979.0 1504.3,979.4 1505.9,979.9 1507.5,980.3 1509.1,980.7 1510.7,981.0 1512.2,981.3 1513.8,981.5 1515.4,981.7 1517.0,981.8 1518.6,981.9 1520.2,982.0 1521.8,982.1 1523.3,982.1 1524.9,982.2 1526.5,982.2 1528.1,982.2 1529.7,982.2 1531.3,982.2 1532.9,982.2 1534.5,982.2 1536.0,982.2 1537.6,982.1 1539.2,982.1 1540.8,982.1 1542.4,982.0 1544.0,982.0 1545.6,981.9 1547.2,981.9 1548.8,981.8 1550.3,981.8 1551.9,981.7 1553.5,981.6 1555.1,981.5 1556.7,981.5 1558.3,981.3 1559.9,981.2 1561.5,981.1 1563.0,980.9 1564.6,980.8 1566.2,980.6 1567.8,980.4 1569.4,980.2 1571.0,980.0 1572.6,979.9 1574.1,979.7 1575.7,979.6 1577.3,979.4 1578.9,979.3 1580.5,979.2 1582.1,979.1 1583.7,979.0 1585.3,978.9 1586.8,978.9 1588.4,978.8 1590.0,978.7 1591.6,978.6 1593.2,978.6 1594.8,978.5 1596.4,978.4 1598.0,978.4 1599.5,978.3 1601.1,978.3 1602.7,978.2 1604.3,978.2 1605.9,978.2 1607.5,978.1 1609.1,978.1 1610.7,978.0 1612.2,977.9 1613.8,977.8 1615.4,977.7 1617.0,977.6 1618.6,977.5 1620.2,977.3 1621.8,977.2 1623.4,977.0 1625.0,976.8 1626.5,976.5 1628.1,976.2 1629.7,976.0 1631.3,975.7 1632.9,975.4 1634.5,975.1 1636.1,974.8 1637.7,974.6 1639.2,974.4 1640.8,974.2 1642.4,974.1 1644.0,974.0 1645.6,973.9 1647.2,973.9 1648.8,974.0 1650.4,974.1 1651.9,974.3 1653.5,974.6 1655.1,975.0 1656.7,975.4 1658.3,975.9 1659.9,976.4 1661.5,976.8 1663.0,977.2 1664.6,977.6 1666.2,978.0 1667.8,978.3 1669.4,978.6 1671.0,979.0 1672.6,979.3 1674.2,979.6 1675.8,980.0 1677.3,980.4 1678.9,980.9 1680.5,981.4 1682.1,981.9 1683.7,982.5 1685.3,983.0 1686.9,983.6 1688.5,984.2 1690.0,984.8 1691.6,985.4 1693.2,985.9 1694.8,986.5 1696.4,987.1 1698.0,987.6 1699.6,988.2 1701.2,988.8 1702.7,989.3 1704.3,989.8 1705.9,990.3 1707.5,990.8 1709.1,991.3 1710.7,991.8 1712.3,992.2 1713.9,992.6 1715.4,992.9 1717.0,993.1 1718.6,993.3 1720.2,993.3 1721.8,993.2 1723.4,993.1 1725.0,992.9 1726.5,992.8 1728.1,992.6 1729.7,992.6 1731.3,992.6 1732.9,992.6 1734.5,992.8 1736.1,993.0 1737.7,993.2 1739.2,993.4 1740.8,993.7 1742.4,993.9 1744.0,994.2 1745.6,994.4 1747.2,994.7 1748.8,994.9 1750.4,995.1 1752.0,995.4 1753.5,995.6 1755.1,995.8 1756.7,995.9 1758.3,996.1 1759.9,996.2 1761.5,996.4 1763.1,996.5 1764.6,996.6 1766.2,996.8 1767.8,996.9 1769.4,997.1 1771.0,997.3 1772.6,997.5 1774.2,997.7 1775.8,998.0 1777.4,998.2 1778.9,998.6 1780.5,998.9 1782.1,999.3 1783.7,999.7 1785.3,1000.2 1786.9,1000.7 1788.5,1001.2 1790.1,1001.8 1791.6,1002.3 1793.2,1002.8 1794.8,1003.2 1796.4,1003.6 1798.0,1004.0 1799.6,1004.3 1801.2,1004.6 1802.7,1004.9 1804.3,1005.2 1805.9,1005.4 1807.5,1005.6 1809.1,1005.8 1810.7,1006.0 1812.3,1006.2 1813.9,1006.3 1815.5,1006.3 1817.0,1006.3 1818.6,1006.3 1820.2,1006.2 1821.8,1006.1 1823.4,1005.9 1825.0,1005.7 1826.6,1005.5 1828.1,1005.3 1829.7,1005.0 1831.3,1004.7 1832.9,1004.5 1834.5,1004.2 1836.1,1004.0 1837.7,1003.8 1839.3,1003.6 1840.8,1003.4 1842.4,1003.2 1844.0,1003.0 1845.6,1002.9 1847.2,1002.7 1848.8,1002.6 1850.4,1002.4 1852.0,1002.3 1853.5,1002.2 1855.1,1002.1 1856.7,1002.0 1858.3,1002.0 1859.9,1001.9 1861.5,1001.9 1863.1,1001.9 1864.7,1001.9 1866.2,1002.0 1867.8,1002.0 1869.4,1002.1 1871.0,1002.1 1872.6,1002.2 1874.2,1002.3 1875.8,1002.3 1877.4,1002.4 1878.9,1002.5 1880.5,1002.7 1882.1,1002.8 1883.7,1003.0 1885.3,1003.2 1886.9,1003.4 1888.5,1003.7 1890.1,1004.1 1891.6,1004.5 1893.2,1005.0 1894.8,1005.5 1896.4,1006.1 1898.0,1006.6 1899.6,1007.1 1901.2,1007.6 1902.8,1008.0 1904.4,1008.4 1905.9,1008.8 1907.5,1009.1 1909.1,1009.3 1910.7,1009.6 1912.3,1009.8 1913.9,1010.0 1915.5,1010.1 1917.0,1010.3 1918.6,1010.5 1920.2,1010.6 1921.8,1010.8 1923.4,1010.9 1925.0,1011.1 1926.6,1011.2 1928.2,1011.3 1929.8,1011.5 1931.3,1011.7 1932.9,1011.8 1934.5,1012.0 1936.1,1012.1 1937.7,1012.3 1939.3,1012.5 1940.9,1012.6 1942.5,1012.8 1944.0,1012.9 1945.6,1013.1 1947.2,1013.2 1948.8,1013.3 1950.4,1013.4 1952.0,1013.5 1953.6,1013.5 1955.1,1013.6 1956.7,1013.6 1958.3,1013.6 1959.9,1013.6 1961.5,1013.6 1963.1,1013.6 1964.7,1013.6 1966.3,1013.6 1967.9,1013.6 1969.4,1013.6 1971.0,1013.6 1972.6,1013.6 1974.2,1013.6 1975.8,1013.6 1977.4,1013.6 1979.0,1013.6 1980.6,1013.6 1982.1,1013.6 1983.7,1013.6 1985.3,1013.6 1986.9,1013.5 1988.5,1013.5 1990.1,1013.4 1991.7,1013.3 1993.2,1013.2 1994.8,1013.1 1996.4,1013.0 1998.0,1012.9 1999.6,1012.8 2001.2,1012.6 2002.8,1012.5 2004.4,1012.4 2006.0,1012.3 2007.5,1012.2 2009.1,1012.1 2010.7,1012.0 2012.3,1011.9 2013.9,1011.8 2015.5,1011.8 2017.1,1011.7 2018.6,1011.7 2020.2,1011.6 2021.8,1011.6 2023.4,1011.6 2025.0,1011.5 2026.6,1011.5 2028.2,1011.5 2029.8,1011.4 2031.4,1011.4 2032.9,1011.4 2034.5,1011.3 2036.1,1011.3 2037.7,1011.2 2039.3,1011.2 2040.9,1011.1 2042.5,1011.0 2044.1,1010.8 2045.6,1010.7 2047.2,1010.5 2048.8,1010.3 2050.4,1010.1 2052.0,1009.8 2053.6,1009.6 2055.2,1009.3 2056.8,1009.0 2058.3,1008.7 2059.9,1008.4 2061.5,1008.1 2063.1,1007.8 2064.7,1007.5 2066.3,1007.2 2067.9,1006.9 2069.4,1006.6 2071.0,1006.3 2072.6,1006.0 2074.2,1005.7 2075.8,1005.3 2077.4,1005.0 2079.0,1004.7 2080.6,1004.4 2082.2,1004.1 2083.7,1003.8 2085.3,1003.5 2086.9,1003.2 2088.5,1003.0 2090.1,1002.7 2091.7,1002.5 2093.3,1002.2 2094.9,1002.0 2096.4,1001.8 2098.0,1001.6 2099.6,1001.4 2101.2,1001.2 2102.8,1001.0 2104.4,1000.8 2106.0,1000.7 2107.6,1000.6 2109.1,1000.5 2110.7,1000.4 2112.3,1000.3 2113.9,1000.3 2115.5,1000.2 2117.1,1000.2 2118.7,1000.1 2120.2,1000.1 2121.8,1000.0 2123.4,1000.0 2125.0,1000.0 2126.6,999.9 2128.2,999.9 2129.8,999.8 2131.4,999.8 2132.9,999.7 2134.5,999.6 2136.1,999.6 2137.7,999.5 2139.3,999.4 2140.9,999.2 2142.5,999.1 2144.1,999.0 2145.6,998.9 2147.2,998.8 2148.8,998.7 2150.4,998.6 2152.0,998.5 2153.6,998.4 2155.2,998.3 2156.8,998.3 2158.4,998.2 2159.9,998.2 2161.5,998.2 2163.1,998.1 2164.7,998.1 2166.3,998.1 2167.9,998.0 2169.5,998.0 2171.1,998.0 2172.6,998.0 2174.2,998.0 2175.8,998.0 2177.4,998.0 2179.0,998.0 2180.6,998.0 2182.2,998.0 2183.8,998.1 2185.3,998.1 2186.9,998.2 2188.5,998.3 2190.1,998.4 2191.7,998.5 2193.3,998.6 2194.9,998.7 2196.4,998.8 2198.0,998.9 2199.6,999.0 2201.2,999.1 2202.8,999.2 2204.4,999.2 2206.0,999.3 2207.6,999.3 2209.1,999.3 2210.7,999.3 2212.3,999.2 2213.9,999.2 2215.5,999.1 2217.1,999.1 2218.7,999.0 2220.3,998.9 2221.9,998.9 2223.4,998.8 2225.0,998.8 2226.6,998.7 2228.2,998.8 2229.8,998.8 2231.4,998.9 2233.0,999.0 2234.6,999.1 2236.1,999.2 2237.7,999.3 2239.3,999.5 2240.9,999.6 2242.5,999.7 2244.1,999.8 2245.7,999.9 2247.2,999.9 2248.8,999.9 2250.4,999.9 2252.0,999.8 2253.6,999.8 2255.2,999.6 2256.8,999.5 2258.4,999.4 2259.9,999.2 2261.5,999.1 2263.1,998.9 2264.7,998.8 2266.3,998.6 2267.9,998.5 2269.5,998.5 2271.1,998.4 2272.6,998.4 2274.2,998.4 2275.8,998.4 2277.4,998.5 2279.0,998.5 2280.6,998.6 2282.2,998.7 2283.8,998.9 2285.4,999.0 2286.9,999.1 2288.5,999.2 2290.1,999.4 2291.7,999.5 2293.3,999.6 2294.9,999.8 2296.5,999.9 2298.1,1000.1 2299.6,1000.3 2301.2,1000.4 2302.8,1000.6 2304.4,1000.8 2306.0,1000.9 2307.6,1001.1 2309.2,1001.2 2310.8,1001.4 2312.3,1001.6 2313.9,1001.7 2315.5,1001.9 2317.1,1002.0 2318.7,1002.2 2320.3,1002.4 2321.9,1002.5 2323.4,1002.7 2325.0,1002.8 2326.6,1003.0 2328.2,1003.2 2329.8,1003.3 2331.4,1003.5 2333.0,1003.7 2334.6,1003.9 2336.1,1004.1 2337.7,1004.2 2339.3,1004.4 2340.9,1004.6 2342.5,1004.8 2344.1,1005.0 2345.7,1005.1 2347.3,1005.3 2348.9,1005.4 2350.4,1005.5 2352.0,1005.6 2353.6,1005.7 2355.2,1005.8 2356.8,1005.8 2358.4,1005.8 2360.0,1005.9 2361.6,1005.9 2363.1,1005.9 2364.7,1006.0 2366.3,1006.0 2367.9,1006.0 2369.5,1006.0 2371.1,1006.1 2372.7,1006.1 2374.2,1006.1 2375.8,1006.1 2377.4,1006.1 2379.0,1006.1 2380.6,1006.1 2382.2,1006.1 2383.8,1006.1 2385.4,1006.0 2386.9,1006.0 2388.5,1005.9 2390.1,1005.8 2391.7,1005.7 2393.3,1005.6 2394.9,1005.5 2396.5,1005.4 2398.1,1005.2 2399.7,1005.1 2401.2,1004.9 2402.8,1004.8 2404.4,1004.6 2406.0,1004.5" fill="none" stroke="#444444" stroke-width="2.4" stroke-linejoin="round" stroke-linecap="butt"/>
<polyline points="501.0,869.6 502.6,869.7 504.2,869.9 505.8,870.0 507.4,870.1 508.9,870.0 510.5,870.1 512.1,870.2 513.7,870.4 515.3,870.6 516.9,870.8 518.5,871.0 520.0,871.3 521.6,871.8 523.2,872.2 524.8,872.5 526.4,872.6 528.0,872.5 529.6,872.4 531.2,872.4 532.8,872.2 534.3,872.1 535.9,871.9 537.5,871.8 539.1,871.8 540.7,871.8 542.3,872.0 543.9,872.5 545.5,873.1 547.0,873.6 548.6,874.0 550.2,874.5 551.8,875.1 553.4,875.8 555.0,876.5 556.6,877.1 558.1,877.8 559.7,878.5 561.3,879.1 562.9,879.6 564.5,879.9 566.1,880.2 567.7,880.5 569.3,880.8 570.9,881.1 572.4,881.4 574.0,881.7 575.6,881.7 577.2,881.5 578.8,881.1 580.4,880.4 582.0,879.5 583.5,878.4 585.1,877.1 586.7,875.8 588.3,874.3 589.9,872.7 591.5,871.1 593.1,869.8 594.7,868.7 596.2,867.7 597.8,866.7 599.4,865.9 601.0,865.2 602.6,864.6 604.2,864.2 605.8,863.8 607.4,863.6 609.0,863.6 610.5,863.6 612.1,863.8 613.7,863.9 615.3,863.9 616.9,863.7 618.5,863.4 620.1,863.1 621.6,862.9 623.2,862.6 624.8,862.5 626.4,862.4 628.0,862.3 629.6,862.1 631.2,861.8 632.8,861.8 634.4,862.0 635.9,862.3 637.5,862.8 639.1,863.3 640.7,863.7 642.3,864.1 643.9,864.5 645.5,865.0 647.0,865.5 648.6,866.1 650.2,866.7 651.8,867.2 653.4,867.6 655.0,867.9 656.6,868.1 658.2,868.3 659.8,868.3 661.3,868.4 662.9,868.4 664.5,868.5 666.1,868.4 667.7,868.4 669.3,868.3 670.9,868.2 672.5,868.3 674.0,868.5 675.6,868.8 677.2,869.2 678.8,869.6 680.4,870.1 682.0,870.6 683.6,871.2 685.1,871.5 686.7,871.6 688.3,871.6 689.9,871.7 691.5,871.7 693.1,871.6 694.7,871.4 696.3,871.4 697.9,871.4 699.4,871.4 701.0,871.3 702.6,871.2 704.2,871.1 705.8,871.2 707.4,871.2 709.0,871.2 710.5,871.1 712.1,871.0 713.7,870.7 715.3,870.2 716.9,869.6 718.5,868.8 720.1,868.1 721.7,867.4 723.2,866.9 724.8,866.7 726.4,866.6 728.0,866.6 729.6,866.7 731.2,866.8 732.8,867.0 734.4,867.1 736.0,867.1 737.5,867.2 739.1,867.2 740.7,867.3 742.3,867.5 743.9,867.8 745.5,868.2 747.1,868.7 748.6,869.2 750.2,869.8 751.8,870.2 753.4,870.5 755.0,870.5 756.6,870.4 758.2,870.1 759.8,869.8 761.4,869.5 762.9,869.3 764.5,869.0 766.1,868.8 767.7,868.5 769.3,868.1 770.9,867.6 772.5,867.0 774.0,866.4 775.6,865.8 777.2,865.4 778.8,865.0 780.4,864.7 782.0,864.4 783.6,864.1 785.2,864.0 786.8,864.0 788.3,864.0 789.9,864.0 791.5,864.1 793.1,864.1 794.7,864.2 796.3,864.2 797.9,864.3 799.5,864.6 801.0,865.1 802.6,865.7 804.2,866.1 805.8,866.5 807.4,866.8 809.0,867.3 810.6,867.8 812.1,868.3 813.7,868.5 815.3,868.6 816.9,868.6 818.5,868.5 820.1,868.2 821.7,867.8 823.3,867.1 824.9,866.3 826.4,865.6 828.0,865.3 829.6,865.4 831.2,865.8 832.8,866.2 834.4,866.6 836.0,866.8 837.5,866.9 839.1,866.8 840.7,866.6 842.3,866.5 843.9,866.4 845.5,866.4 847.1,866.3 848.7,866.2 850.2,866.1 851.8,866.1 853.4,866.0 855.0,866.1 856.6,866.3 858.2,866.5 859.8,866.7 861.4,867.1 863.0,867.7 864.5,868.4 866.1,869.2 867.7,870.2 869.3,871.3 870.9,872.8 872.5,874.6 874.1,876.6 875.7,878.7 877.2,880.8 878.8,883.0 880.4,885.2 882.0,887.1 883.6,888.7 885.2,889.7 886.8,890.3 888.3,890.4 889.9,890.1 891.5,889.4 893.1,888.5 894.7,887.7 896.3,887.1 897.9,886.7 899.5,886.3 901.0,885.9 902.6,885.5 904.2,885.3 905.8,885.2 907.4,885.0 909.0,884.7 910.6,884.1 912.2,883.3 913.8,882.4 915.3,881.6 916.9,880.8 918.5,880.0 920.1,879.1 921.7,878.4 923.3,877.6 924.9,877.0 926.5,876.5 928.0,876.0 929.6,875.8 931.2,875.7 932.8,875.7 934.4,875.8 936.0,875.9 937.6,876.0 939.2,876.0 940.7,875.9 942.3,875.7 943.9,875.4 945.5,875.2 947.1,875.2 948.7,875.5 950.3,876.0 951.8,876.3 953.4,876.5 955.0,876.7 956.6,876.9 958.2,877.1 959.8,877.2 961.4,877.1 963.0,877.1 964.5,877.2 966.1,877.3 967.7,877.3 969.3,877.2 970.9,877.0 972.5,876.8 974.1,876.7 975.7,876.8 977.2,876.9 978.8,877.2 980.4,877.5 982.0,877.9 983.6,878.5 985.2,879.1 986.8,879.7 988.4,880.3 990.0,880.9 991.5,881.4 993.1,881.7 994.7,882.0 996.3,882.2 997.9,882.5 999.5,882.8 1001.1,883.1 1002.7,883.2 1004.2,883.2 1005.8,883.0 1007.4,882.8 1009.0,882.4 1010.6,882.0 1012.2,881.6 1013.8,881.2 1015.4,880.8 1016.9,880.4 1018.5,880.1 1020.1,879.9 1021.7,879.6 1023.3,879.2 1024.9,878.8 1026.5,878.4 1028.1,878.0 1029.6,877.7 1031.2,877.4 1032.8,877.1 1034.4,876.7 1036.0,876.3 1037.6,875.7 1039.2,875.1 1040.8,874.4 1042.3,873.7 1043.9,872.9 1045.5,872.2 1047.1,871.7 1048.7,871.2 1050.3,870.5 1051.9,869.8 1053.4,869.0 1055.0,868.3 1056.6,867.7 1058.2,867.3 1059.8,867.2 1061.4,867.1 1063.0,866.9 1064.6,866.8 1066.2,866.8 1067.7,866.9 1069.3,867.1 1070.9,867.3 1072.5,867.6 1074.1,867.8 1075.7,868.1 1077.3,868.3 1078.8,868.4 1080.4,868.6 1082.0,868.8 1083.6,869.1 1085.2,869.4 1086.8,869.7 1088.4,869.9 1090.0,870.2 1091.6,870.4 1093.1,870.6 1094.7,870.8 1096.3,871.1 1097.9,871.2 1099.5,871.1 1101.1,871.0 1102.7,870.9 1104.2,870.9 1105.8,871.0 1107.4,871.0 1109.0,870.9 1110.6,870.8 1112.2,870.8 1113.8,870.8 1115.4,870.9 1116.9,870.9 1118.5,871.0 1120.1,871.0 1121.7,871.0 1123.3,871.1 1124.9,871.1 1126.5,871.2 1128.1,871.3 1129.7,871.4 1131.2,871.5 1132.8,871.6 1134.4,871.6 1136.0,871.7 1137.6,871.7 1139.2,871.6 1140.8,871.4 1142.3,871.1 1143.9,870.4 1145.5,869.5 1147.1,868.5 1148.7,867.6 1150.3,866.8 1151.9,866.2 1153.5,865.7 1155.1,865.4 1156.6,865.1 1158.2,865.0 1159.8,864.9 1161.4,864.9 1163.0,864.8 1164.6,864.6 1166.2,864.5 1167.8,864.3 1169.3,864.2 1170.9,864.1 1172.5,864.2 1174.1,864.3 1175.7,864.3 1177.3,864.2 1178.9,864.0 1180.5,863.8 1182.0,863.6 1183.6,863.5 1185.2,863.3 1186.8,863.1 1188.4,863.0 1190.0,862.9 1191.6,862.8 1193.2,862.8 1194.7,862.7 1196.3,862.5 1197.9,862.4 1199.5,862.3 1201.1,862.4 1202.7,862.4 1204.3,862.3 1205.8,862.2 1207.4,862.1 1209.0,862.1 1210.6,862.2 1212.2,862.2 1213.8,862.3 1215.4,862.4 1217.0,862.5 1218.6,862.8 1220.1,863.1 1221.7,863.3 1223.3,863.4 1224.9,863.5 1226.5,863.6 1228.1,863.7 1229.7,864.0 1231.2,864.5 1232.8,865.0 1234.4,865.5 1236.0,866.1 1237.6,866.6 1239.2,866.8 1240.8,866.9 1242.4,866.9 1243.9,866.9 1245.5,866.8 1247.1,866.8 1248.7,866.8 1250.3,866.8 1251.9,866.9 1253.5,867.0 1255.1,867.0 1256.7,866.9 1258.2,866.8 1259.8,866.6 1261.4,866.6 1263.0,866.7 1264.6,866.7 1266.2,866.7 1267.8,866.5 1269.3,866.2 1270.9,865.9 1272.5,866.0 1274.1,866.5 1275.7,867.4 1277.3,868.3 1278.9,868.9 1280.5,869.2 1282.1,869.2 1283.6,869.4 1285.2,869.7 1286.8,870.0 1288.4,870.3 1290.0,870.5 1291.6,870.7 1293.2,870.9 1294.8,871.0 1296.3,871.2 1297.9,871.3 1299.5,871.2 1301.1,871.1 1302.7,871.1 1304.3,871.4 1305.9,872.2 1307.4,873.1 1309.0,873.8 1310.6,874.2 1312.2,874.2 1313.8,873.8 1315.4,873.2 1317.0,872.5 1318.6,871.8 1320.2,871.3 1321.7,870.9 1323.3,870.4 1324.9,869.7 1326.5,869.2 1328.1,869.0 1329.7,868.7 1331.3,868.5 1332.8,869.0 1334.4,870.1 1336.0,870.9 1337.6,871.0 1339.2,870.5 1340.8,870.0 1342.4,869.5 1344.0,868.7 1345.6,867.8 1347.1,867.1 1348.7,866.7 1350.3,866.5 1351.9,866.4 1353.5,866.5 1355.1,866.7 1356.7,866.8 1358.2,866.9 1359.8,867.3 1361.4,867.7 1363.0,867.6 1364.6,866.6 1366.2,865.2 1367.8,864.3 1369.4,864.1 1371.0,864.0 1372.5,863.4 1374.1,862.0 1375.7,860.2 1377.3,858.9 1378.9,858.4 1380.5,859.1 1382.1,860.7 1383.7,862.4 1385.2,863.3 1386.8,863.3 1388.4,863.2 1390.0,863.2 1391.6,863.2 1393.2,862.9 1394.8,862.3 1396.3,861.1 1397.9,859.4 1399.5,857.7 1401.1,856.9 1402.7,856.9 1404.3,857.1 1405.9,857.4 1407.5,857.4 1409.1,857.3 1410.6,857.0 1412.2,856.2 1413.8,854.6 1415.4,852.5 1417.0,850.7 1418.6,849.3 1420.2,848.0 1421.8,846.7 1423.3,845.6 1424.9,844.6 1426.5,843.8 1428.1,843.1 1429.7,842.6 1431.3,842.3 1432.9,842.3 1434.4,842.6 1436.0,842.9 1437.6,842.8 1439.2,842.4 1440.8,842.4 1442.4,842.8 1444.0,843.3 1445.6,843.0 1447.2,841.8 1448.7,840.2 1450.3,838.4 1451.9,836.7 1453.5,835.3 1455.1,834.6 1456.7,834.3 1458.3,833.9 1459.8,833.3 1461.4,832.7 1463.0,832.4 1464.6,832.4 1466.2,832.5 1467.8,832.7 1469.4,833.0 1471.0,833.3 1472.6,833.0 1474.1,831.9 1475.7,830.6 1477.3,829.8 1478.9,829.6 1480.5,829.6 1482.1,829.2 1483.7,828.2 1485.2,826.7 1486.8,825.0 1488.4,823.4 1490.0,822.0 1491.6,821.2 1493.2,821.0 1494.8,821.1 1496.4,821.3 1497.9,821.5 1499.5,821.8 1501.1,822.3 1502.7,822.8 1504.3,823.2 1505.9,823.3 1507.5,823.4 1509.1,823.4 1510.7,823.4 1512.2,823.0 1513.8,822.3 1515.4,821.7 1517.0,821.2 1518.6,820.5 1520.2,819.4 1521.8,818.3 1523.3,817.5 1524.9,816.8 1526.5,816.1 1528.1,815.2 1529.7,814.2 1531.3,813.0 1532.9,811.9 1534.5,811.2 1536.0,810.9 1537.6,810.7 1539.2,810.1 1540.8,809.2 1542.4,808.0 1544.0,806.9 1545.6,805.9 1547.2,805.0 1548.8,804.2 1550.3,803.4 1551.9,802.7 1553.5,802.1 1555.1,801.3 1556.7,800.7 1558.3,800.6 1559.9,801.0 1561.5,801.6 1563.0,802.3 1564.6,802.8 1566.2,802.8 1567.8,802.3 1569.4,801.3 1571.0,800.1 1572.6,799.0 1574.1,798.3 1575.7,797.8 1577.3,797.4 1578.9,797.0 1580.5,796.2 1582.1,795.4 1583.7,795.2 1585.3,795.6 1586.8,796.3 1588.4,796.7 1590.0,796.8 1591.6,796.6 1593.2,796.3 1594.8,796.1 1596.4,796.0 1598.0,795.7 1599.5,795.0 1601.1,794.0 1602.7,793.0 1604.3,792.0 1605.9,790.8 1607.5,789.4 1609.1,788.0 1610.7,787.1 1612.2,786.9 1613.8,786.8 1615.4,786.5 1617.0,786.1 1618.6,785.8 1620.2,785.8 1621.8,786.3 1623.4,787.2 1625.0,787.9 1626.5,788.0 1628.1,787.7 1629.7,787.4 1631.3,786.9 1632.9,786.2 1634.5,785.3 1636.1,784.3 1637.7,783.4 1639.2,782.5 1640.8,781.4 1642.4,780.2 1644.0,779.2 1645.6,778.8 1647.2,778.8 1648.8,778.6 1650.4,778.0 1651.9,777.5 1653.5,777.2 1655.1,777.3 1656.7,777.7 1658.3,778.3 1659.9,778.8 1661.5,779.1 1663.0,779.1 1664.6,778.9 1666.2,779.1 1667.8,779.6 1669.4,779.7 1671.0,778.9 1672.6,777.7 1674.2,776.6 1675.8,775.7 1677.3,775.0 1678.9,774.5 1680.5,774.2 1682.1,773.8 1683.7,773.2 1685.3,772.2 1686.9,771.3 1688.5,770.5 1690.0,769.8 1691.6,769.2 1693.2,768.8 1694.8,768.7 1696.4,768.8 1698.0,768.8 1699.6,768.3 1701.2,767.4 1702.7,766.5 1704.3,765.8 1705.9,764.7 1707.5,763.5 1709.1,762.6 1710.7,762.3 1712.3,762.4 1713.9,762.8 1715.4,763.1 1717.0,763.1 1718.6,763.0 1720.2,762.9 1721.8,762.4 1723.4,761.2 1725.0,760.2 1726.5,759.8 1728.1,760.0 1729.7,760.0 1731.3,759.5 1732.9,759.0 1734.5,758.8 1736.1,758.8 1737.7,758.9 1739.2,759.4 1740.8,760.5 1742.4,761.4 1744.0,761.9 1745.6,762.4 1747.2,763.1 1748.8,763.9 1750.4,764.4 1752.0,764.9 1753.5,765.5 1755.1,766.3 1756.7,767.2 1758.3,768.0 1759.9,768.8 1761.5,769.3 1763.1,769.8 1764.6,770.2 1766.2,770.6 1767.8,770.5 1769.4,769.8 1771.0,768.8 1772.6,768.0 1774.2,767.5 1775.8,767.6 1777.4,768.0 1778.9,768.4 1780.5,768.7 1782.1,768.9 1783.7,769.3 1785.3,769.8 1786.9,770.7 1788.5,772.3 1790.1,774.6 1791.6,776.9 1793.2,779.1 1794.8,781.0 1796.4,782.2 1798.0,782.6 1799.6,782.4 1801.2,782.2 1802.7,782.4 1804.3,783.2 1805.9,784.2 1807.5,785.1 1809.1,785.7 1810.7,785.8 1812.3,785.5 1813.9,784.7 1815.5,784.3 1817.0,784.9 1818.6,786.5 1820.2,788.3 1821.8,789.3 1823.4,789.4 1825.0,789.5 1826.6,789.8 1828.1,789.7 1829.7,789.0 1831.3,788.0 1832.9,787.6 1834.5,787.5 1836.1,787.5 1837.7,787.7 1839.3,788.3 1840.8,789.3 1842.4,790.4 1844.0,791.3 1845.6,791.9 1847.2,792.7 1848.8,793.7 1850.4,794.9 1852.0,796.0 1853.5,797.1 1855.1,798.5 1856.7,799.7 1858.3,800.3 1859.9,800.5 1861.5,800.7 1863.1,801.6 1864.7,802.7 1866.2,803.7 1867.8,804.3 1869.4,804.5 1871.0,804.4 1872.6,804.3 1874.2,804.8 1875.8,805.9 1877.4,806.8 1878.9,807.2 1880.5,806.9 1882.1,806.6 1883.7,806.3 1885.3,806.3 1886.9,806.7 1888.5,807.3 1890.1,807.9 1891.6,808.2 1893.2,808.5 1894.8,809.3 1896.4,810.4 1898.0,811.5 1899.6,812.6 1901.2,813.4 1902.8,814.1 1904.4,814.7 1905.9,815.2 1907.5,815.4 1909.1,815.2 1910.7,814.8 1912.3,814.3 1913.9,813.9 1915.5,813.5 1917.0,813.3 1918.6,813.2 1920.2,813.4 1921.8,813.7 1923.4,813.9 1925.0,814.0 1926.6,814.2 1928.2,814.6 1929.8,815.4 1931.3,816.3 1932.9,817.2 1934.5,817.9 1936.1,818.7 1937.7,819.6 1939.3,820.7 1940.9,821.8 1942.5,822.8 1944.0,823.6 1945.6,824.2 1947.2,824.8 1948.8,825.3 1950.4,825.8 1952.0,826.2 1953.6,826.4 1955.1,826.5 1956.7,826.7 1958.3,827.0 1959.9,827.4 1961.5,827.8 1963.1,828.1 1964.7,828.4 1966.3,828.9 1967.9,829.5 1969.4,830.4 1971.0,831.3 1972.6,832.2 1974.2,833.2 1975.8,834.0 1977.4,834.8 1979.0,835.6 1980.6,836.4 1982.1,837.0 1983.7,837.4 1985.3,837.6 1986.9,837.8 1988.5,837.9 1990.1,838.1 1991.7,838.3 1993.2,838.5 1994.8,838.8 1996.4,839.1 1998.0,839.3 1999.6,839.5 2001.2,839.7 2002.8,839.9 2004.4,840.3 2006.0,840.6 2007.5,841.0 2009.1,841.3 2010.7,841.7 2012.3,842.1 2013.9,842.5 2015.5,842.9 2017.1,843.1 2018.6,843.3 2020.2,843.6 2021.8,844.0 2023.4,844.5 2025.0,845.1 2026.6,845.8 2028.2,846.3 2029.8,846.9 2031.4,847.4 2032.9,847.8 2034.5,848.3 2036.1,848.8 2037.7,849.3 2039.3,849.7 2040.9,850.1 2042.5,850.4 2044.1,850.6 2045.6,851.0 2047.2,851.3 2048.8,851.6 2050.4,851.7 2052.0,851.9 2053.6,852.2 2055.2,852.7 2056.8,853.1 2058.3,853.4 2059.9,853.7 2061.5,854.1 2063.1,854.5 2064.7,855.0 2066.3,855.5 2067.9,856.1 2069.4,856.7 2071.0,857.1 2072.6,857.4 2074.2,857.5 2075.8,857.4 2077.4,857.1 2079.0,856.7 2080.6,856.3 2082.2,856.0 2083.7,855.7 2085.3,855.3 2086.9,855.0 2088.5,854.7 2090.1,854.5 2091.7,854.5 2093.3,854.5 2094.9,854.6 2096.4,854.8 2098.0,855.1 2099.6,855.5 2101.2,855.8 2102.8,855.9 2104.4,855.8 2106.0,855.7 2107.6,855.7 2109.1,855.8 2110.7,856.3 2112.3,857.2 2113.9,858.4 2115.5,859.8 2117.1,861.3 2118.7,862.7 2120.2,863.9 2121.8,865.0 2123.4,865.9 2125.0,866.6 2126.6,867.0 2128.2,867.3 2129.8,867.5 2131.4,867.5 2132.9,867.4 2134.5,867.1 2136.1,867.0 2137.7,867.0 2139.3,867.2 2140.9,867.5 2142.5,867.6 2144.1,867.5 2145.6,867.5 2147.2,867.5 2148.8,867.5 2150.4,867.6 2152.0,867.9 2153.6,868.1 2155.2,868.4 2156.8,868.4 2158.4,868.4 2159.9,868.5 2161.5,868.8 2163.1,869.1 2164.7,869.4 2166.3,869.7 2167.9,869.8 2169.5,870.0 2171.1,869.9 2172.6,869.9 2174.2,869.8 2175.8,869.9 2177.4,870.0 2179.0,870.1 2180.6,870.3 2182.2,870.6 2183.8,870.9 2185.3,871.1 2186.9,871.2 2188.5,871.2 2190.1,871.1 2191.7,870.9 2193.3,870.8 2194.9,870.9 2196.4,871.0 2198.0,871.0 2199.6,870.9 2201.2,870.7 2202.8,870.6 2204.4,870.5 2206.0,870.4 2207.6,870.4 2209.1,870.5 2210.7,870.5 2212.3,870.5 2213.9,870.3 2215.5,869.8 2217.1,869.3 2218.7,868.7 2220.3,868.1 2221.9,867.4 2223.4,866.7 2225.0,866.2 2226.6,865.8 2228.2,865.5 2229.8,865.4 2231.4,865.5 2233.0,865.7 2234.6,865.9 2236.1,866.1 2237.7,866.4 2239.3,866.6 2240.9,866.7 2242.5,866.9 2244.1,867.1 2245.7,867.3 2247.2,867.3 2248.8,866.9 2250.4,866.6 2252.0,866.4 2253.6,866.3 2255.2,866.2 2256.8,866.0 2258.4,865.7 2259.9,865.4 2261.5,864.9 2263.1,864.2 2264.7,863.3 2266.3,862.4 2267.9,861.5 2269.5,860.8 2271.1,860.2 2272.6,859.8 2274.2,859.7 2275.8,859.8 2277.4,860.2 2279.0,860.5 2280.6,860.8 2282.2,860.8 2283.8,860.6 2285.4,860.2 2286.9,859.7 2288.5,859.4 2290.1,859.3 2291.7,859.6 2293.3,860.3 2294.9,861.3 2296.5,862.4 2298.1,863.4 2299.6,864.2 2301.2,864.9 2302.8,865.5 2304.4,866.0 2306.0,866.5 2307.6,866.9 2309.2,867.0 2310.8,867.0 2312.3,867.1 2313.9,867.2 2315.5,867.4 2317.1,867.6 2318.7,867.7 2320.3,868.0 2321.9,868.5 2323.4,869.0 2325.0,869.5 2326.6,869.9 2328.2,870.3 2329.8,870.6 2331.4,870.9 2333.0,871.2 2334.6,871.5 2336.1,871.8 2337.7,872.1 2339.3,872.4 2340.9,872.5 2342.5,872.5 2344.1,872.4 2345.7,872.6 2347.3,873.0 2348.9,873.5 2350.4,874.0 2352.0,874.4 2353.6,874.7 2355.2,875.0 2356.8,875.4 2358.4,875.7 2360.0,875.9 2361.6,876.0 2363.1,876.1 2364.7,876.4 2366.3,876.8 2367.9,877.2 2369.5,877.6 2371.1,877.8 2372.7,878.0 2374.2,878.5 2375.8,879.2 2377.4,880.1 2379.0,880.9 2380.6,881.5 2382.2,882.2 2383.8,882.9 2385.4,883.5 2386.9,884.0 2388.5,884.3 2390.1,884.6 2391.7,884.9 2393.3,885.2 2394.9,885.4 2396.5,885.4 2398.1,885.3 2399.7,885.0 2401.2,884.7 2402.8,884.3 2404.4,884.0 2406.0,883.8" fill="none" stroke="#c4194f" stroke-width="2.3" stroke-linejoin="round" stroke-linecap="butt"/>
<polyline points="501.0,805.3 502.6,805.5 504.2,805.7 505.8,805.8 507.4,806.0 508.9,806.2 510.5,806.5 512.1,806.8 513.7,807.1 515.3,807.4 516.9,807.6 518.5,807.9 520.0,808.1 521.6,808.2 523.2,808.2 524.8,808.2 526.4,808.1 528.0,808.1 529.6,808.2 531.2,808.3 532.8,808.5 534.3,808.6 535.9,808.7 537.5,808.7 539.1,808.8 540.7,809.0 542.3,809.4 543.9,809.8 545.5,810.2 547.0,810.6 548.6,811.0 550.2,811.5 551.8,812.1 553.4,812.6 555.0,813.2 556.6,813.6 558.1,814.0 559.7,814.5 561.3,814.9 562.9,815.4 564.5,815.9 566.1,816.3 567.7,816.7 569.3,817.0 570.9,817.1 572.4,817.1 574.0,817.0 575.6,817.0 577.2,817.0 578.8,816.9 580.4,816.6 582.0,816.2 583.5,815.7 585.1,815.2 586.7,814.7 588.3,814.2 589.9,813.7 591.5,813.1 593.1,812.5 594.7,812.0 596.2,811.6 597.8,811.2 599.4,810.8 601.0,810.3 602.6,809.9 604.2,809.6 605.8,809.4 607.4,809.3 609.0,809.1 610.5,809.0 612.1,808.8 613.7,808.7 615.3,808.5 616.9,808.3 618.5,808.1 620.1,807.8 621.6,807.6 623.2,807.3 624.8,807.0 626.4,806.6 628.0,806.2 629.6,805.8 631.2,805.4 632.8,805.3 634.4,805.3 635.9,805.4 637.5,805.5 639.1,805.8 640.7,806.2 642.3,806.6 643.9,806.9 645.5,807.3 647.0,807.7 648.6,808.2 650.2,808.6 651.8,809.1 653.4,809.5 655.0,809.9 656.6,810.3 658.2,810.6 659.8,810.7 661.3,810.7 662.9,810.8 664.5,810.8 666.1,810.7 667.7,810.5 669.3,810.4 670.9,810.2 672.5,810.2 674.0,810.3 675.6,810.4 677.2,810.7 678.8,811.0 680.4,811.5 682.0,811.8 683.6,812.0 685.1,812.1 686.7,812.2 688.3,812.3 689.9,812.4 691.5,812.5 693.1,812.4 694.7,812.4 696.3,812.4 697.9,812.4 699.4,812.4 701.0,812.4 702.6,812.5 704.2,812.5 705.8,812.6 707.4,812.6 709.0,812.5 710.5,812.5 712.1,812.4 713.7,812.3 715.3,812.1 716.9,811.8 718.5,811.6 720.1,811.6 721.7,811.5 723.2,811.4 724.8,811.3 726.4,811.1 728.0,811.1 729.6,811.1 731.2,811.1 732.8,811.1 734.4,811.2 736.0,811.2 737.5,811.3 739.1,811.5 740.7,811.7 742.3,811.8 743.9,811.9 745.5,811.9 747.1,811.8 748.6,811.8 750.2,811.8 751.8,811.8 753.4,811.7 755.0,811.7 756.6,811.6 758.2,811.5 759.8,811.4 761.4,811.3 762.9,811.2 764.5,811.1 766.1,811.0 767.7,810.9 769.3,810.6 770.9,810.3 772.5,809.8 774.0,809.4 775.6,809.0 777.2,808.8 778.8,808.6 780.4,808.5 782.0,808.4 783.6,808.3 785.2,808.3 786.8,808.3 788.3,808.4 789.9,808.5 791.5,808.6 793.1,808.6 794.7,808.5 796.3,808.5 797.9,808.6 799.5,808.8 801.0,809.1 802.6,809.4 804.2,809.6 805.8,809.7 807.4,809.7 809.0,809.6 810.6,809.6 812.1,809.6 813.7,809.6 815.3,809.6 816.9,809.5 818.5,809.4 820.1,809.2 821.7,808.9 823.3,808.5 824.9,808.2 826.4,808.0 828.0,807.7 829.6,807.5 831.2,807.3 832.8,807.2 834.4,807.3 836.0,807.4 837.5,807.5 839.1,807.5 840.7,807.4 842.3,807.2 843.9,806.8 845.5,806.5 847.1,806.1 848.7,805.9 850.2,805.8 851.8,805.8 853.4,805.7 855.0,805.7 856.6,805.7 858.2,805.6 859.8,805.5 861.4,805.4 863.0,805.4 864.5,805.4 866.1,805.6 867.7,805.8 869.3,806.2 870.9,806.6 872.5,807.1 874.1,807.5 875.7,808.0 877.2,808.5 878.8,809.2 880.4,809.8 882.0,810.4 883.6,810.9 885.2,811.1 886.8,811.1 888.3,811.0 889.9,810.9 891.5,810.9 893.1,810.8 894.7,810.8 896.3,810.8 897.9,810.9 899.5,810.9 901.0,810.8 902.6,810.8 904.2,810.8 905.8,810.9 907.4,811.0 909.0,811.0 910.6,810.9 912.2,810.7 913.8,810.5 915.3,810.3 916.9,810.0 918.5,809.7 920.1,809.4 921.7,809.2 923.3,808.9 924.9,808.7 926.5,808.5 928.0,808.4 929.6,808.4 931.2,808.4 932.8,808.3 934.4,808.2 936.0,808.1 937.6,808.1 939.2,808.1 940.7,808.0 942.3,807.9 943.9,807.8 945.5,807.7 947.1,807.8 948.7,807.9 950.3,808.1 951.8,808.4 953.4,808.7 955.0,809.1 956.6,809.5 958.2,809.9 959.8,810.3 961.4,810.5 963.0,810.7 964.5,810.8 966.1,810.9 967.7,810.8 969.3,810.7 970.9,810.4 972.5,810.0 974.1,809.6 975.7,809.3 977.2,809.2 978.8,809.1 980.4,809.0 982.0,809.0 983.6,808.9 985.2,808.8 986.8,808.7 988.4,808.7 990.0,808.7 991.5,808.7 993.1,808.7 994.7,808.7 996.3,808.6 997.9,808.5 999.5,808.4 1001.1,808.3 1002.7,808.0 1004.2,807.7 1005.8,807.4 1007.4,807.1 1009.0,807.0 1010.6,806.8 1012.2,806.7 1013.8,806.6 1015.4,806.4 1016.9,806.2 1018.5,806.1 1020.1,806.1 1021.7,805.9 1023.3,805.7 1024.9,805.4 1026.5,805.2 1028.1,805.1 1029.6,804.9 1031.2,804.8 1032.8,804.8 1034.4,804.7 1036.0,804.7 1037.6,804.7 1039.2,804.7 1040.8,804.7 1042.3,804.7 1043.9,804.6 1045.5,804.4 1047.1,804.2 1048.7,803.9 1050.3,803.7 1051.9,803.4 1053.4,803.1 1055.0,802.7 1056.6,802.4 1058.2,802.2 1059.8,802.1 1061.4,802.1 1063.0,802.1 1064.6,802.3 1066.2,802.6 1067.7,802.9 1069.3,803.3 1070.9,803.6 1072.5,803.9 1074.1,804.1 1075.7,804.3 1077.3,804.5 1078.8,804.7 1080.4,804.9 1082.0,805.1 1083.6,805.3 1085.2,805.4 1086.8,805.4 1088.4,805.4 1090.0,805.5 1091.6,805.7 1093.1,805.8 1094.7,805.8 1096.3,805.6 1097.9,805.4 1099.5,805.4 1101.1,805.4 1102.7,805.4 1104.2,805.4 1105.8,805.4 1107.4,805.4 1109.0,805.4 1110.6,805.3 1112.2,805.4 1113.8,805.4 1115.4,805.5 1116.9,805.5 1118.5,805.6 1120.1,805.7 1121.7,805.8 1123.3,805.8 1124.9,805.9 1126.5,806.0 1128.1,806.2 1129.7,806.6 1131.2,807.0 1132.8,807.3 1134.4,807.5 1136.0,807.5 1137.6,807.3 1139.2,806.9 1140.8,806.5 1142.3,806.0 1143.9,805.5 1145.5,805.2 1147.1,805.0 1148.7,804.9 1150.3,804.9 1151.9,804.8 1153.5,804.9 1155.1,804.9 1156.6,805.0 1158.2,805.1 1159.8,805.3 1161.4,805.5 1163.0,805.6 1164.6,805.8 1166.2,805.9 1167.8,805.9 1169.3,806.1 1170.9,806.3 1172.5,806.7 1174.1,807.0 1175.7,807.3 1177.3,807.7 1178.9,808.0 1180.5,808.3 1182.0,808.4 1183.6,808.6 1185.2,808.7 1186.8,808.8 1188.4,808.9 1190.0,809.2 1191.6,809.6 1193.2,809.9 1194.7,810.1 1196.3,810.3 1197.9,810.6 1199.5,810.7 1201.1,810.9 1202.7,811.1 1204.3,811.3 1205.8,811.5 1207.4,811.7 1209.0,811.9 1210.6,812.1 1212.2,812.2 1213.8,812.3 1215.4,812.5 1217.0,812.7 1218.6,812.8 1220.1,812.8 1221.7,812.7 1223.3,812.5 1224.9,812.4 1226.5,812.4 1228.1,812.3 1229.7,812.2 1231.2,811.9 1232.8,811.7 1234.4,811.5 1236.0,811.3 1237.6,811.0 1239.2,810.6 1240.8,810.1 1242.4,809.7 1243.9,809.4 1245.5,809.1 1247.1,808.8 1248.7,808.4 1250.3,807.9 1251.9,807.4 1253.5,806.9 1255.1,806.4 1256.7,805.8 1258.2,805.1 1259.8,804.4 1261.4,803.6 1263.0,803.0 1264.6,802.5 1266.2,802.1 1267.8,801.7 1269.3,801.2 1270.9,800.8 1272.5,800.3 1274.1,799.7 1275.7,798.9 1277.3,798.2 1278.9,797.6 1280.5,797.1 1282.1,796.6 1283.6,796.0 1285.2,795.5 1286.8,795.2 1288.4,795.0 1290.0,794.5 1291.6,793.8 1293.2,793.1 1294.8,792.5 1296.3,792.0 1297.9,791.4 1299.5,790.8 1301.1,790.5 1302.7,790.5 1304.3,790.5 1305.9,790.5 1307.4,790.1 1309.0,789.4 1310.6,788.8 1312.2,788.5 1313.8,788.5 1315.4,788.5 1317.0,788.1 1318.6,787.4 1320.2,786.4 1321.7,785.6 1323.3,785.2 1324.9,785.0 1326.5,784.8 1328.1,784.4 1329.7,784.0 1331.3,783.7 1332.8,783.5 1334.4,783.1 1336.0,782.6 1337.6,781.8 1339.2,780.9 1340.8,780.1 1342.4,779.4 1344.0,779.0 1345.6,778.6 1347.1,778.1 1348.7,777.7 1350.3,777.7 1351.9,777.8 1353.5,777.5 1355.1,776.5 1356.7,775.4 1358.2,774.5 1359.8,773.6 1361.4,772.9 1363.0,772.5 1364.6,772.4 1366.2,772.3 1367.8,771.9 1369.4,771.3 1371.0,770.8 1372.5,770.6 1374.1,770.8 1375.7,771.2 1377.3,771.7 1378.9,772.1 1380.5,772.4 1382.1,772.6 1383.7,773.1 1385.2,773.7 1386.8,774.0 1388.4,773.7 1390.0,773.1 1391.6,772.4 1393.2,771.6 1394.8,770.7 1396.3,770.1 1397.9,769.7 1399.5,769.5 1401.1,769.0 1402.7,768.3 1404.3,767.6 1405.9,767.3 1407.5,767.3 1409.1,767.3 1410.6,767.2 1412.2,767.0 1413.8,766.8 1415.4,766.6 1417.0,766.4 1418.6,766.1 1420.2,765.7 1421.8,765.0 1423.3,764.3 1424.9,763.8 1426.5,763.6 1428.1,763.4 1429.7,763.1 1431.3,762.5 1432.9,761.6 1434.4,760.8 1436.0,760.5 1437.6,760.5 1439.2,760.6 1440.8,760.7 1442.4,760.9 1444.0,761.1 1445.6,761.2 1447.2,761.1 1448.7,760.9 1450.3,760.7 1451.9,760.6 1453.5,760.3 1455.1,759.5 1456.7,758.6 1458.3,757.9 1459.8,757.7 1461.4,757.9 1463.0,758.2 1464.6,758.4 1466.2,758.4 1467.8,758.3 1469.4,758.0 1471.0,757.6 1472.6,757.0 1474.1,756.5 1475.7,756.2 1477.3,755.7 1478.9,755.1 1480.5,754.5 1482.1,754.0 1483.7,753.7 1485.2,753.3 1486.8,752.9 1488.4,752.3 1490.0,751.6 1491.6,751.1 1493.2,750.9 1494.8,751.1 1496.4,751.4 1497.9,751.7 1499.5,751.8 1501.1,751.6 1502.7,751.4 1504.3,751.7 1505.9,752.6 1507.5,754.2 1509.1,755.6 1510.7,756.3 1512.2,756.3 1513.8,756.1 1515.4,756.1 1517.0,756.2 1518.6,756.5 1520.2,756.6 1521.8,756.6 1523.3,756.4 1524.9,755.9 1526.5,755.2 1528.1,754.4 1529.7,753.5 1531.3,752.6 1532.9,752.2 1534.5,752.3 1536.0,752.4 1537.6,752.3 1539.2,752.4 1540.8,752.8 1542.4,753.3 1544.0,753.6 1545.6,753.5 1547.2,753.2 1548.8,753.1 1550.3,753.2 1551.9,753.2 1553.5,753.0 1555.1,752.6 1556.7,752.2 1558.3,752.0 1559.9,751.8 1561.5,751.8 1563.0,751.9 1564.6,752.2 1566.2,752.6 1567.8,752.7 1569.4,752.6 1571.0,752.3 1572.6,752.0 1574.1,751.7 1575.7,751.6 1577.3,752.0 1578.9,752.5 1580.5,752.7 1582.1,752.6 1583.7,752.3 1585.3,752.0 1586.8,752.0 1588.4,752.1 1590.0,751.9 1591.6,751.7 1593.2,751.5 1594.8,751.4 1596.4,751.1 1598.0,750.6 1599.5,750.1 1601.1,749.6 1602.7,749.4 1604.3,749.4 1605.9,749.7 1607.5,750.2 1609.1,750.4 1610.7,750.1 1612.2,749.5 1613.8,748.8 1615.4,748.3 1617.0,748.3 1618.6,749.2 1620.2,750.4 1621.8,751.4 1623.4,751.8 1625.0,751.8 1626.5,751.6 1628.1,751.4 1629.7,751.3 1631.3,750.9 1632.9,750.1 1634.5,749.0 1636.1,747.9 1637.7,747.0 1639.2,746.4 1640.8,745.9 1642.4,745.1 1644.0,744.3 1645.6,743.8 1647.2,743.7 1648.8,743.8 1650.4,744.1 1651.9,744.6 1653.5,745.0 1655.1,745.4 1656.7,745.6 1658.3,745.7 1659.9,745.8 1661.5,745.8 1663.0,746.0 1664.6,746.6 1666.2,747.3 1667.8,747.8 1669.4,747.5 1671.0,746.7 1672.6,745.8 1674.2,745.2 1675.8,744.8 1677.3,744.4 1678.9,744.1 1680.5,744.1 1682.1,744.3 1683.7,745.0 1685.3,746.0 1686.9,747.1 1688.5,747.2 1690.0,746.3 1691.6,744.9 1693.2,743.7 1694.8,743.0 1696.4,742.6 1698.0,742.6 1699.6,742.7 1701.2,743.1 1702.7,743.4 1704.3,743.4 1705.9,743.1 1707.5,742.7 1709.1,742.2 1710.7,741.8 1712.3,741.3 1713.9,740.5 1715.4,739.6 1717.0,738.8 1718.6,738.0 1720.2,737.3 1721.8,736.8 1723.4,736.0 1725.0,734.9 1726.5,733.6 1728.1,732.6 1729.7,732.2 1731.3,732.4 1732.9,732.7 1734.5,732.6 1736.1,732.3 1737.7,732.1 1739.2,732.1 1740.8,732.4 1742.4,732.7 1744.0,732.8 1745.6,732.8 1747.2,732.9 1748.8,733.3 1750.4,734.1 1752.0,734.9 1753.5,735.6 1755.1,736.0 1756.7,736.1 1758.3,736.1 1759.9,736.5 1761.5,737.4 1763.1,738.6 1764.6,739.5 1766.2,739.8 1767.8,739.6 1769.4,739.1 1771.0,738.1 1772.6,737.3 1774.2,736.9 1775.8,737.1 1777.4,737.6 1778.9,738.0 1780.5,738.2 1782.1,738.3 1783.7,738.6 1785.3,739.2 1786.9,740.0 1788.5,740.9 1790.1,741.9 1791.6,743.1 1793.2,744.6 1794.8,746.2 1796.4,747.4 1798.0,748.2 1799.6,748.7 1801.2,749.0 1802.7,749.2 1804.3,749.2 1805.9,749.0 1807.5,748.9 1809.1,749.2 1810.7,749.8 1812.3,750.3 1813.9,750.6 1815.5,750.5 1817.0,750.4 1818.6,750.7 1820.2,751.3 1821.8,752.1 1823.4,752.6 1825.0,752.9 1826.6,752.6 1828.1,752.1 1829.7,751.3 1831.3,750.3 1832.9,749.4 1834.5,748.9 1836.1,749.3 1837.7,750.2 1839.3,750.8 1840.8,751.1 1842.4,751.1 1844.0,751.2 1845.6,751.2 1847.2,751.2 1848.8,751.1 1850.4,751.2 1852.0,751.5 1853.5,752.2 1855.1,753.1 1856.7,753.9 1858.3,754.3 1859.9,754.5 1861.5,754.8 1863.1,755.3 1864.7,756.1 1866.2,757.0 1867.8,757.8 1869.4,758.0 1871.0,757.6 1872.6,757.1 1874.2,757.0 1875.8,757.3 1877.4,757.5 1878.9,757.5 1880.5,757.6 1882.1,757.7 1883.7,758.0 1885.3,758.2 1886.9,758.4 1888.5,758.5 1890.1,758.5 1891.6,758.6 1893.2,758.8 1894.8,759.2 1896.4,759.8 1898.0,760.4 1899.6,760.9 1901.2,761.4 1902.8,761.7 1904.4,761.8 1905.9,761.6 1907.5,761.3 1909.1,761.1 1910.7,761.2 1912.3,761.5 1913.9,762.0 1915.5,762.4 1917.0,762.5 1918.6,762.4 1920.2,762.3 1921.8,762.3 1923.4,762.3 1925.0,762.3 1926.6,762.3 1928.2,762.3 1929.8,762.5 1931.3,762.7 1932.9,763.0 1934.5,763.3 1936.1,763.8 1937.7,764.2 1939.3,764.5 1940.9,764.6 1942.5,764.6 1944.0,764.7 1945.6,765.0 1947.2,765.4 1948.8,765.8 1950.4,766.1 1952.0,766.2 1953.6,766.2 1955.1,766.2 1956.7,766.3 1958.3,766.3 1959.9,766.4 1961.5,766.6 1963.1,766.8 1964.7,767.0 1966.3,767.2 1967.9,767.3 1969.4,767.3 1971.0,767.5 1972.6,767.8 1974.2,768.3 1975.8,768.8 1977.4,769.2 1979.0,769.3 1980.6,769.4 1982.1,769.6 1983.7,770.0 1985.3,770.3 1986.9,770.6 1988.5,770.9 1990.1,771.1 1991.7,771.2 1993.2,771.4 1994.8,771.5 1996.4,771.8 1998.0,772.0 1999.6,772.2 2001.2,772.3 2002.8,772.4 2004.4,772.4 2006.0,772.5 2007.5,772.6 2009.1,772.8 2010.7,772.9 2012.3,773.0 2013.9,773.0 2015.5,773.1 2017.1,773.2 2018.6,773.3 2020.2,773.5 2021.8,773.8 2023.4,774.1 2025.0,774.4 2026.6,774.7 2028.2,775.1 2029.8,775.5 2031.4,775.9 2032.9,776.2 2034.5,776.5 2036.1,776.8 2037.7,777.1 2039.3,777.3 2040.9,777.5 2042.5,777.9 2044.1,778.2 2045.6,778.5 2047.2,778.8 2048.8,779.1 2050.4,779.5 2052.0,779.9 2053.6,780.2 2055.2,780.4 2056.8,780.5 2058.3,780.7 2059.9,781.0 2061.5,781.4 2063.1,781.8 2064.7,782.3 2066.3,782.9 2067.9,783.4 2069.4,783.9 2071.0,784.4 2072.6,784.9 2074.2,785.3 2075.8,785.6 2077.4,785.7 2079.0,785.8 2080.6,785.8 2082.2,785.8 2083.7,785.7 2085.3,785.7 2086.9,785.8 2088.5,786.0 2090.1,786.3 2091.7,786.6 2093.3,786.8 2094.9,786.9 2096.4,787.0 2098.0,787.2 2099.6,787.4 2101.2,787.5 2102.8,787.7 2104.4,787.8 2106.0,788.1 2107.6,788.4 2109.1,788.7 2110.7,789.0 2112.3,789.3 2113.9,789.8 2115.5,790.3 2117.1,790.8 2118.7,791.4 2120.2,791.9 2121.8,792.6 2123.4,793.2 2125.0,793.7 2126.6,794.2 2128.2,794.7 2129.8,795.1 2131.4,795.4 2132.9,795.6 2134.5,795.9 2136.1,796.2 2137.7,796.5 2139.3,796.7 2140.9,796.8 2142.5,797.0 2144.1,797.3 2145.6,797.5 2147.2,797.6 2148.8,797.6 2150.4,797.8 2152.0,798.0 2153.6,798.3 2155.2,798.5 2156.8,798.8 2158.4,799.1 2159.9,799.4 2161.5,799.6 2163.1,799.8 2164.7,800.0 2166.3,800.2 2167.9,800.3 2169.5,800.4 2171.1,800.5 2172.6,800.6 2174.2,800.7 2175.8,800.7 2177.4,800.9 2179.0,801.0 2180.6,801.2 2182.2,801.4 2183.8,801.5 2185.3,801.5 2186.9,801.6 2188.5,801.6 2190.1,801.7 2191.7,801.8 2193.3,801.8 2194.9,801.7 2196.4,801.7 2198.0,801.7 2199.6,801.6 2201.2,801.6 2202.8,801.6 2204.4,801.6 2206.0,801.5 2207.6,801.4 2209.1,801.4 2210.7,801.3 2212.3,801.2 2213.9,800.9 2215.5,800.6 2217.1,800.2 2218.7,800.0 2220.3,799.9 2221.9,799.8 2223.4,799.6 2225.0,799.3 2226.6,799.0 2228.2,798.9 2229.8,798.9 2231.4,799.1 2233.0,799.4 2234.6,799.5 2236.1,799.6 2237.7,799.5 2239.3,799.5 2240.9,799.5 2242.5,799.6 2244.1,799.7 2245.7,799.7 2247.2,799.7 2248.8,799.8 2250.4,799.9 2252.0,799.9 2253.6,799.9 2255.2,799.9 2256.8,799.9 2258.4,799.8 2259.9,799.6 2261.5,799.4 2263.1,799.2 2264.7,799.1 2266.3,798.9 2267.9,798.7 2269.5,798.5 2271.1,798.3 2272.6,798.1 2274.2,797.9 2275.8,797.7 2277.4,797.6 2279.0,797.6 2280.6,797.6 2282.2,797.8 2283.8,797.9 2285.4,798.1 2286.9,798.1 2288.5,798.2 2290.1,798.4 2291.7,798.6 2293.3,798.7 2294.9,798.7 2296.5,798.8 2298.1,798.9 2299.6,799.1 2301.2,799.3 2302.8,799.6 2304.4,799.8 2306.0,799.9 2307.6,799.9 2309.2,799.9 2310.8,800.0 2312.3,800.1 2313.9,800.2 2315.5,800.3 2317.1,800.5 2318.7,800.7 2320.3,800.8 2321.9,800.9 2323.4,801.0 2325.0,801.1 2326.6,801.0 2328.2,800.9 2329.8,800.9 2331.4,800.9 2333.0,801.0 2334.6,801.1 2336.1,801.3 2337.7,801.6 2339.3,801.7 2340.9,801.9 2342.5,802.0 2344.1,802.2 2345.7,802.5 2347.3,802.8 2348.9,803.1 2350.4,803.2 2352.0,803.2 2353.6,803.2 2355.2,803.2 2356.8,803.3 2358.4,803.5 2360.0,803.6 2361.6,803.7 2363.1,803.7 2364.7,803.7 2366.3,803.8 2367.9,803.8 2369.5,803.9 2371.1,804.1 2372.7,804.3 2374.2,804.6 2375.8,804.9 2377.4,805.3 2379.0,805.7 2380.6,806.1 2382.2,806.5 2383.8,806.9 2385.4,807.2 2386.9,807.4 2388.5,807.5 2390.1,807.5 2391.7,807.5 2393.3,807.5 2394.9,807.6 2396.5,807.8 2398.1,807.9 2399.7,808.0 2401.2,808.1 2402.8,808.1 2404.4,808.1 2406.0,808.2" fill="none" stroke="#1a1a1a" stroke-width="2.5" stroke-linejoin="round" stroke-linecap="butt"/>
</g>
<path d="M659.8 687.9v20.5M659.8 1105.5v-20.5M818.5 687.9v20.5M818.5 1105.5v-20.5M977.2 687.9v20.5M977.2 1105.5v-20.5M1136.0 687.9v20.5M1136.0 1105.5v-20.5M1294.8 687.9v20.5M1294.8 1105.5v-20.5M1453.5 687.9v20.5M1453.5 1105.5v-20.5M1612.2 687.9v20.5M1612.2 1105.5v-20.5M1771.0 687.9v20.5M1771.0 1105.5v-20.5M1929.8 687.9v20.5M1929.8 1105.5v-20.5M2088.5 687.9v20.5M2088.5 1105.5v-20.5M2247.2 687.9v20.5M2247.2 1105.5v-20.5M501.0 1088.8h10.8M2406.0 1088.8h-10.8M501.0 1072.1h10.8M2406.0 1072.1h-10.8M501.0 1055.4h10.8M2406.0 1055.4h-10.8M501.0 1038.7h10.8M2406.0 1038.7h-10.8M501.0 1022.0h19.5M2406.0 1022.0h-19.5M501.0 1005.3h10.8M2406.0 1005.3h-10.8M501.0 988.6h10.8M2406.0 988.6h-10.8M501.0 971.9h10.8M2406.0 971.9h-10.8M501.0 955.2h10.8M2406.0 955.2h-10.8M501.0 938.5h19.5M2406.0 938.5h-19.5M501.0 921.8h10.8M2406.0 921.8h-10.8M501.0 905.1h10.8M2406.0 905.1h-10.8M501.0 888.3h10.8M2406.0 888.3h-10.8M501.0 871.6h10.8M2406.0 871.6h-10.8M501.0 854.9h19.5M2406.0 854.9h-19.5M501.0 838.2h10.8M2406.0 838.2h-10.8M501.0 821.5h10.8M2406.0 821.5h-10.8M501.0 804.8h10.8M2406.0 804.8h-10.8M501.0 788.1h10.8M2406.0 788.1h-10.8M501.0 771.4h19.5M2406.0 771.4h-19.5M501.0 754.7h10.8M2406.0 754.7h-10.8M501.0 738.0h10.8M2406.0 738.0h-10.8M501.0 721.3h10.8M2406.0 721.3h-10.8M501.0 704.6h10.8M2406.0 704.6h-10.8" stroke="#141414" stroke-width="2.1" fill="none"/>
<rect x="501.0" y="687.9" width="1905.0" height="417.6" fill="none" stroke="#141414" stroke-width="2.15"/>
<text x="475.5" y="704.3" text-anchor="end">150</text>
<text x="475.5" y="787.8" text-anchor="end">100</text>
<text x="475.5" y="871.3" text-anchor="end">50</text>
<text x="475.5" y="954.9" text-anchor="end">0</text>
<text x="475.5" y="1038.4" text-anchor="end">50</text>
<rect x="387.8" y="1018.8" width="30.7" height="2.5" fill="#1c1c1c"/>
<text x="475.5" y="1121.9" text-anchor="end">100</text>
<rect x="360.3" y="1102.3" width="30.7" height="2.5" fill="#1c1c1c"/>
<text x="499.0" y="1168.5" text-anchor="middle">00:00</text>
<text x="816.5" y="1168.5" text-anchor="middle">04:00</text>
<text x="1134.0" y="1168.5" text-anchor="middle">08:00</text>
<text x="1451.5" y="1168.5" text-anchor="middle">12:00</text>
<text x="1769.0" y="1168.5" text-anchor="middle">16:00</text>
<text x="2086.5" y="1168.5" text-anchor="middle">20:00</text>
<text x="2404.0" y="1168.5" text-anchor="middle">00:00</text>
<text transform="translate(335.8 895.5) rotate(-90)" text-anchor="middle">d<tspan class="i">B</tspan> / nT</text>
<text x="2246" y="663.2" text-anchor="end" letter-spacing="0.2">Residual with Swarm model</text>
<text x="2405" y="663.2" text-anchor="end">(b)</text>
<text y="751.3" id="annb"><tspan x="542">d</tspan><tspan class="bi" x="573.2">F</tspan><tspan x="654.2">23.4273</tspan><tspan class="i" x="832.5">t</tspan><tspan x="882">1.7252</tspan><tspan x="1031.5">×</tspan><tspan x="1064.9">10</tspan><tspan x="1119.5" dy="-19.5" font-size="30">7</tspan></text>
<rect x="614" y="727.3" width="30.8" height="2.4" fill="#1c1c1c"/><rect x="614" y="736.7" width="30.8" height="2.4" fill="#1c1c1c"/><rect x="848.6" y="731.1" width="30.9" height="2.4" fill="#1c1c1c"/>
<rect x="504.0" y="24" width="88.0" height="16" fill="#ffffff" fill-opacity="0.85"/>
<line x1="504.0" y1="31.3" x2="589.5" y2="31.3" stroke="#1a1a1a" stroke-width="2.8"/>
<text x="606.0" y="45.7">d<tspan class="bi" dx="3.5">F</tspan></text>
<rect x="712.0" y="24" width="96.0" height="16" fill="#ffffff" fill-opacity="0.85"/>
<line x1="713.5" y1="31.3" x2="800.0" y2="31.3" stroke="#c4194f" stroke-width="2.8"/>
<text x="820.0" y="45.7">d<tspan class="i">x</tspan></text>
<rect x="912.0" y="24" width="96.0" height="16" fill="#ffffff" fill-opacity="0.85"/>
<line x1="913.0" y1="31.3" x2="1000.0" y2="31.3" stroke="#93938c" stroke-width="2.8"/>
<text x="1022.0" y="45.7">d<tspan class="i">y</tspan></text>
<rect x="1112.0" y="24" width="96.0" height="16" fill="#ffffff" fill-opacity="0.85"/>
<line x1="1116.0" y1="31.3" x2="1202.7" y2="31.3" stroke="#444444" stroke-width="2.8"/>
<text x="1223.0" y="45.7">d<tspan class="i">z</tspan></text>
<rect x="1312.0" y="24" width="96.0" height="16" fill="#ffffff" fill-opacity="0.85"/>
<line x1="1314.7" y1="31.3" x2="1400.0" y2="31.3" stroke="#858585" stroke-width="2.6" stroke-dasharray="20.5 14.5"/>
<text x="1419.0" y="45.7"><tspan word-spacing="2.5">Fit to d</tspan><tspan class="bi" dx="3.5">F</tspan></text>
<text x="1452.5" y="1236.3" text-anchor="middle" letter-spacing="0.42">Universal Time (UT)</text>
</svg>
</body></html>
